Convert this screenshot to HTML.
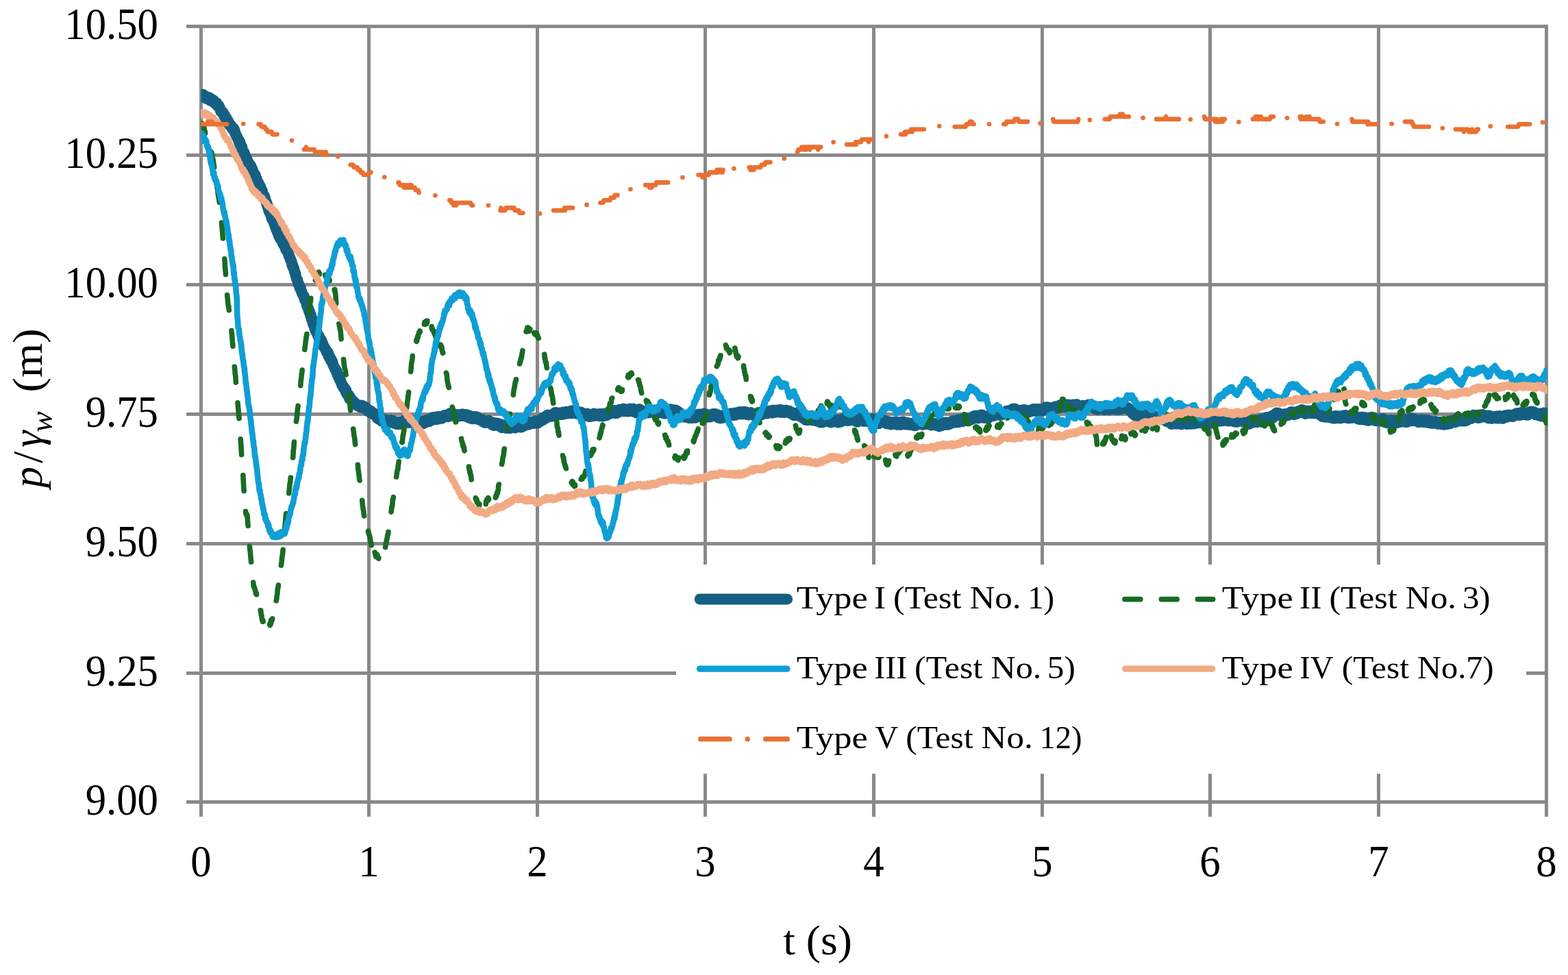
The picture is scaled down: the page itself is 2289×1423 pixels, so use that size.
<!DOCTYPE html>
<html lang="en"><head><meta charset="utf-8"><title>p/γw (m) vs t (s)</title>
<style>
html,body{margin:0;padding:0;background:#ffffff;}
body{width:2289px;height:1423px;overflow:hidden;font-family:'Liberation Serif','DejaVu Serif',serif;}
svg{display:block;}
</style></head><body>
<svg width="2289" height="1423" viewBox="0 0 2289 1423">
<rect width="2289" height="1423" fill="#ffffff"/>
<g fill="#898989" shape-rendering="crispEdges">
<rect x="272" y="36" width="1988" height="5"/>
<rect x="272" y="224" width="1988" height="5"/>
<rect x="272" y="413" width="1988" height="5"/>
<rect x="272" y="602" width="1988" height="5"/>
<rect x="272" y="791" width="1988" height="5"/>
<rect x="272" y="980" width="1988" height="5"/>
<rect x="272" y="1168" width="1988" height="5"/>
<rect x="291" y="36" width="5" height="1156"/>
<rect x="536" y="36" width="5" height="1156"/>
<rect x="782" y="36" width="5" height="1156"/>
<rect x="1027" y="36" width="5" height="1156"/>
<rect x="1273" y="36" width="5" height="1156"/>
<rect x="1519" y="36" width="5" height="1156"/>
<rect x="1764" y="36" width="5" height="1156"/>
<rect x="2010" y="36" width="5" height="1156"/>
<rect x="2255" y="36" width="5" height="1156"/>
</g>
<rect x="987" y="824" width="1241" height="305.3" fill="#ffffff"/>
<clipPath id="pc"><rect x="293.4" y="20" width="1965.6" height="1160"/></clipPath>
<g fill="none" stroke-linecap="round" stroke-linejoin="round">
<g clip-path="url(#pc)">
<path stroke="#156082" stroke-width="16" d="M293.3 139.7l0.5 1.1 0.5 -0.5 0.5 -2 0.5 0.4 0.5 2.5 0.5 -3.3 0.5 3.6 0.5 0.2 0.5 -1.1 0.5 -0.5 0.5 0 0.5 0.1 0.5 1 0.5 0.4 0.5 0.4 0.5 2 0.5 -0.7 0.5 -0.4 0.5 1.8 0.5 -2.7 0.5 0 0.5 2.1 0.5 -2.1 0.5 0.2 0.5 2.3 0.5 0.1 0.5 2.1 0.5 -0.9 0.5 -0.1 0.5 0.2 0.5 -0.6 0.5 -0.6 0.5 1.1 0.5 2.2 0.5 -1.7 0.5 1 0.5 -1.1 0.5 3.7 0.5 -2.4 0.5 0.8 0.5 2.7 0.5 -1.1 0.5 1.8 0.5 -0.3 0.5 0.9 0.5 -2.1 0.5 2.3 0.5 0.4 0.5 2.1 0.5 -1.4 0.5 1.7 0.5 -1.3 0.5 2.1 0.5 0.6 0.5 0.2 0.5 3.5 0.5 -0.8 0.5 3.3 0.5 -0.7 0.5 0.9 0.5 0.8 0.5 0.8 0.5 -1.4 0.5 1.9 0.5 -0.1 0.5 1.3 0.5 -0.5 0.5 4.1 0.5 -2.2 0.5 2.7 0.5 -0.5 0.5 3.2 0.5 -0.1 0.5 -1.3 0.5 3.7 0.5 1.2 0.5 0.8 0.5 -0.4 0.5 -0.9 0.5 0.9 0.5 3.8 0.5 -0.7 0.5 -0.7 0.5 3.7 0.5 -0.3 0.5 0.5 0.5 0 0.5 0.7 0.5 0 0.5 -0.1 0.5 3.9 0.5 -1 0.5 0.8 0.5 -0.1 0.5 2.4 0.5 -2.1 0.5 2.1 0.5 -0.4 0.5 1.4 0.5 4.4 0.5 -0.1 0.5 0.2 0.5 1.6 0.5 2.4 0.5 -1 0.5 2.1 0.5 1.6 0.5 -0.3 0.5 1.7 0.5 2.1 0.5 1.6 0.5 -1.8 0.5 4.4 0.5 -2.5 0.5 4.3 0.5 1.4 0.5 -1.5 0.5 2.3 0.5 2.8 0.5 -2 0.5 3.7 0.5 1.8 0.5 0.1 0.5 2 0.5 -0.9 0.5 1 0.5 1.8 0.5 0.6 0.5 1.9 0.5 3.5 0.5 -0.4 0.5 0.2 0.5 0.7 0.5 3.7 0.5 -1.1 0.5 3.2 0.5 -0.9 0.5 0.9 0.5 2.4 0.5 0.3 0.5 0.2 0.5 0.2 0.5 2.8 0.5 -0.9 0.5 3 0.5 -2.4 0.5 2.4 0.5 1.3 0.5 2.6 0.5 -1.9 0.5 3.1 0.5 0.6 0.5 1.1 0.5 0.8 0.5 2.5 0.5 -1.4 0.5 1.4 0.5 0.3 0.5 0.7 0.5 2 0.5 4 0.5 0.9 0.5 -1.7 0.5 3 0.5 0.5 0.5 1.5 0.5 1.3 0.5 -0.3 0.5 3.7 0.5 -1 0.5 1.7 0.5 1.1 0.5 -0.7 0.5 0.7 0.5 2.6 0.5 2.6 0.5 1.3 0.5 0.7 0.5 -1.3 0.5 4.4 0.5 0.8 0.5 1.6 0.5 0 0.5 2.8 0.5 -2.2 0.5 1.4 0.5 1.4 0.5 2.4 0.5 1.5 0.5 1.2 0.5 2.9 0.5 -0.8 0.5 3.6 0.5 -0.2 0.5 3.5 0.5 -1.2 0.5 2.5 0.5 4 0.5 -0.3 0.5 2.4 0.5 0.7 0.5 1.3 0.5 -0.3 0.5 2.7 0.5 -1 0.5 4.2 0.5 1.8 0.5 0.7 0.5 -2.1 0.5 2.3 0.5 1.1 0.5 0.3 0.5 3.1 0.5 2 0.5 -0.6 0.5 3.5 0.5 1.1 0.5 -1.3 0.5 4 0.5 1.8 0.5 -1.3 0.5 3 0.5 1.6 0.5 1.2 0.5 -0.9 0.5 3.4 0.5 1 0.5 1.8 0.5 0.9 0.5 -0.9 0.5 2.4 0.5 1.4 0.5 0.9 0.5 -2.1 0.5 0.3 0.5 3.5 0.5 -0.8 0.5 2.4 0.5 2.5 0.5 -1.2 0.5 0.6 0.5 1.9 0.5 1.8 0.5 -1.2 0.5 2.2 0.5 0 0.5 3.1 0.5 1.7 0.5 -0.8 0.5 1 0.5 1.7 0.5 -0.3 0.5 1.2 0.5 1.4 0.5 1.8 0.5 -0.3 0.5 3.9 0.5 0.6 0.5 0.3 0.5 0.4 0.5 4.1 0.5 -1 0.5 1.4 0.5 1.5 0.5 1.1 0.5 4.7 0.5 -1.2 0.5 1.5 0.5 3.3 0.5 0.5 0.5 -0.3 0.5 2.4 0.5 3.4 0.5 -0.5 0.5 3 0.5 -0.7 0.5 4.1 0.5 2 0.5 2 0.5 1.1 0.5 0.5 0.5 0.4 0.5 3.4 0.5 2.4 0.5 -1 0.5 1.5 0.5 2.2 0.5 2 0.5 1.8 0.5 -2 0.5 1.3 0.5 3.5 0.5 0.4 0.5 1.3 0.5 2.4 0.5 1 0.5 0.9 0.5 1 0.5 -0.2 0.5 2.3 0.5 -0.6 0.5 3.6 0.5 1.5 0.5 1.3 0.5 0.2 0.5 1.1 0.5 1.6 0.5 -0.2 0.5 4.5 0.5 0.1 0.5 0.7 0.5 1.9 0.5 2 0.5 -0.1 0.5 3.2 0.5 1.7 0.5 -0.8 0.5 0.3 0.5 3.8 0.5 2.5 0.5 -1.7 0.5 3.9 0.5 2.2 0.5 2 0.5 -1.6 0.5 1.5 0.5 5.2 0.5 -1.8 0.5 1.8 0.5 3.1 0.5 0.8 0.5 2.6 0.5 -0.8 0.5 4.2 0.5 -1.5 0.5 3.4 0.5 -1.6 0.5 2.9 0.5 -0.6 0.5 2.2 0.5 1 0.5 2.5 0.5 -0.3 0.5 -0.7 0.5 4.6 0.5 0.4 0.5 1 0.5 -2 0.5 1.4 0.5 0.3 0.5 0.7 0.5 0.7 0.5 3 0.5 -0.5 0.5 1.2 0.5 3.8 0.5 -0.6 0.5 -0.1 0.5 3 0.5 -0.7 0.5 1.9 0.5 -0.1 0.5 1.7 0.5 1.2 0.5 0.4 0.5 0.2 0.5 2.5 0.5 1.1 0.5 -2 0.5 0.7 0.5 0.9 0.5 4.5 0.5 0.9 0.5 -1.6 0.5 4 0.5 -2 0.5 2.3 0.5 1 0.5 2.7 0.5 -2.5 0.5 1.9 0.5 2.2 0.5 -1.2 0.5 1.6 0.5 2 0.5 2.6 0.5 0.5 0.5 1.3 0.5 1 0.5 0.9 0.5 1.8 0.5 0.4 0.5 1.4 0.5 -0.6 0.5 0.5 0.5 3.5 0.5 -1.2 0.5 4.2 0.5 -0.3 0.5 0 0.5 3.5 0.5 -2.1 0.5 2.5 0.5 -0.6 0.5 4.7 0.5 -0.3 0.5 2.1 0.5 -0.9 0.5 3.3 0.5 0.7 0.5 0.9 0.5 2.4 0.5 -0.9 0.5 0.9 0.5 2.1 0.5 1.4 0.5 -1.1 0.5 2.2 0.5 -0.9 0.5 2.2 0.5 1.8 0.5 -2 0.5 3.5 0.5 -2 0.5 4.7 0.5 -1 0.5 0.6 0.5 2.2 0.5 0 0.5 1.7 0.5 -1.8 0.5 2.9 0.5 0.9 0.5 2.4 0.5 -2.8 0.5 2.4 0.5 1.5 0.5 0.3 0.5 -1.2 0.5 2.6 0.5 -1.1 0.5 0.3 0.5 3.1 0.5 -2.3 0.5 1.4 0.5 1.5 0.5 0.1 0.5 -0.4 0.5 1.3 0.5 -0.9 0.5 1.1 0.5 1.2 0.5 -0.2 0.5 0.3 0.5 -0.6 0.5 1 0.5 -0.2 0.5 1.8 0.5 -1.1 0.5 0.5 0.5 1.4 0.5 -0.9 0.5 -0.4 0.5 2.1 0.5 -1.7 0.5 1.9 0.5 -0.1 0.5 -1.3 0.5 1.2 0.5 -2.6 0.5 1.5 0.5 1.9 0.5 -1.1 0.5 0 0.5 0.6 0.5 0.3 0.5 -0.2 0.5 -0.4 0.5 -0.7 0.5 0.6 0.5 0.4 0.5 0.9 0.5 2.8 0.5 -2.1 0.5 0.8 0.5 0.2 0.5 1.3 0.5 1.8 0.5 0.2 0.5 -1.6 0.5 0 0.5 2.8 0.5 -1.2 0.5 1.1 0.5 -2.1 0.5 3.4 0.5 -1.9 0.5 1 0.5 -0.9 0.5 1.2 0.5 1.9 0.5 0.2 0.5 -1.2 0.5 1.5 0.5 -1 0.5 0 0.5 1.2 0.5 -1 0.5 1 0.5 2.2 0.5 0.9 0.5 -2.2 0.5 3.4 0.5 1 0.5 -0.9 0.5 -0.9 0.5 3 0.5 -1.3 0.5 1.9 0.5 -0.7 0.5 1.3 0.5 -1.3 0.5 1 0.5 0.4 0.5 0.5 0.5 -1.6 0.5 3.1 0.5 -2.5 0.5 0.1 0.5 0.1 0.5 -0.6 0.5 1.5 0.5 1.5 0.5 -0.2 0.5 -1.9 0.5 -0.1 0.5 1 0.5 1.9 0.5 -1 0.5 1.7 0.5 -0.9 0.5 0 0.5 0.8 0.5 0 0.5 -1.6 0.5 -0.3 0.5 0.8 0.5 0.2 0.5 -1.5 0.5 1.2 0.5 0.7 0.5 -2.1 0.5 0 0.5 0.1 0.5 0.6 0.5 2.8 0.5 -3.7 0.5 0.8 0.5 0.2 0.5 1.5 0.5 -1.5 0.5 1.9 0.5 -1.1 0.5 0.7 0.5 2.3 0.5 -2.3 0.5 2 0.5 -0.7 0.5 0.2 0.5 1.5 0.5 -2.6 0.5 3.1 0.5 0 0.5 -0.9 0.5 -2.5 0.5 2.5 0.5 -0.4 0.5 0.7 0.5 -2.3 0.5 3 0.5 -0.2 0.5 -3.1 0.5 0.6 0.5 -1.3 0.5 3 0.5 0.1 0.5 0.1 0.5 -1.7 0.5 -0.1 0.5 -0.4 0.5 -0.7 0.5 1.3 0.5 -1.4 0.5 -1 0.5 0.7 0.5 -2 0.5 2.9 0.5 0 0.5 -0.9 0.5 2 0.5 -0.2 0.5 -1.6 0.5 -1.1 0.5 0.1 0.5 0.1 0.5 0.4 0.5 0.4 0.5 1.8 0.5 -2.8 0.5 2.3 0.5 -1 0.5 0.6 0.5 -1.7 0.5 -1.5 0.5 3.2 0.5 -2 0.5 -0.3 0.5 2.7 0.5 -0.3 0.5 -1.9 0.5 0.3 0.5 2.7 0.5 -2.7 0.5 1.6 0.5 -2.3 0.5 2.7 0.5 -2.7 0.5 1.7 0.5 -1.8 0.5 2.2 0.5 1.3 0.5 -3 0.5 1 0.5 2.2 0.5 -0.6 0.5 -1.2 0.5 1.1 0.5 -0.9 0.5 1.6 0.5 -2.2 0.5 1.9 0.5 -0.4 0.5 0.4 0.5 -1.6 0.5 1.4 0.5 0 0.5 -1 0.5 -1.3 0.5 3.7 0.5 -1.2 0.5 -2.3 0.5 2 0.5 -2 0.5 0.7 0.5 1.4 0.5 -1.8 0.5 -1 0.5 -0.2 0.5 -1.2 0.5 0.5 0.5 0 0.5 -0.4 0.5 -0.6 0.5 1.6 0.5 -1.2 0.5 1.9 0.5 0.6 0.5 -2.8 0.5 1.1 0.5 -0.6 0.5 -1.9 0.5 -0.2 0.5 2.7 0.5 -2.1 0.5 1 0.5 -3.1 0.5 2.1 0.5 1 0.5 -0.1 0.5 -3.5 0.5 2 0.5 -0.6 0.5 1.6 0.5 -2.7 0.5 0.8 0.5 2.1 0.5 -1.6 0.5 -0.3 0.5 2 0.5 -2.9 0.5 -1.2 0.5 1.3 0.5 -1 0.5 -0.4 0.5 1.9 0.5 1.6 0.5 -1.4 0.5 0.4 0.5 -1.3 0.5 1 0.5 0.7 0.5 -0.8 0.5 0.7 0.5 -1.2 0.5 -1.5 0.5 1.2 0.5 -0.8 0.5 -1.7 0.5 1.6 0.5 0.6 0.5 -2.9 0.5 1.5 0.5 0.6 0.5 -1.3 0.5 -0.7 0.5 0.4 0.5 0.6 0.5 0.6 0.5 -0.6 0.5 -1.9 0.5 2.7 0.5 0.3 0.5 -3.7 0.5 0.2 0.5 -0.6 0.5 2.4 0.5 0 0.5 -3.6 0.5 0.9 0.5 -0.7 0.5 1 0.5 1.7 0.5 -3.3 0.5 0.6 0.5 1.5 0.5 0.3 0.5 1.1 0.5 -1 0.5 -0.9 0.5 1.1 0.5 2.7 0.5 -0.6 0.5 -2.4 0.5 2.9 0.5 -1.8 0.5 1.9 0.5 -2.9 0.5 3.4 0.5 -2.8 0.5 1.3 0.5 0.8 0.5 -0.6 0.5 -1.4 0.5 0 0.5 0.5 0.5 -0.9 0.5 0.5 0.5 -0.4 0.5 1.3 0.5 -0.6 0.5 0.8 0.5 -1.3 0.5 -1.2 0.5 0.9 0.5 1.6 0.5 -2.1 0.5 0.5 0.5 1.4 0.5 -1.5 0.5 2 0.5 0.2 0.5 -2.3 0.5 1.8 0.5 -1.7 0.5 -0.3 0.5 1.4 0.5 0.8 0.5 1.6 0.5 -2.9 0.5 2.6 0.5 -0.7 0.5 -1.3 0.5 3.5 0.5 -1 0.5 -2 0.5 3.4 0.5 -2.9 0.5 0.1 0.5 1.1 0.5 2.5 0.5 -3.5 0.5 3.7 0.5 -1 0.5 -2 0.5 1.9 0.5 -0.6 0.5 0.3 0.5 0.6 0.5 -0.4 0.5 1.2 0.5 -3.4 0.5 2.6 0.5 -1.6 0.5 1.5 0.5 0.5 0.5 0.4 0.5 -2.7 0.5 0.9 0.5 2.4 0.5 0.3 0.5 -2 0.5 2.5 0.5 -1.8 0.5 0.2 0.5 1.9 0.5 -0.7 0.5 0.3 0.5 0.1 0.5 0.4 0.5 -1 0.5 0.1 0.5 3 0.5 -0.5 0.5 0.6 0.5 0.9 0.5 -2 0.5 0.1 0.5 0.5 0.5 0.3 0.5 2 0.5 -1.5 0.5 -0.3 0.5 1.3 0.5 -1.9 0.5 -0.4 0.5 2.2 0.5 0.2 0.5 -2 0.5 1.4 0.5 -2.4 0.5 1.5 0.5 0.9 0.5 -1 0.5 0.7 0.5 1.4 0.5 0.2 0.5 -1.6 0.5 2.6 0.5 -2.4 0.5 3.9 0.5 -2.8 0.5 0.4 0.5 -0.1 0.5 3.3 0.5 -2.8 0.5 1.4 0.5 1.6 0.5 -0.1 0.5 -3.5 0.5 2 0.5 0.3 0.5 0.5 0.5 -1.5 0.5 0 0.5 -1.2 0.5 0.2 0.5 2.2 0.5 -1.8 0.5 0.7 0.5 0.6 0.5 -0.8 0.5 0.1 0.5 3.9 0.5 -1.7 0.5 -0.6 0.5 2.3 0.5 -2.6 0.5 1.2 0.5 3.1 0.5 -0.1 0.5 -1 0.5 -2.2 0.5 0.9 0.5 -1.2 0.5 0.8 0.5 -0.8 0.5 0.5 0.5 2.2 0.5 -2.1 0.5 0.4 0.5 3.2 0.5 -2.1 0.5 0.2 0.5 -0.9 0.5 2.9 0.5 -0.5 0.5 -0.5 0.5 0.2 0.5 -2 0.5 0.5 0.5 1.1 0.5 1.3 0.5 -0.7 0.5 -0.7 0.5 -0.6 0.5 -2.1 0.5 3.4 0.5 -3.4 0.5 0.1 0.5 2.2 0.5 0.5 0.5 -0.1 0.5 -1.3 0.5 -1 0.5 -0.6 0.5 3.3 0.5 0.6 0.5 -2.8 0.5 2.5 0.5 -1.9 0.5 -0.4 0.5 0.6 0.5 -2.2 0.5 1.5 0.5 -1 0.5 1.9 0.5 -0.9 0.5 1.2 0.5 0.1 0.5 -2.3 0.5 -0.2 0.5 2.7 0.5 -1.7 0.5 -1.6 0.5 -0.4 0.5 3.8 0.5 -1.7 0.5 -2.3 0.5 1.6 0.5 -0.3 0.5 -0.6 0.5 1.8 0.5 -0.3 0.5 -3.5 0.5 0 0.5 0.7 0.5 1.5 0.5 -1 0.5 0.4 0.5 -0.7 0.5 -1.6 0.5 2.3 0.5 -3.4 0.5 2.6 0.5 -2.2 0.5 1 0.5 1.9 0.5 -1.8 0.5 -2.1 0.5 1.4 0.5 0.9 0.5 -2.4 0.5 0.8 0.5 -1 0.5 2.1 0.5 -0.7 0.5 0.4 0.5 -1.1 0.5 1.3 0.5 -2.1 0.5 2.7 0.5 0 0.5 -2.2 0.5 -0.3 0.5 1.4 0.5 -2.5 0.5 2 0.5 -2 0.5 1.8 0.5 -1.5 0.5 1.2 0.5 1.5 0.5 -3.2 0.5 3.1 0.5 -1.1 0.5 -0.8 0.5 -0.3 0.5 -1.5 0.5 0.4 0.5 0.9 0.5 -2.7 0.5 1.7 0.5 0.5 0.5 -0.5 0.5 -0.7 0.5 -0.5 0.5 -2.7 0.5 3 0.5 -3.3 0.5 2.5 0.5 -0.1 0.5 -1.2 0.5 -0.6 0.5 -1.5 0.5 0.9 0.5 -1.3 0.5 -1.1 0.5 -0.3 0.5 2.3 0.5 0.3 0.5 -3.3 0.5 -0.7 0.5 0.8 0.5 -0.6 0.5 0.1 0.5 1.5 0.5 -0.7 0.5 0 0.5 -1 0.5 1.7 0.5 -1.7 0.5 0.3 0.5 0.2 0.5 1.5 0.5 -2.8 0.5 1.6 0.5 -1.9 0.5 2.1 0.5 -2.4 0.5 0.3 0.5 1.3 0.5 -1.2 0.5 -2.5 0.5 0.1 0.5 3.4 0.5 -3.7 0.5 1.2 0.5 2.7 0.5 -3.7 0.5 0.6 0.5 0.3 0.5 -0.5 0.5 1.6 0.5 0.4 0.5 -1.1 0.5 -1 0.5 2.6 0.5 -0.1 0.5 -1 0.5 -1.7 0.5 1.6 0.5 0.3 0.5 -0.9 0.5 1.6 0.5 -2 0.5 0.3 0.5 -1.7 0.5 1.6 0.5 0.6 0.5 -0.3 0.5 -2 0.5 2.7 0.5 -1.1 0.5 -1.2 0.5 0 0.5 1.4 0.5 -2.5 0.5 1.9 0.5 0.3 0.5 -0.9 0.5 1.4 0.5 -1.6 0.5 -0.1 0.5 -0.9 0.5 2.3 0.5 -2.5 0.5 1.5 0.5 -1.2 0.5 2 0.5 0.1 0.5 -3.7 0.5 3.8 0.5 -1.6 0.5 -2.1 0.5 1.8 0.5 -1.7 0.5 2 0.5 -1.5 0.5 0.7 0.5 -0.3 0.5 1.2 0.5 1 0.5 0.6 0.5 -2.4 0.5 1 0.5 -2.2 0.5 1.6 0.5 2.6 0.5 -3.3 0.5 3.3 0.5 -0.9 0.5 -1.4 0.5 2 0.5 -1.8 0.5 2.6 0.5 -3.1 0.5 0.2 0.5 2.5 0.5 -1.1 0.5 -1.2 0.5 1.8 0.5 -0.4 0.5 1.4 0.5 1.3 0.5 0.8 0.5 -2.9 0.5 2.3 0.5 1.5 0.5 -2.1 0.5 1.2 0.5 -2.8 0.5 3.1 0.5 -1.2 0.5 1.2 0.5 -0.4 0.5 0.4 0.5 -3.2 0.5 2.8 0.5 -1.9 0.5 0.5 0.5 0.4 0.5 1.1 0.5 0.2 0.5 1.3 0.5 -3.5 0.5 0.8 0.5 0.7 0.5 1.8 0.5 -1.1 0.5 -0.3 0.5 0.9 0.5 -0.5 0.5 -1.6 0.5 -0.9 0.5 1.3 0.5 1.5 0.5 -1.3 0.5 -2.3 0.5 1.3 0.5 -0.3 0.5 0.7 0.5 0 0.5 1.4 0.5 -2.4 0.5 0.2 0.5 0.9 0.5 1.1 0.5 -0.8 0.5 -0.8 0.5 1.5 0.5 -1.1 0.5 1.9 0.5 -2.7 0.5 -0.5 0.5 3 0.5 -2.1 0.5 2.3 0.5 -0.8 0.5 -0.5 0.5 -1.7 0.5 2.7 0.5 -2.8 0.5 3.5 0.5 -0.5 0.5 -2.4 0.5 -0.8 0.5 3 0.5 -1.7 0.5 -1.4 0.5 1.4 0.5 -1.2 0.5 0.5 0.5 0.8 0.5 1 0.5 -0.7 0.5 -2.8 0.5 1 0.5 -0.3 0.5 1.6 0.5 -3.8 0.5 1.5 0.5 1.4 0.5 -2.3 0.5 -0.8 0.5 1 0.5 -1.1 0.5 2.2 0.5 -3.5 0.5 0.3 0.5 -0.6 0.5 2.4 0.5 -1.7 0.5 2.4 0.5 -0.1 0.5 0.2 0.5 -2.7 0.5 -0.9 0.5 1.7 0.5 2.5 0.5 -0.7 0.5 -2.8 0.5 2.5 0.5 0.7 0.5 0.2 0.5 -1.1 0.5 0.4 0.5 -0.3 0.5 -2.3 0.5 -1.4 0.5 2.2 0.5 -2.6 0.5 0.7 0.5 2.3 0.5 -2 0.5 -0.4 0.5 1.6 0.5 -2.8 0.5 2.9 0.5 -0.4 0.5 -2.3 0.5 0 0.5 -0.8 0.5 3.3 0.5 -2.8 0.5 -0.5 0.5 3.6 0.5 -1 0.5 0.4 0.5 0.4 0.5 -2.6 0.5 0.3 0.5 1.7 0.5 -1.8 0.5 1.8 0.5 0.8 0.5 -0.4 0.5 -0.3 0.5 -2.3 0.5 0.5 0.5 2.6 0.5 -3.2 0.5 1.4 0.5 -2.1 0.5 3.4 0.5 -3.1 0.5 0.8 0.5 0.5 0.5 0.5 0.5 1 0.5 -0.8 0.5 -1.4 0.5 -0.9 0.5 2.9 0.5 1.4 0.5 -3.4 0.5 3.4 0.5 -2.1 0.5 1.5 0.5 0.4 0.5 0.5 0.5 1.3 0.5 -1.3 0.5 -1.5 0.5 1.1 0.5 -1.3 0.5 -0.6 0.5 -0.5 0.5 0.3 0.5 -1 0.5 -0.2 0.5 -0.4 0.5 1.3 0.5 -0.3 0.5 2.4 0.5 0.3 0.5 -1.7 0.5 1.5 0.5 1.5 0.5 -1.8 0.5 1.1 0.5 -0.2 0.5 1 0.5 1.3 0.5 -3.3 0.5 3.3 0.5 -1.5 0.5 0.2 0.5 -0.8 0.5 0.7 0.5 -2.4 0.5 1.3 0.5 -1.9 0.5 1 0.5 0.7 0.5 -1.7 0.5 -0.3 0.5 3.3 0.5 0.3 0.5 -0.4 0.5 -1.4 0.5 1.3 0.5 -2.3 0.5 2.2 0.5 -0.5 0.5 -0.1 0.5 -0.9 0.5 -1.1 0.5 1.8 0.5 -1.1 0.5 1.2 0.5 -1.5 0.5 -1.1 0.5 1.9 0.5 0.3 0.5 1.2 0.5 -0.1 0.5 -3.3 0.5 2.9 0.5 -2 0.5 1.7 0.5 -1.2 0.5 -0.2 0.5 0.8 0.5 0.4 0.5 0.9 0.5 0 0.5 0.3 0.5 -1 0.5 1.2 0.5 -1.3 0.5 1.2 0.5 -0.5 0.5 0.5 0.5 -2.2 0.5 1.8 0.5 -1.2 0.5 0.6 0.5 -1.2 0.5 2.4 0.5 1 0.5 -2.1 0.5 -1 0.5 2.2 0.5 -1.9 0.5 3.1 0.5 -3 0.5 1 0.5 0.4 0.5 -1.6 0.5 0.7 0.5 -0.4 0.5 1.5 0.5 0.7 0.5 -2.9 0.5 1.4 0.5 -2.9 0.5 1.5 0.5 -0.8 0.5 -0.8 0.5 1.9 0.5 -0.6 0.5 -2.5 0.5 0.6 0.5 2.1 0.5 0.7 0.5 -1.5 0.5 1.2 0.5 0.5 0.5 -0.9 0.5 -0.2 0.5 -1.5 0.5 0.8 0.5 1.2 0.5 1.3 0.5 -2.2 0.5 0.6 0.5 -1.5 0.5 2.8 0.5 -0.9 0.5 1.7 0.5 -2 0.5 2 0.5 0.3 0.5 -0.5 0.5 -0.7 0.5 1.2 0.5 1.9 0.5 -1.6 0.5 0.1 0.5 1.9 0.5 -0.5 0.5 2.6 0.5 0.4 0.5 0.9 0.5 -0.2 0.5 -0.6 0.5 -1.7 0.5 2.6 0.5 -0.3 0.5 0.2 0.5 0 0.5 0.7 0.5 -2 0.5 1.6 0.5 -0.5 0.5 -0.5 0.5 0.1 0.5 -0.7 0.5 1.4 0.5 -0.5 0.5 0.2 0.5 1.7 0.5 -0.8 0.5 0 0.5 1.3 0.5 -3.1 0.5 1.1 0.5 -1.6 0.5 1.3 0.5 2.2 0.5 -3.3 0.5 2.9 0.5 0.6 0.5 -1.4 0.5 1.1 0.5 -1.5 0.5 -0.4 0.5 0.5 0.5 -1.3 0.5 0.4 0.5 -0.2 0.5 2.6 0.5 -2.8 0.5 -0.7 0.5 2.7 0.5 -3.3 0.5 3.2 0.5 -0.6 0.5 -1.1 0.5 -1.1 0.5 -1.1 0.5 -0.6 0.5 -0.1 0.5 0.9 0.5 0.3 0.5 2 0.5 -1.6 0.5 1.9 0.5 -1 0.5 -2.2 0.5 1.7 0.5 -1.5 0.5 -0.5 0.5 3.3 0.5 -2.5 0.5 -0.7 0.5 -0.5 0.5 2.1 0.5 -0.8 0.5 -1.9 0.5 2.7 0.5 -1.9 0.5 2.3 0.5 -0.8 0.5 0.4 0.5 -0.2 0.5 1.2 0.5 1.4 0.5 -0.6 0.5 -2.8 0.5 1.8 0.5 -0.9 0.5 -0.6 0.5 0.3 0.5 0.1 0.5 2.7 0.5 -1 0.5 0.3 0.5 -0.7 0.5 -1.6 0.5 0.3 0.5 0.1 0.5 -0.7 0.5 0.3 0.5 1.4 0.5 -2.9 0.5 0.8 0.5 0.7 0.5 0.8 0.5 -0.1 0.5 0.2 0.5 -2.4 0.5 0.5 0.5 0.8 0.5 0.1 0.5 2 0.5 1.1 0.5 -0.9 0.5 -2.3 0.5 1.4 0.5 2.4 0.5 0.8 0.5 -1.1 0.5 -0.9 0.5 0.1 0.5 1.4 0.5 0.9 0.5 -2.1 0.5 -0.7 0.5 -0.9 0.5 0.4 0.5 2.7 0.5 -1.2 0.5 1.4 0.5 -3.9 0.5 1.1 0.5 1.7 0.5 -0.5 0.5 -2.5 0.5 1.2 0.5 0.8 0.5 0.1 0.5 -1.1 0.5 -1.1 0.5 3 0.5 -2.1 0.5 0.9 0.5 -1 0.5 -1.9 0.5 0.6 0.5 -0.8 0.5 0.4 0.5 -0.1 0.5 0.8 0.5 -0.5 0.5 -0.1 0.5 1.6 0.5 -3.3 0.5 0.1 0.5 2.7 0.5 -1.1 0.5 -0.4 0.5 -0.8 0.5 1.1 0.5 -1.4 0.5 2.6 0.5 -0.2 0.5 -2.1 0.5 -1.3 0.5 3.4 0.5 -2.6 0.5 1.2 0.5 0.6 0.5 -0.5 0.5 0.1 0.5 -1.7 0.5 1.2 0.5 -1.6 0.5 -1 0.5 0.8 0.5 -0.7 0.5 1.7 0.5 0.3 0.5 -2.7 0.5 0.1 0.5 1 0.5 0.4 0.5 1.9 0.5 0 0.5 0.1 0.5 -0.8 0.5 -0.2 0.5 -1.7 0.5 0.5 0.5 -1.5 0.5 3.3 0.5 -2.3 0.5 -0.6 0.5 1 0.5 0.1 0.5 1.7 0.5 -2.6 0.5 1.1 0.5 2.7 0.5 -0.1 0.5 -0.7 0.5 -0.2 0.5 -1.2 0.5 2.6 0.5 -0.4 0.5 -1.1 0.5 -1.5 0.5 0.1 0.5 0.6 0.5 -0.2 0.5 -1 0.5 1.5 0.5 0.1 0.5 -0.5 0.5 0.5 0.5 0 0.5 0.5 0.5 1.3 0.5 -0.2 0.5 -0.9 0.5 2.5 0.5 -1 0.5 -0.1 0.5 1 0.5 0.2 0.5 0.2 0.5 -0.4 0.5 -0.8 0.5 -0.1 0.5 -2.6 0.5 1.9 0.5 -2.1 0.5 -0.1 0.5 -0.7 0.5 0.9 0.5 -1.5 0.5 2.7 0.5 0.4 0.5 0.2 0.5 -2.7 0.5 2.1 0.5 0.9 0.5 -3.3 0.5 0.7 0.5 0.4 0.5 0.6 0.5 -1.4 0.5 1.2 0.5 -0.8 0.5 1.1 0.5 -0.6 0.5 0.5 0.5 -1.8 0.5 1.4 0.5 -0.2 0.5 -0.3 0.5 -2.7 0.5 3.4 0.5 -1.7 0.5 -1.4 0.5 0.5 0.5 0.2 0.5 0 0.5 -1 0.5 0.1 0.5 0.4 0.5 1.6 0.5 -1.4 0.5 -1.6 0.5 1.7 0.5 -1.1 0.5 -0.9 0.5 3.8 0.5 -2.9 0.5 0.8 0.5 -0.7 0.5 -1.3 0.5 3.3 0.5 0.1 0.5 -3.1 0.5 1 0.5 -0.1 0.5 -0.8 0.5 2 0.5 0.5 0.5 -0.2 0.5 -0.3 0.5 -2.6 0.5 0.9 0.5 1 0.5 0.7 0.5 -1.4 0.5 0.2 0.5 1.5 0.5 -3.3 0.5 1 0.5 0.1 0.5 2.8 0.5 -3.1 0.5 -0.6 0.5 1.6 0.5 1.1 0.5 -1.9 0.5 2.8 0.5 -2.4 0.5 2.1 0.5 -2.2 0.5 2.9 0.5 -2.8 0.5 2.1 0.5 0.3 0.5 -2.5 0.5 -0.7 0.5 1.9 0.5 -0.5 0.5 -0.1 0.5 1.2 0.5 -1.2 0.5 0.3 0.5 0.1 0.5 0.1 0.5 0.2 0.5 -0.8 0.5 0.9 0.5 0.3 0.5 0.2 0.5 2.5 0.5 -2.3 0.5 0.6 0.5 1.6 0.5 -0.6 0.5 -0.1 0.5 0.7 0.5 0.6 0.5 0.7 0.5 1.3 0.5 -0.4 0.5 -1.7 0.5 0 0.5 -0.1 0.5 -0.8 0.5 2.8 0.5 -3.5 0.5 0.6 0.5 1.8 0.5 -0.3 0.5 -1.1 0.5 2.7 0.5 -2 0.5 0.9 0.5 -1.7 0.5 3.4 0.5 -3 0.5 1.4 0.5 2.3 0.5 0.5 0.5 0.1 0.5 0 0.5 -2 0.5 -0.5 0.5 2 0.5 -1.1 0.5 4 0.5 -3.4 0.5 1.6 0.5 -0.1 0.5 -0.3 0.5 2.3 0.5 -1.3 0.5 3.6 0.5 -0.6 0.5 -1.2 0.5 2 0.5 -0.1 0.5 -2 0.5 2 0.5 0.2 0.5 -1.5 0.5 -1.3 0.5 2 0.5 0.2 0.5 -2.4 0.5 -1.1 0.5 3.1 0.5 -0.6 0.5 -1.6 0.5 1.5 0.5 -0.9 0.5 2.7 0.5 -2.2 0.5 -0.5 0.5 -0.7 0.5 1.2 0.5 2.7 0.5 -3.1 0.5 0.9 0.5 2.2 0.5 -3.8 0.5 1.3 0.5 2.2 0.5 -2.6 0.5 3.5 0.5 -0.1 0.5 -2.5 0.5 2.1 0.5 0.1 0.5 0.8 0.5 -1.4 0.5 0.4 0.5 -0.3 0.5 0.3 0.5 -0.3 0.5 3 0.5 0 0.5 -2.1 0.5 1.3 0.5 -0.9 0.5 -0.9 0.5 0.2 0.5 2.3 0.5 -2.6 0.5 0.8 0.5 1.3 0.5 -2.8 0.5 1.8 0.5 -3 0.5 2.3 0.5 0.1 0.5 -0.1 0.5 0.4 0.5 -1.3 0.5 1 0.5 -2.8 0.5 1 0.5 -1.1 0.5 -0.3 0.5 1.7 0.5 1.4 0.5 0.6 0.5 -2.7 0.5 4.1 0.5 -2.6 0.5 0.4 0.5 2.3 0.5 0.3 0.5 -0.7 0.5 -1.7 0.5 0.4 0.5 1.3 0.5 -2.1 0.5 1.6 0.5 -0.3 0.5 -1.4 0.5 1.5 0.5 -2.1 0.5 1.5 0.5 -0.5 0.5 -1.2 0.5 0.9 0.5 0.4 0.5 -0.2 0.5 -1.5 0.5 3.8 0.5 0.1 0.5 -3.5 0.5 3.7 0.5 -1.6 0.5 -1.6 0.5 2.7 0.5 -1.6 0.5 1.1 0.5 0.2 0.5 -1.4 0.5 -2.3 0.5 2.8 0.5 -0.7 0.5 0.6 0.5 -2.9 0.5 1.8 0.5 0.1 0.5 -2.4 0.5 0.1 0.5 -0.4 0.5 -1.3 0.5 1 0.5 0.5 0.5 -0.8 0.5 2.8 0.5 -1 0.5 0.8 0.5 -1 0.5 0.5 0.5 1.5 0.5 -1.2 0.5 0.4 0.5 -0.9 0.5 0.3 0.5 1.1 0.5 -2.7 0.5 0.7 0.5 0.5 0.5 -2.6 0.5 3.3 0.5 -1.9 0.5 -1.1 0.5 2 0.5 0.1 0.5 -0.8 0.5 1.1 0.5 -3.4 0.5 1.8 0.5 1 0.5 1.1 0.5 -0.7 0.5 0.2 0.5 -0.3 0.5 1.1 0.5 0.3 0.5 1.7 0.5 0 0.5 -0.2 0.5 0.8 0.5 -3.7 0.5 2.5 0.5 -1.4 0.5 0.9 0.5 -2.2 0.5 0.5 0.5 1.2 0.5 -3.4 0.5 0.9 0.5 0.7 0.5 1.6 0.5 -2.2 0.5 2.4 0.5 -2.2 0.5 0.4 0.5 1.2 0.5 0.6 0.5 1.2 0.5 0.1 0.5 -2.4 0.5 1.9 0.5 -0.5 0.5 -1.1 0.5 1.5 0.5 0.4 0.5 -1.6 0.5 1.8 0.5 -3.2 0.5 0.2 0.5 2.3 0.5 -1.8 0.5 1.2 0.5 -0.2 0.5 -1.3 0.5 2.5 0.5 -0.2 0.5 -2.6 0.5 0.4 0.5 2.1 0.5 0.4 0.5 -0.2 0.5 -1.5 0.5 -0.7 0.5 0.1 0.5 -1.1 0.5 1.4 0.5 -0.9 0.5 -0.2 0.5 1.1 0.5 -1 0.5 1.8 0.5 1.3 0.5 0.2 0.5 1.8 0.5 0 0.5 -0.6 0.5 1.4 0.5 -1.6 0.5 1.5 0.5 -1.9 0.5 1 0.5 1.7 0.5 -1.7 0.5 -0.6 0.5 1 0.5 -2.1 0.5 1.7 0.5 -3.4 0.5 0.7 0.5 -0.5 0.5 0.2 0.5 2.7 0.5 -3.8 0.5 1.1 0.5 1.2 0.5 0.6 0.5 0.5 0.5 -1.4 0.5 -0.4 0.5 2.8 0.5 -2.6 0.5 -0.1 0.5 1 0.5 1.3 0.5 1.9 0.5 -0.9 0.5 -0.6 0.5 0 0.5 0.8 0.5 -0.1 0.5 -1.1 0.5 -0.9 0.5 0.5 0.5 2.4 0.5 -0.4 0.5 0.8 0.5 -2.8 0.5 3.4 0.5 -2.2 0.5 2 0.5 -1.3 0.5 -0.2 0.5 1.1 0.5 -0.9 0.5 0.1 0.5 -2 0.5 1.7 0.5 -1 0.5 -1 0.5 0.4 0.5 1.5 0.5 -0.8 0.5 2 0.5 -2.4 0.5 -0.5 0.5 3.9 0.5 -2.7 0.5 0.9 0.5 -1.2 0.5 -0.1 0.5 0.7 0.5 1.6 0.5 -3 0.5 3.1 0.5 0.8 0.5 -1.8 0.5 -0.8 0.5 -0.6 0.5 -0.3 0.5 0.6 0.5 2 0.5 -3.5 0.5 3.1 0.5 -0.5 0.5 -2.6 0.5 0.3 0.5 2.7 0.5 -0.1 0.5 -1.3 0.5 2.2 0.5 -2.5 0.5 1 0.5 -1.1 0.5 2.2 0.5 -2.2 0.5 0.3 0.5 2.5 0.5 -1 0.5 0.8 0.5 0.4 0.5 -0.4 0.5 -1.6 0.5 2.1 0.5 -2.2 0.5 0.7 0.5 0.8 0.5 -1.3 0.5 0 0.5 2.2 0.5 0.3 0.5 -1.5 0.5 0.1 0.5 -0.7 0.5 1.3 0.5 0.2 0.5 1.3 0.5 -3.6 0.5 3.4 0.5 0.2 0.5 -2.7 0.5 1.5 0.5 0.3 0.5 -0.9 0.5 -1.8 0.5 1.2 0.5 0.8 0.5 -3.2 0.5 1.3 0.5 -2 0.5 3.1 0.5 -0.4 0.5 -3 0.5 2.9 0.5 -0.1 0.5 -2 0.5 1.7 0.5 0.7 0.5 -1.3 0.5 0.8 0.5 2 0.5 -1.2 0.5 -0.4 0.5 -1.8 0.5 0.1 0.5 2.7 0.5 -0.5 0.5 0.4 0.5 -1 0.5 0 0.5 -0.1 0.5 0.7 0.5 -1.7 0.5 0.7 0.5 -0.1 0.5 0.9 0.5 -1.8 0.5 -0.7 0.5 0.2 0.5 0.5 0.5 2.8 0.5 -0.4 0.5 0.3 0.5 -1 0.5 -1.2 0.5 1.6 0.5 1.6 0.5 -1.4 0.5 0.6 0.5 -1.1 0.5 -1 0.5 2 0.5 -0.6 0.5 -0.6 0.5 -0.4 0.5 1.7 0.5 -1.5 0.5 1.1 0.5 -1.2 0.5 2.1 0.5 -1.4 0.5 0.5 0.5 1.9 0.5 -0.7 0.5 0.3 0.5 -1.4 0.5 2.2 0.5 -1.7 0.5 2.4 0.5 -0.3 0.5 -1 0.5 0.6 0.5 -1.3 0.5 0.5 0.5 -2.6 0.5 3.1 0.5 -1 0.5 -3 0.5 0.2 0.5 1 0.5 0.6 0.5 -2.6 0.5 3.2 0.5 -2.4 0.5 2.6 0.5 -0.8 0.5 -1 0.5 -0.5 0.5 -1.1 0.5 0 0.5 2.2 0.5 0.6 0.5 0.5 0.5 -2.3 0.5 2.2 0.5 -2.7 0.5 2.4 0.5 -0.2 0.5 -3.1 0.5 2.6 0.5 -0.8 0.5 -0.2 0.5 0.3 0.5 -1.5 0.5 -0.4 0.5 -0.9 0.5 1.9 0.5 0 0.5 -3.1 0.5 2.3 0.5 -2 0.5 -0.4 0.5 0.1 0.5 1.6 0.5 -1.1 0.5 -0.1 0.5 -0.6 0.5 0.8 0.5 1.8 0.5 -3.1 0.5 1.6 0.5 0.2 0.5 -2.4 0.5 0.8 0.5 2.2 0.5 0.2 0.5 -0.7 0.5 -2.9 0.5 2.2 0.5 -1.5 0.5 -1.2 0.5 1.3 0.5 1.7 0.5 -0.1 0.5 -2 0.5 -1.3 0.5 3.3 0.5 0.4 0.5 -1.8 0.5 -0.9 0.5 1.3 0.5 0.5 0.5 -1 0.5 -0.7 0.5 -0.5 0.5 0 0.5 -1.2 0.5 0.7 0.5 2.5 0.5 -4.1 0.5 2.7 0.5 0.1 0.5 -1.5 0.5 0.7 0.5 -1.5 0.5 1.7 0.5 0.2 0.5 0 0.5 -1 0.5 1.8 0.5 -0.6 0.5 -1.4 0.5 0.1 0.5 -1.9 0.5 2.4 0.5 -1.4 0.5 0.7 0.5 -2.6 0.5 2.6 0.5 -3.8 0.5 1.6 0.5 -1.9 0.5 0.3 0.5 2.2 0.5 -2.8 0.5 1.2 0.5 -0.8 0.5 2.6 0.5 -3 0.5 1.2 0.5 2.1 0.5 -0.6 0.5 0 0.5 1.1 0.5 -4 0.5 2.5 0.5 0.2 0.5 -0.1 0.5 -0.4 0.5 -2.9 0.5 -0.2 0.5 2.7 0.5 -0.7 0.5 -1.3 0.5 -0.9 0.5 2.4 0.5 -1.5 0.5 2.9 0.5 -1.4 0.5 2.1 0.5 -2.7 0.5 1.6 0.5 -1.6 0.5 2.7 0.5 -1 0.5 -1.5 0.5 2.7 0.5 -1.3 0.5 -1.5 0.5 1.9 0.5 -1.8 0.5 2.3 0.5 -2.6 0.5 2.7 0.5 -3.7 0.5 2.6 0.5 -1.8 0.5 0.4 0.5 0.7 0.5 -2.6 0.5 0.5 0.5 -0.8 0.5 2.4 0.5 -2.3 0.5 0.9 0.5 -0.9 0.5 -0.6 0.5 2.5 0.5 -1.9 0.5 0.3 0.5 0 0.5 0.2 0.5 -2.5 0.5 -1 0.5 1.3 0.5 -1.5 0.5 -0.7 0.5 3.5 0.5 -1.2 0.5 -0.9 0.5 -0.9 0.5 2.6 0.5 -0.7 0.5 -1.3 0.5 3.4 0.5 0.1 0.5 0.1 0.5 -0.1 0.5 -1.1 0.5 -0.9 0.5 1.3 0.5 -2.1 0.5 1.7 0.5 -2.3 0.5 -0.4 0.5 2.5 0.5 -1.7 0.5 1 0.5 0.1 0.5 0 0.5 -1.1 0.5 0.7 0.5 -1 0.5 1 0.5 -0.3 0.5 -3.5 0.5 0.8 0.5 0.4 0.5 -0.7 0.5 -0.4 0.5 2.7 0.5 -3.4 0.5 0.6 0.5 2.3 0.5 -2.3 0.5 -0.1 0.5 2.6 0.5 -1 0.5 -1.5 0.5 -1.5 0.5 0.3 0.5 2.5 0.5 -1.2 0.5 -3.2 0.5 2.3 0.5 -1.4 0.5 1.4 0.5 -1.8 0.5 -0.5 0.5 -0.3 0.5 1.3 0.5 2.4 0.5 0.5 0.5 -0.7 0.5 0.4 0.5 -2.2 0.5 0.6 0.5 2.2 0.5 0.3 0.5 -2.2 0.5 1.5 0.5 0.7 0.5 0.3 0.5 -2.7 0.5 1.7 0.5 -0.9 0.5 0.6 0.5 0.1 0.5 -0.7 0.5 -1 0.5 2.8 0.5 -0.5 0.5 0.3 0.5 -2.9 0.5 0.1 0.5 1.3 0.5 1.2 0.5 -1.9 0.5 -1 0.5 1.6 0.5 1.8 0.5 -0.2 0.5 0.5 0.5 -1.7 0.5 -0.5 0.5 2.5 0.5 -0.4 0.5 0.2 0.5 -1.9 0.5 -0.6 0.5 -0.4 0.5 2.3 0.5 0 0.5 -2.4 0.5 1.9 0.5 -2 0.5 0.3 0.5 0.3 0.5 -1.4 0.5 0.2 0.5 -0.1 0.5 -0.1 0.5 0.9 0.5 -1.7 0.5 2.7 0.5 -2.6 0.5 1.1 0.5 0.8 0.5 -2.1 0.5 1.1 0.5 0.7 0.5 -0.1 0.5 1.5 0.5 -0.5 0.5 -2.7 0.5 2.9 0.5 -1.2 0.5 0.5 0.5 -2.1 0.5 1.2 0.5 0.8 0.5 0.5 0.5 -0.1 0.5 -2.3 0.5 2.4 0.5 -1 0.5 0.3 0.5 0.7 0.5 -1.9 0.5 2 0.5 -0.2 0.5 -0.5 0.5 -1.9 0.5 0.4 0.5 -1.6 0.5 2.2 0.5 0.3 0.5 -3.1 0.5 2.2 0.5 -0.5 0.5 -2.8 0.5 3.4 0.5 -1.7 0.5 -0.9 0.5 -0.8 0.5 3.1 0.5 -1.7 0.5 1 0.5 -1.1 0.5 1.9 0.5 -0.7 0.5 1.6 0.5 -0.6 0.5 0.2 0.5 -2 0.5 -0.9 0.5 3.2 0.5 -0.1 0.5 -1.5 0.5 0.8 0.5 -1 0.5 -0.5 0.5 -0.8 0.5 -0.3 0.5 0.4 0.5 -1.2 0.5 0.7 0.5 0.3 0.5 -1.8 0.5 1.5 0.5 -0.5 0.5 1.2 0.5 0.5 0.5 -0.9 0.5 0 0.5 -0.2 0.5 -1.6 0.5 0.3 0.5 1.6 0.5 0.2 0.5 -3.2 0.5 -0.9 0.5 3.7 0.5 -0.5 0.5 -1.2 0.5 0.7 0.5 -0.9 0.5 1.1 0.5 -2.7 0.5 0.7 0.5 0.9 0.5 -1.7 0.5 2 0.5 -1.8 0.5 1.8 0.5 0.4 0.5 -1.6 0.5 2.2 0.5 -1.4 0.5 0.6 0.5 -3 0.5 0.3 0.5 2.3 0.5 1 0.5 -1.3 0.5 1.2 0.5 -3.4 0.5 3.4 0.5 0.1 0.5 -0.9 0.5 -0.7 0.5 1.1 0.5 -1.8 0.5 1.7 0.5 0.1 0.5 -0.6 0.5 -1.2 0.5 -1.1 0.5 0.6 0.5 2.4 0.5 -2.7 0.5 -0.6 0.5 0.6 0.5 0.9 0.5 0.1 0.5 1 0.5 -0.2 0.5 0.4 0.5 -0.3 0.5 -1.7 0.5 -1.1 0.5 3.4 0.5 -2.8 0.5 1.8 0.5 -1.2 0.5 2.6 0.5 -2.2 0.5 1.1 0.5 -0.6 0.5 2.7 0.5 -0.8 0.5 0.2 0.5 -1.1 0.5 -0.6 0.5 2.6 0.5 -0.6 0.5 -0.3 0.5 0.9 0.5 -1.8 0.5 -1.6 0.5 1.6 0.5 -1.5 0.5 0.7 0.5 -0.2 0.5 0.4 0.5 1.5 0.5 -0.5 0.5 -1.6 0.5 1.5 0.5 0.1 0.5 -0.4 0.5 -0.9 0.5 1.4 0.5 -1.7 0.5 -1.7 0.5 0.6 0.5 1.6 0.5 -1 0.5 0.2 0.5 0 0.5 -0.7 0.5 -0.4 0.5 -0.1 0.5 2.6 0.5 -1.3 0.5 0.6 0.5 2.1 0.5 -1.1 0.5 1 0.5 0 0.5 1 0.5 -3.3 0.5 1.5 0.5 2.6 0.5 -1.6 0.5 2.2 0.5 -2.9 0.5 -0.3 0.5 3.4 0.5 -1.8 0.5 0.5 0.5 1.8 0.5 -2.9 0.5 2.8 0.5 -2.4 0.5 -0.7 0.5 -0.1 0.5 1 0.5 -0.2 0.5 1.6 0.5 -3.4 0.5 0.1 0.5 0.5 0.5 2 0.5 0.7 0.5 -1 0.5 0.6 0.5 0.2 0.5 -2.4 0.5 0.9 0.5 3 0.5 -2.8 0.5 2.4 0.5 -1.9 0.5 -1 0.5 -0.9 0.5 0.8 0.5 0.4 0.5 0.4 0.5 0 0.5 0.4 0.5 -0.1 0.5 -1.6 0.5 1 0.5 2.7 0.5 -3.8 0.5 2.8 0.5 -1 0.5 0.9 0.5 -1.5 0.5 0.1 0.5 0.5 0.5 1.4 0.5 -2.5 0.5 -1.1 0.5 -0.3 0.5 3.5 0.5 -2.3 0.5 -0.7 0.5 2 0.5 1 0.5 -0.9 0.5 -1.7 0.5 1.2 0.5 -0.5 0.5 -0.8 0.5 3.7 0.5 -2 0.5 -1.3 0.5 3 0.5 0.3 0.5 -0.8 0.5 -2.3 0.5 -0.3 0.5 1.4 0.5 0.1 0.5 1.1 0.5 0.3 0.5 -0.3 0.5 -2.3 0.5 0.9 0.5 -1.9 0.5 1.5 0.5 -1.9 0.5 0.1 0.5 0.1 0.5 0.7 0.5 0 0.5 1.6 0.5 -2.5 0.5 0.3 0.5 2.3 0.5 0.2 0.5 0.2 0.5 0.2 0.5 -0.2 0.5 -0.4 0.5 1 0.5 -2.4 0.5 0.8 0.5 2.4 0.5 -2 0.5 1.6 0.5 -0.8 0.5 1 0.5 1.9 0.5 -0.3 0.5 -0.5 0.5 -0.3 0.5 2.5 0.5 0 0.5 -0.3 0.5 2.3 0.5 -0.2 0.5 1.7 0.5 -0.8 0.5 1.4 0.5 -0.8 0.5 1.1 0.5 0.9 0.5 -2.6 0.5 1.9 0.5 0.8 0.5 -1.9 0.5 3.3 0.5 0 0.5 1.1 0.5 -2.2 0.5 0.5 0.5 1.9 0.5 -1.8 0.5 1.8 0.5 -1.5 0.5 -0.3 0.5 -0.2 0.5 -0.2 0.5 1 0.5 -1 0.5 2.8 0.5 0.7 0.5 -3.6 0.5 -0.3 0.5 -0.3 0.5 3.7 0.5 -3.4 0.5 2.3 0.5 -1.6 0.5 -0.4 0.5 0 0.5 1.6 0.5 -2.6 0.5 3.5 0.5 -1.2 0.5 -1.3 0.5 -0.3 0.5 1.6 0.5 -0.3 0.5 -1.3 0.5 0 0.5 0.5 0.5 1.5 0.5 -1.7 0.5 1.1 0.5 -1 0.5 -0.3 0.5 -0.1 0.5 0.9 0.5 -0.6 0.5 1.1 0.5 -1.9 0.5 0.9 0.5 2.7 0.5 -1.6 0.5 2.2 0.5 0.7 0.5 -1.2 0.5 -1.7 0.5 2.8 0.5 -0.3 0.5 -1.4 0.5 2.2 0.5 -1.5 0.5 -1.9 0.5 0 0.5 0.6 0.5 1.6 0.5 0.9 0.5 -2.8 0.5 -0.2 0.5 2.5 0.5 -0.7 0.5 0.1 0.5 1.7 0.5 0.6 0.5 0.3 0.5 -0.7 0.5 -3.1 0.5 0.5 0.5 1.8 0.5 1.6 0.5 -3.4 0.5 1.9 0.5 -0.4 0.5 0.2 0.5 -0.4 0.5 0.3 0.5 0.1 0.5 -0.3 0.5 2.1 0.5 -0.1 0.5 1.4 0.5 -0.1 0.5 1.5 0.5 -2.3 0.5 2.2 0.5 -1.8 0.5 1.3 0.5 0.8 0.5 -1.4 0.5 0.3 0.5 0.9 0.5 -1.7 0.5 2.1 0.5 -1.3 0.5 1.1 0.5 1.8 0.5 1.6 0.5 0.3 0.5 -2.9 0.5 -0.3 0.5 1.5 0.5 -0.4 0.5 -0.4 0.5 1.4 0.5 -0.5 0.5 -0.6 0.5 0.3 0.5 -0.2 0.5 0.5 0.5 1 0.5 0.1 0.5 0.2 0.5 -0.4 0.5 -2.9 0.5 1.4 0.5 1.2 0.5 -1.9 0.5 1.2 0.5 -2 0.5 0.7 0.5 0.8 0.5 -1.2 0.5 1.6 0.5 -0.7 0.5 2.6 0.5 -2 0.5 0.3 0.5 1.8 0.5 -1.1 0.5 -2.2 0.5 0.6 0.5 1.5 0.5 -1.8 0.5 0 0.5 1.5 0.5 -0.7 0.5 -0.9 0.5 1 0.5 0.4 0.5 -2.3 0.5 1.1 0.5 0.2 0.5 2.3 0.5 -3.3 0.5 1.2 0.5 -0.6 0.5 2 0.5 0.4 0.5 -3 0.5 3.1 0.5 -0.7 0.5 -2 0.5 2.8 0.5 -2.5 0.5 1.9 0.5 -2.8 0.5 1.4 0.5 0.1 0.5 1.5 0.5 -0.3 0.5 -1.3 0.5 -2.1 0.5 1.6 0.5 -0.3 0.5 2.5 0.5 -1.4 0.5 -1.1 0.5 -0.1 0.5 1.6 0.5 -2.7 0.5 2.9 0.5 -0.4 0.5 -1.1 0.5 1.1 0.5 -1.3 0.5 -1.1 0.5 1.1 0.5 -1.6 0.5 0 0.5 1.4 0.5 1.4 0.5 -2.8 0.5 1.1 0.5 1.7 0.5 -0.7 0.5 0.1 0.5 -1 0.5 -0.3 0.5 0.1 0.5 0.2 0.5 -0.5 0.5 -0.1 0.5 -0.3 0.5 -0.5 0.5 1.6 0.5 1.9 0.5 -0.8 0.5 -1.5 0.5 2.7 0.5 -3.2 0.5 3.6 0.5 -1.2 0.5 -0.4 0.5 -0.6 0.5 1.5 0.5 -3.4 0.5 -0.1 0.5 2 0.5 -1 0.5 0.3 0.5 0.4 0.5 -2.1 0.5 3.6 0.5 -1.4 0.5 -2.4 0.5 2.5 0.5 -1 0.5 0.4 0.5 0.2 0.5 0.9 0.5 -3.6 0.5 3.4 0.5 -2.2 0.5 -1.2 0.5 0.5 0.5 -0.2 0.5 2.1 0.5 -1.5 0.5 -2.1 0.5 2.5 0.5 -1 0.5 1.2 0.5 -3.2 0.5 3.2 0.5 0.1 0.5 -3.6 0.5 1.7 0.5 -1.5 0.5 1.7 0.5 -1.8 0.5 3.3 0.5 -2.8 0.5 1.9 0.5 -0.2 0.5 -1.4 0.5 -0.5 0.5 2.8 0.5 -3.6 0.5 0.6 0.5 0.2 0.5 0.9 0.5 -0.9 0.5 -1 0.5 1.9 0.5 0.7 0.5 0 0.5 -0.8 0.5 -0.6 0.5 -1.1 0.5 2.4 0.5 0.4 0.5 -0.8 0.5 2 0.5 -3.1 0.5 2.4 0.5 -0.4 0.5 0.7 0.5 0.1 0.5 -2.8 0.5 2.6 0.5 -2.1 0.5 1.2 0.5 1.3 0.5 -1.3 0.5 0.1 0.5 -1.9 0.5 2.2 0.5 -1.3 0.5 0.7 0.5 0 0.5 2.5 0.5 -1.3 0.5 0.4 0.5 -2.1 0.5 0.6 0.5 2.4 0.5 -2.9 0.5 3.4 0.5 -2 0.5 0 0.5 0.5 0.5 -0.4 0.5 0 0.5 -0.3 0.5 0.9 0.5 -1.8 0.5 -0.7 0.5 0.9 0.5 -1.5 0.5 1.4 0.5 0.3 0.5 1.2 0.5 -2.6 0.5 1.3 0.5 1.7 0.5 -1.6 0.5 2.2 0.5 -0.3 0.5 -2.5 0.5 1.5 0.5 1.6 0.5 -0.7 0.5 0.8 0.5 1.6 0.5 -1 0.5 -0.2 0.5 1.5 0.5 -1.4 0.5 -1.5 0.5 1.3 0.5 1.4 0.5 1.5 0.5 -1.5 0.5 -1.5 0.5 2.6 0.5 -2.6 0.5 -0.9 0.5 1.1 0.5 -1.1 0.5 -1.1 0.5 2.2 0.5 -0.3 0.5 0.9 0.5 -3.3 0.5 3.2 0.5 -0.6 0.5 -2.3 0.5 0.8 0.5 0.7 0.5 -1.3 0.5 -0.9 0.5 2.9 0.5 -2.7 0.5 1.2 0.5 -0.3 0.5 1.8 0.5 -1.5 0.5 -0.6 0.5 1.9 0.5 -2.6 0.5 1.4 0.5 -2 0.5 1.9 0.5 -0.1 0.5 0.3 0.5 -1.4 0.5 -1 0.5 1.8 0.5 1.1 0.5 -2.4 0.5 -1.2 0.5 0.6 0.5 2.9 0.5 -3.8 0.5 -0.1 0.5 -0.1 0.5 2.7 0.5 -2.4 0.5 1 0.5 -0.2 0.5 -1.2 0.5 1 0.5 -1.2 0.5 0.2 0.5 -0.9 0.5 -1.2 0.5 2.4 0.5 -1.2 0.5 0 0.5 2.3 0.5 -2.2 0.5 -1.2 0.5 1.9 0.5 -0.6 0.5 -2.1 0.5 0.9 0.5 0.8 0.5 -1.7 0.5 2.6 0.5 -1 0.5 -1.3 0.5 1.5 0.5 -3.8 0.5 0.5 0.5 2.5 0.5 -2 0.5 -1.6 0.5 1.3 0.5 0.2 0.5 -0.8 0.5 -2.7 0.5 -0.4 0.5 1.1 0.5 -1.8 0.5 0.2 0.5 2.1 0.5 -0.9 0.5 -1.5 0.5 3.2 0.5 -2 0.5 2.1 0.5 -0.9 0.5 0.4 0.5 -0.6 0.5 1.1 0.5 -1.5 0.5 0.3 0.5 2.6 0.5 -2.6 0.5 0.8 0.5 1.5 0.5 -1.7 0.5 0.1 0.5 2 0.5 -2.9 0.5 0 0.5 2.4 0.5 -2.5 0.5 0.2 0.5 2.1 0.5 -2.3 0.5 2.6 0.5 -0.7 0.5 0.1 0.5 -2.5 0.5 0 0.5 2.1 0.5 0.2 0.5 -2.5 0.5 -0.2 0.5 0 0.5 -0.6 0.5 0.7 0.5 0 0.5 0.3 0.5 -2.5 0.5 0.4 0.5 -0.4 0.5 0.6 0.5 -0.4 0.5 3.1 0.5 -2.2 0.5 -0.8 0.5 2.2 0.5 1.4 0.5 -0.8 0.5 -0.6 0.5 -1.1 0.5 0 0.5 -0.5 0.5 1.8 0.5 -0.1 0.5 -1.5 0.5 1.3 0.5 -1.1 0.5 -0.1 0.5 -1.9 0.5 -0.4 0.5 -0.3 0.5 2.6 0.5 -0.8 0.5 0.2 0.5 -0.5 0.5 -0.3 0.5 -1.6 0.5 1.2 0.5 -2.5 0.5 2.1 0.5 -2.3 0.5 3.9 0.5 0 0.5 -2.5 0.5 2.8 0.5 0.6 0.5 -2.7 0.5 2.3 0.5 -0.4 0.5 0.8 0.5 1.1 0.5 -0.8 0.5 -2.2 0.5 1.2 0.5 -0.2 0.5 -2.4 0.5 0.3 0.5 0.8 0.5 -0.8 0.5 0.1 0.5 1.9 0.5 1.2 0.5 -2 0.5 0.8 0.5 0.5 0.5 -0.3 0.5 0.1 0.5 -2.5 0.5 3.5 0.5 -2.8 0.5 -0.1 0.5 1.4 0.5 0.4 0.5 0.7 0.5 -2 0.5 2.5 0.5 -1.4 0.5 0.7 0.5 -1.6 0.5 -1.7 0.5 -0.2 0.5 2.6 0.5 -0.9 0.5 0 0.5 -0.2 0.5 -0.4 0.5 1.5 0.5 -0.6 0.5 3 0.5 -2.5 0.5 3.4 0.5 -0.1 0.5 -1.5 0.5 2 0.5 -0.3 0.5 -0.1 0.5 1.8 0.5 0.4 0.5 -2.2 0.5 3.2 0.5 -3.3 0.5 0.2 0.5 2.1 0.5 -0.6 0.5 0.5 0.5 0.1 0.5 -0.1 0.5 1.7 0.5 0.1 0.5 -2.4 0.5 -0.2 0.5 1.5 0.5 -1.8 0.5 0.9 0.5 1.4 0.5 -2.6 0.5 3.2 0.5 -0.1 0.5 -1.3 0.5 -0.5 0.5 1.3 0.5 -0.9 0.5 2.3 0.5 -0.8 0.5 -1 0.5 2 0.5 -0.6 0.5 -1.8 0.5 1.2 0.5 0.2 0.5 1.8 0.5 -2.5 0.5 0.5 0.5 2.1 0.5 -2.2 0.5 1.5 0.5 -3 0.5 1.2 0.5 -0.8 0.5 2.9 0.5 -1.3 0.5 -1.3 0.5 -0.6 0.5 1.4 0.5 -1.3 0.5 1.7 0.5 1.1 0.5 -1.6 0.5 -0.6 0.5 0.8 0.5 -0.8 0.5 2.8 0.5 -2.9 0.5 2.5 0.5 -1.7 0.5 1.3 0.5 -0.1 0.5 -2.7 0.5 2.3 0.5 0.5 0.5 -1.6 0.5 0.1 0.5 -1.4 0.5 -0.7 0.5 2.2 0.5 0.4 0.5 -2.4 0.5 -0.3 0.5 1.1 0.5 1.3 0.5 -1 0.5 2.6 0.5 -0.6 0.5 0.5 0.5 -1.1 0.5 0.7 0.5 0.8 0.5 -3.6 0.5 2.1 0.5 -1.6 0.5 2.5 0.5 -2.3 0.5 2 0.5 -1.7 0.5 1.2 0.5 0.1 0.5 0.8 0.5 -0.1 0.5 -1.8 0.5 0.9 0.5 -2.2 0.5 -0.3 0.5 2.4 0.5 0.7 0.5 -0.6 0.5 -0.8 0.5 0.6 0.5 0.5 0.5 -0.5 0.5 -0.5 0.5 2.2 0.5 -1.7 0.5 2.4 0.5 -0.3 0.5 0.2 0.5 0.3 0.5 0.7 0.5 0.1 0.5 -1.8 0.5 -0.5 0.5 1.4 0.5 1.1 0.5 -1.3 0.5 -2.3 0.5 0 0.5 1.7 0.5 1.4 0.5 0.5 0.5 -2 0.5 0.6 0.5 0.1 0.5 -1.6 0.5 -0.3 0.5 2.1 0.5 0.1 0.5 1.6 0.5 -2.8 0.5 2.7 0.5 -2.3 0.5 1.2 0.5 0.8 0.5 -2.1 0.5 3.3 0.5 0.2 0.5 -0.1 0.5 -4 0.5 2.6 0.5 -0.1 0.5 0.7 0.5 -3 0.5 -0.5 0.5 2.5 0.5 -2.3 0.5 -0.9 0.5 0.2 0.5 2.4 0.5 -0.3 0.5 1 0.5 0.4 0.5 -2.9 0.5 4 0.5 0 0.5 0.5 0.5 -0.5 0.5 -1.4 0.5 -0.6 0.5 2.7 0.5 -2 0.5 0.4 0.5 0.8 0.5 0 0.5 0 0.5 -0.2 0.5 -0.5 0.5 1 0.5 -1.4 0.5 -0.4 0.5 2.6 0.5 -0.3 0.5 -0.4 0.5 -2.3 0.5 -0.5 0.5 3.5 0.5 0.1 0.5 -2.6 0.5 1.5 0.5 -2.4 0.5 1.8 0.5 1.4 0.5 -1.1 0.5 2 0.5 0.8 0.5 -2.9 0.5 2.5 0.5 -1.1 0.5 -0.5 0.5 0.8 0.5 0.6 0.5 1.8 0.5 -0.6 0.5 -3.1 0.5 0.1 0.5 3.6 0.5 -1.9 0.5 0 0.5 -1.3 0.5 1.7 0.5 -1.2 0.5 -0.1 0.5 -1.3 0.5 2.2 0.5 -2.2 0.5 -0.3 0.5 2 0.5 1.1 0.5 -2 0.5 0.2 0.5 -0.4 0.5 1.9 0.5 0.6 0.5 -2.6 0.5 1.7 0.5 0.1 0.5 -1.7 0.5 1.6 0.5 -0.9 0.5 -0.4 0.5 3.1 0.5 -3.7 0.5 1.1 0.5 1 0.5 -0.9 0.5 -1.7 0.5 3.2 0.5 -2.6 0.5 0.5 0.5 1.9 0.5 0.1 0.5 -0.4 0.5 -2.2 0.5 1.2 0.5 0.4 0.5 -2.7 0.5 3.1 0.5 -3.4 0.5 2.2 0.5 -1.7 0.5 -0.1 0.5 -0.2 0.5 3.4 0.5 -3.1 0.5 3.2 0.5 -3 0.5 0.7 0.5 -0.5 0.5 3.2 0.5 -3.6 0.5 3.1 0.5 -2.4 0.5 2.3 0.5 -1 0.5 -2.2 0.5 0.8 0.5 -1.5 0.5 0.8 0.5 -1.7 0.5 2.5 0.5 -0.5 0.5 -1.3 0.5 -1 0.5 3.7 0.5 -3.1 0.5 1 0.5 -1.2 0.5 1.4 0.5 0 0.5 0.5 0.5 -0.8 0.5 -0.2 0.5 2.2 0.5 -1.9 0.5 0.2 0.5 0.7 0.5 -0.7 0.5 2.2 0.5 -2.3 0.5 1.3 0.5 0.7 0.5 -0.5 0.5 2.4 0.5 -1.9 0.5 0.2 0.5 0.1 0.5 1.4 0.5 -2.6 0.5 2.2 0.5 0.3 0.5 -2.9 0.5 -0.4 0.5 2.5 0.5 -1.8 0.5 -0.3 0.5 -0.5 0.5 2.2 0.5 1.3 0.5 -0.1 0.5 -1.1 0.5 -0.5 0.5 2.1 0.5 -1.3 0.5 1.1 0.5 -1.1 0.5 0.1 0.5 0 0.5 -2.2 0.5 0.7 0.5 -0.7 0.5 3.7 0.5 0.4 0.5 -1.3 0.5 -1.5 0.5 0.1 0.5 1.5 0.5 0 0.5 -0.7 0.5 -0.3 0.5 2.3 0.5 0.7 0.5 -3 0.5 1 0.5 -0.1 0.5 0.9 0.5 0.2 0.5 -0.9 0.5 1.8 0.5 -2 0.5 -0.3 0.5 1.8 0.5 0.3 0.5 0.3 0.5 -2.8 0.5 0.3 0.5 1.2 0.5 2 0.5 -1.2 0.5 0.1 0.5 -1.1 0.5 2.7 0.5 -3.1 0.5 1.6 0.5 0.4 0.5 0.5 0.5 0.1 0.5 -1.6 0.5 -0.5 0.5 2.9 0.5 -1.7 0.5 -1 0.5 -0.6 0.5 2.8 0.5 0.2 0.5 -1 0.5 -0.7 0.5 1.1 0.5 1.3 0.5 -1.6 0.5 0.9 0.5 0.4 0.5 -0.6 0.5 -1.2 0.5 -1.3 0.5 2 0.5 0.5 0.5 0.5 0.5 -3.4 0.5 -0.2 0.5 2 0.5 0.7 0.5 -3.1 0.5 1.9 0.5 -1.4 0.5 2.7 0.5 -2.8 0.5 -1.3 0.5 2.6 0.5 -2.2 0.5 0.2 0.5 -1.3 0.5 0.7 0.5 -0.8 0.5 0.3 0.5 1.2 0.5 -1.1 0.5 1.3 0.5 0.9 0.5 -1.3 0.5 -2.3 0.5 3.7 0.5 -3.1 0.5 0.5 0.5 0.7 0.5 0.3 0.5 -1 0.5 0.5 0.5 0.7 0.5 -0.8 0.5 -0.7 0.5 0.4 0.5 -0.2 0.5 -0.5 0.5 1.1 0.5 -0.5 0.5 -0.6 0.5 0.9 0.5 0.3 0.5 -0.7 0.5 -1.4 0.5 2.4 0.5 -3.4 0.5 2.8 0.5 -1.5 0.5 -0.2 0.5 1.8 0.5 -0.8 0.5 1.2 0.5 -0.4 0.5 -3.2 0.5 1.3 0.5 0.9 0.5 -2.9 0.5 1.7 0.5 1.7 0.5 -3.2 0.5 -0.7 0.5 0.5 0.5 0.1 0.5 -0.4 0.5 0.4 0.5 1.4 0.5 -1.5 0.5 0.1 0.5 -2.2 0.5 -0.4 0.5 3.3 0.5 -2.7 0.5 2.1 0.5 -2.7 0.5 1 0.5 -0.1 0.5 -2.5 0.5 -0.3 0.5 1.4 0.5 -1.4 0.5 0.6 0.5 -0.4 0.5 0.5 0.5 0.6 0.5 -0.6 0.5 0.2 0.5 0.6 0.5 1 0.5 -2.3 0.5 4 0.5 -2.2 0.5 2.1 0.5 -3.6 0.5 0.2 0.5 0.1 0.5 3.2 0.5 -2.1 0.5 1.6 0.5 -0.9 0.5 -2.6 0.5 0.8 0.5 -0.3 0.5 0.3 0.5 1.1 0.5 -2.7 0.5 3.4 0.5 -1.8 0.5 -0.4 0.5 1.5 0.5 -1.5 0.5 1.9 0.5 -1 0.5 0.4 0.5 -1 0.5 0 0.5 2.7 0.5 -1 0.5 -0.5 0.5 1.5 0.5 0.6 0.5 -2.9 0.5 3.5 0.5 -3.9 0.5 2.5 0.5 -1.1 0.5 0 0.5 1.1 0.5 0.6 0.5 -0.7 0.5 1.1 0.5 0.9 0.5 -3.1 0.5 0.3 0.5 1.4 0.5 -1 0.5 -0.4 0.5 0.6 0.5 0.6 0.5 0.8 0.5 0.1 0.5 -0.4 0.5 -1.9 0.5 2.2 0.5 -0.7 0.5 -2 0.5 3.1 0.5 -2.7 0.5 1.8 0.5 0 0.5 0.8 0.5 -1 0.5 1.2 0.5 -3.7 0.5 0 0.5 0.6 0.5 1.5 0.5 -0.5 0.5 -1.2 0.5 0.7 0.5 1.6 0.5 -0.7 0.5 1.6 0.5 -1.3 0.5 1.6 0.5 -0.6 0.5 -1.2 0.5 -0.8 0.5 -0.9 0.5 0 0.5 0 0.5 -0.1 0.5 -1 0.5 1.2 0.5 -1.5 0.5 3 0.5 -1.3 0.5 -1.9 0.5 0.9 0.5 -0.4 0.5 -0.4 0.5 1.2 0.5 -1.2 0.5 -0.2 0.5 2.1 0.5 -1.1 0.5 1 0.5 -0.8 0.5 0.2 0.5 -0.8 0.5 0.6 0.5 0.2 0.5 -0.7 0.5 1.8 0.5 -2.5 0.5 -0.4 0.5 0.2 0.5 1.4 0.5 0 0.5 -1.4 0.5 -1.1 0.5 1 0.5 0.5 0.5 -2.4 0.5 1.5 0.5 0.2 0.5 -1.2 0.5 -1 0.5 1.9 0.5 -1.7 0.5 0.6 0.5 0.7 0.5 1.6 0.5 -3.4 0.5 -0.2 0.5 1.8 0.5 1.6 0.5 -3.5 0.5 2.4 0.5 -2.4 0.5 2.1 0.5 -1.8 0.5 2.2 0.5 -1 0.5 1.1 0.5 -1.5 0.5 -0.8 0.5 0.4 0.5 0.3 0.5 -0.4 0.5 0.2 0.5 1.5 0.5 -0.4 0.5 1.5 0.5 -1.4 0.5 0.2 0.5 0.8 0.5 0.4 0.5 -1.2 0.5 -2.4 0.5 1.4 0.5 -2 0.5 2 0.5 -2.4 0.5 1.7 0.5 -1.8 0.5 2.6 0.5 -3.1 0.5 2.2 0.5 0.3 0.5 -1.5 0.5 1.4 0.5 -0.9 0.5 0 0.5 0.1 0.5 -0.8 0.5 2.8 0.5 -2.2 0.5 0.6 0.5 -0.3 0.5 3 0.5 -1 0.5 -0.1 0.5 0.5 0.5 0.9 0.5 -0.7 0.5 -0.4 0.5 -0.7 0.5 0.9 0.5 1.9 0.5 -1.6 0.5 -0.2 0.5 1.8 0.5 -3.1 0.5 0.2 0.5 3 0.5 0.8 0.5 -3.5 0.5 -0.1 0.5 -0.1 0.5 2.2 0.5 -2 0.5 1.3 0.5 0.2 0.5 -2.8 0.5 3.3 0.5 -2.6 0.5 1.1 0.5 -0.8 0.5 0.1 0.5 0.4 0.5 -1.3"/>
<path stroke="#196b24" stroke-width="7.6" stroke-dasharray="23 30" stroke-dashoffset="-3.7" d="M293.8 176.4l0.5 1.3 0.5 3.1 0.5 0.4 0.5 -0.7 0.5 3.6 0.5 0.2 0.5 4 0.5 -0.8 0.5 -0.6 0.5 6 0.5 -1.5 0.5 4.1 0.5 0.7 0.5 2.3 0.5 1.5 0.5 2.6 0.5 1.2 0.5 0.7 0.5 0.1 0.5 2.4 0.5 0.5 0.5 1.9 0.5 2.2 0.5 1.4 0.5 0.9 0.5 1.7 0.5 1.8 0.5 1.2 0.5 3.8 0.5 -0.3 0.5 2.9 0.5 1.8 0.5 4.8 0.5 0.4 0.5 1.7 0.5 6.2 0.5 1 0.5 4.7 0.5 0.7 0.5 3.2 0.5 4.3 0.5 1.1 0.5 7.8 0.5 -0.5 0.5 7.2 0.5 2.4 0.5 4.1 0.5 0.9 0.5 6.8 0.5 2 0.5 3.2 0.5 2.8 0.5 3.9 0.5 7.5 0.5 4.7 0.5 1.8 0.5 5.9 0.5 4.5 0.5 4 0.5 5 0.5 5.7 0.5 4.7 0.5 7.9 0.5 4.6 0.5 6.8 0.5 5 0.5 10.4 0.5 2.2 0.5 9.4 0.5 6.4 0.5 5.6 0.5 10.2 0.5 2.5 0.5 8.1 0.5 6.6 0.5 7.2 0.5 4.8 0.5 5.1 0.5 4.8 0.5 -0.2 0.5 6.2 0.5 2.7 0.5 5 0.5 2.9 0.5 3.2 0.5 2.7 0.5 6.1 0.5 5.7 0.5 4.7 0.5 5.7 0.5 7 0.5 4.3 0.5 8.4 0.5 3.6 0.5 6.2 0.5 5.9 0.5 8 0.5 4.2 0.5 7.5 0.5 1.1 0.5 10.2 0.5 2 0.5 8.9 0.5 1.5 0.5 9.8 0.5 4.9 0.5 6.4 0.5 4.8 0.5 6.3 0.5 5.3 0.5 6.5 0.5 9.2 0.5 5.6 0.5 5.7 0.5 7.7 0.5 7.2 0.5 7.5 0.5 8.8 0.5 9.8 0.5 5.9 0.5 7.9 0.5 3.7 0.5 9.3 0.5 8 0.5 8.2 0.5 6.1 0.5 6.9 0.5 8.2 0.5 1.5 0.5 7.3 0.5 2.1 0.5 -0.3 0.5 -0.3 0.5 1.6 0.5 4.6 0.5 8.1 0.5 4.5 0.5 9.7 0.5 3 0.5 10.2 0.5 4.6 0.5 4.5 0.5 4.7 0.5 5.6 0.5 5.4 0.5 4.6 0.5 5.3 0.5 8.8 0.5 2.2 0.5 5.5 0.5 4.7 0.5 2.1 0.5 6.2 0.5 -0.6 0.5 1.6 0.5 1.2 0.5 2.8 0.5 0.5 0.5 4.1 0.5 0.9 0.5 -1.6 0.5 5.4 0.5 0.1 0.5 0.4 0.5 3.2 0.5 -0.6 0.5 -0.3 0.5 4.4 0.5 2.8 0.5 -1.9 0.5 4.9 0.5 1.8 0.5 6.4 0.5 -0.8 0.5 6.6 0.5 0.1 0.5 4.9 0.5 2.6 0.5 1.9 0.5 -2.1 0.5 3.4 0.5 -0.4 0.5 1.2 0.5 1.3 0.5 0.8 0.5 4.6 0.5 -1.3 0.5 -0.9 0.5 1.6 0.5 -1.7 0.5 1 0.5 2.1 0.5 0.2 0.5 -0.5 0.5 1.5 0.5 -0.4 0.5 -1.1 0.5 -2.6 0.5 0.4 0.5 -3.3 0.5 1.7 0.5 -4.3 0.5 2.5 0.5 -5.8 0.5 2.5 0.5 -2.6 0.5 0.2 0.5 -2.6 0.5 0.4 0.5 -2.1 0.5 -1.8 0.5 -0.4 0.5 -6.4 0.5 1 0.5 -4.9 0.5 -2.2 0.5 -3.1 0.5 -4.5 0.5 -2.7 0.5 -1.2 0.5 -5.8 0.5 -1.6 0.5 -7.9 0.5 -1 0.5 -3.2 0.5 -5.3 0.5 -5.6 0.5 -0.5 0.5 -4 0.5 -5.5 0.5 -4.9 0.5 0.1 0.5 -3.9 0.5 -3.1 0.5 -3.6 0.5 -6.3 0.5 -2.1 0.5 -4.8 0.5 -4.5 0.5 -4.5 0.5 -3.8 0.5 -4.4 0.5 -9.9 0.5 -8.4 0.5 -5.8 0.5 -5.5 0.5 -5.9 0.5 -3.3 0.5 -4.2 0.5 -3.6 0.5 -6.8 0.5 -1.8 0.5 -5 0.5 -1.5 0.5 -4.9 0.5 -2.7 0.5 -3.6 0.5 -6.6 0.5 -4.2 0.5 -0.6 0.5 -7.3 0.5 0.1 0.5 -5.6 0.5 -5.9 0.5 -3.7 0.5 -7.7 0.5 -2.9 0.5 -4.3 0.5 -10.4 0.5 -1.3 0.5 -8.8 0.5 -5.1 0.5 -2.7 0.5 -5.8 0.5 -6.8 0.5 -1.8 0.5 -9.1 0.5 -1.3 0.5 -5 0.5 -2.5 0.5 -8.5 0.5 -2.9 0.5 -3.4 0.5 -6.2 0.5 -1.4 0.5 -3.5 0.5 -4.1 0.5 -8.2 0.5 -2.7 0.5 -2.3 0.5 -8.8 0.5 -1.7 0.5 -6.6 0.5 -1.7 0.5 -6.1 0.5 -3 0.5 -8.5 0.5 -1.6 0.5 -5 0.5 -5.4 0.5 -2.3 0.5 -2 0.5 -4.4 0.5 -3.5 0.5 -5.2 0.5 -2.7 0.5 -4.2 0.5 -1.8 0.5 -4.4 0.5 -6.6 0.5 -4.5 0.5 -5.9 0.5 -3.6 0.5 -7 0.5 -0.7 0.5 -7 0.5 -5.8 0.5 -2 0.5 -0.1 0.5 -6 0.5 -2.4 0.5 0.2 0.5 -3.5 0.5 -4.3 0.5 -3 0.5 -0.9 0.5 -2 0.5 0.7 0.5 -3.4 0.5 0.3 0.5 -1.5 0.5 -2.1 0.5 -3.8 0.5 -1.7 0.5 -0.6 0.5 -0.7 0.5 -0.3 0.5 -1.2 0.5 -3.4 0.5 1.1 0.5 -2.4 0.5 1.2 0.5 -4.1 0.5 3.7 0.5 -0.9 0.5 -2.8 0.5 0.5 0.5 0.4 0.5 1.3 0.5 2.1 0.5 0.6 0.5 -1.4 0.5 -2.1 0.5 4.4 0.5 0.2 0.5 -3.9 0.5 3.2 0.5 0.3 0.5 0.2 0.5 0.6 0.5 -3.3 0.5 1.8 0.5 0.5 0.5 1.9 0.5 -2.4 0.5 1.1 0.5 -0.2 0.5 -0.3 0.5 2.5 0.5 -0.6 0.5 2 0.5 -0.5 0.5 3.6 0.5 -2.4 0.5 4.1 0.5 0.5 0.5 -1.3 0.5 2 0.5 1 0.5 1.2 0.5 1.9 0.5 -2.3 0.5 1.4 0.5 3.2 0.5 -2.1 0.5 4.4 0.5 -1.6 0.5 -0.5 0.5 4.6 0.5 -1.3 0.5 4.9 0.5 1.4 0.5 7.1 0.5 11.4 0.5 5.5 0.5 3.9 0.5 4.7 0.5 2.2 0.5 1.7 0.5 2.6 0.5 2.6 0.5 1.8 0.5 3 0.5 1.4 0.5 4.2 0.5 -0.1 0.5 3.8 0.5 6.5 0.5 6.6 0.5 2.3 0.5 3.4 0.5 4.7 0.5 4.8 0.5 7.5 0.5 1.5 0.5 6.2 0.5 4.1 0.5 2.7 0.5 4.1 0.5 0.1 0.5 3.1 0.5 3.6 0.5 2.3 0.5 7.7 0.5 -0.1 0.5 5.8 0.5 2 0.5 5 0.5 3.3 0.5 5.2 0.5 1.1 0.5 4.2 0.5 2.9 0.5 4.6 0.5 6.1 0.5 3.9 0.5 -1.1 0.5 7.4 0.5 2.8 0.5 0.4 0.5 3.9 0.5 7.1 0.5 0.4 0.5 7.1 0.5 2 0.5 6.2 0.5 1.7 0.5 2.2 0.5 6.5 0.5 3.4 0.5 2.4 0.5 7.6 0.5 4.7 0.5 4.4 0.5 2.5 0.5 3.6 0.5 1.9 0.5 7.6 0.5 3 0.5 3.8 0.5 4.4 0.5 4.9 0.5 1.8 0.5 3.1 0.5 8.6 0.5 -0.2 0.5 5.5 0.5 5.3 0.5 1.9 0.5 4.9 0.5 6.5 0.5 2.7 0.5 3.8 0.5 1.2 0.5 5.9 0.5 2.2 0.5 4.6 0.5 3.1 0.5 3 0.5 2.1 0.5 4.5 0.5 0.4 0.5 3.5 0.5 -2 0.5 -0.9 0.5 1.1 0.5 3.1 0.5 -1.2 0.5 4.1 0.5 1.7 0.5 0.4 0.5 2.2 0.5 2.1 0.5 4.1 0.5 3.4 0.5 0 0.5 4.7 0.5 -3.4 0.5 4.9 0.5 -1.8 0.5 5.3 0.5 -2.9 0.5 5.4 0.5 -1.2 0.5 0.8 0.5 0 0.5 1.9 0.5 1.7 0.5 3.4 0.5 0.8 0.5 -3.8 0.5 2.6 0.5 -2.1 0.5 0.7 0.5 2.8 0.5 0 0.5 2.2 0.5 0.2 0.5 -3.2 0.5 2.4 0.5 0.9 0.5 -0.1 0.5 -1 0.5 -0.4 0.5 -0.2 0.5 -1.5 0.5 -0.2 0.5 0.7 0.5 -3.9 0.5 -0.8 0.5 -1.3 0.5 0.6 0.5 -4.4 0.5 -0.6 0.5 0.1 0.5 -3.1 0.5 0.8 0.5 -3.2 0.5 -4.1 0.5 -0.7 0.5 -3.5 0.5 -1.1 0.5 -3.3 0.5 -2.9 0.5 -0.7 0.5 -2.8 0.5 -3.8 0.5 -3.1 0.5 -2.8 0.5 -3.4 0.5 -7.1 0.5 0 0.5 -6.9 0.5 -3.1 0.5 -1 0.5 -6.7 0.5 0.4 0.5 -3.6 0.5 -7.8 0.5 -0.2 0.5 -1.9 0.5 -5.2 0.5 -3.3 0.5 -2.9 0.5 -3.3 0.5 -2.9 0.5 -2.6 0.5 -1.9 0.5 -7.3 0.5 -2.3 0.5 -4.3 0.5 -3 0.5 -2.6 0.5 0 0.5 -6.2 0.5 -1.9 0.5 -4.5 0.5 0.4 0.5 -6.8 0.5 -2.1 0.5 -3 0.5 -3.6 0.5 -3.6 0.5 -1.3 0.5 -3.7 0.5 -4.1 0.5 1 0.5 -5.9 0.5 -5 0.5 -0.3 0.5 -4.1 0.5 -2.4 0.5 -5.1 0.5 -4.8 0.5 -1.5 0.5 -5 0.5 -1.7 0.5 -6.7 0.5 -4.6 0.5 -4.6 0.5 -3.9 0.5 -4.5 0.5 -3.1 0.5 -5.2 0.5 -1.6 0.5 -8.5 0.5 -1.4 0.5 -8 0.5 -4.4 0.5 -2.7 0.5 -5.7 0.5 -3.9 0.5 -6.4 0.5 -5.1 0.5 -1.9 0.5 -3.1 0.5 -5.6 0.5 -2.1 0.5 1.8 0.5 -3.3 0.5 -1.8 0.5 -5.3 0.5 1.9 0.5 -5.1 0.5 -2.6 0.5 -0.8 0.5 -2 0.5 -3.3 0.5 1.9 0.5 -1.7 0.5 -4.8 0.5 0.2 0.5 0 0.5 -3.9 0.5 -0.7 0.5 -2.6 0.5 0 0.5 -1.8 0.5 1.5 0.5 -4 0.5 -1.6 0.5 3.2 0.5 -4.6 0.5 0.8 0.5 -0.3 0.5 -2.8 0.5 1.9 0.5 -3.6 0.5 -1.4 0.5 -1.3 0.5 3.4 0.5 -3.7 0.5 2.9 0.5 -2.3 0.5 1.9 0.5 -4.2 0.5 3.5 0.5 0.3 0.5 -1.5 0.5 -3.1 0.5 3.9 0.5 -1 0.5 -2.8 0.5 3.7 0.5 -3.9 0.5 0.8 0.5 0.2 0.5 3.7 0.5 0.1 0.5 -0.2 0.5 3.3 0.5 3.3 0.5 -2.5 0.5 4.1 0.5 -0.9 0.5 2.8 0.5 0.3 0.5 0.6 0.5 -0.5 0.5 3.5 0.5 0.1 0.5 2 0.5 -1.4 0.5 4.6 0.5 -3.8 0.5 1.9 0.5 3.2 0.5 -1.2 0.5 1.7 0.5 2.3 0.5 2.2 0.5 1.5 0.5 -1.9 0.5 2.5 0.5 -2 0.5 5.1 0.5 -0.1 0.5 2.1 0.5 -2.1 0.5 2.5 0.5 2.3 0.5 -2.1 0.5 5.6 0.5 1.3 0.5 2.4 0.5 -0.7 0.5 5.4 0.5 1.6 0.5 0.7 0.5 3 0.5 6.6 0.5 1.1 0.5 2.6 0.5 3.7 0.5 4.8 0.5 0.7 0.5 3.3 0.5 5.4 0.5 4.1 0.5 1.6 0.5 4 0.5 -0.5 0.5 3 0.5 2.7 0.5 2.6 0.5 2.1 0.5 5.1 0.5 0.3 0.5 3.4 0.5 3 0.5 5.2 0.5 -0.4 0.5 4.6 0.5 1.1 0.5 5.1 0.5 0.7 0.5 0.8 0.5 4.6 0.5 1.2 0.5 1.6 0.5 2.1 0.5 0.3 0.5 5 0.5 0.4 0.5 1.7 0.5 1 0.5 0.5 0.5 1.8 0.5 1.5 0.5 3.7 0.5 -1.3 0.5 0.6 0.5 1.4 0.5 3.1 0.5 3.1 0.5 2 0.5 2.5 0.5 1.5 0.5 -0.8 0.5 3.3 0.5 1.8 0.5 0.5 0.5 3.8 0.5 2.4 0.5 -2 0.5 3.8 0.5 -0.3 0.5 4.8 0.5 0.5 0.5 -0.7 0.5 3.9 0.5 0.4 0.5 1.8 0.5 4.2 0.5 0.8 0.5 4.5 0.5 1.9 0.5 1.7 0.5 -0.1 0.5 4.5 0.5 -1.8 0.5 5.6 0.5 0.2 0.5 4.7 0.5 -1.6 0.5 5 0.5 0.1 0.5 3.7 0.5 4 0.5 0.6 0.5 5.2 0.5 1.6 0.5 1.2 0.5 4.1 0.5 2 0.5 0.5 0.5 5.6 0.5 2 0.5 2.7 0.5 1.7 0.5 -1.3 0.5 2.5 0.5 0.9 0.5 -1.6 0.5 4.4 0.5 -1.3 0.5 1.6 0.5 1.8 0.5 0.2 0.5 -0.2 0.5 3.6 0.5 -3 0.5 3.1 0.5 -1.2 0.5 4.2 0.5 0.7 0.5 -0.4 0.5 1.5 0.5 -0.1 0.5 -0.4 0.5 0.6 0.5 0.7 0.5 -3.6 0.5 1.9 0.5 -3.4 0.5 0.6 0.5 -1.6 0.5 0.3 0.5 -1.2 0.5 0.1 0.5 -1.5 0.5 -5 0.5 -0.6 0.5 -1.6 0.5 2.3 0.5 -2.7 0.5 2.4 0.5 -4.2 0.5 3.1 0.5 -1.3 0.5 -0.2 0.5 -0.9 0.5 1.2 0.5 -3.3 0.5 2.9 0.5 -0.1 0.5 -1.5 0.5 0.1 0.5 -2.2 0.5 1.1 0.5 0.4 0.5 -1.5 0.5 -1.4 0.5 4.3 0.5 -0.8 0.5 -2 0.5 0.8 0.5 0 0.5 1.4 0.5 -2.4 0.5 0.2 0.5 -0.4 0.5 -4.4 0.5 0.8 0.5 -0.3 0.5 -3 0.5 -2.4 0.5 -6.6 0.5 -0.1 0.5 -5.8 0.5 -0.4 0.5 -3.8 0.5 -5.3 0.5 -2.3 0.5 -3.8 0.5 -0.8 0.5 -4.9 0.5 -5.3 0.5 -0.8 0.5 -5.4 0.5 -2.3 0.5 -1.2 0.5 -3.3 0.5 -5.1 0.5 -2.1 0.5 -3.7 0.5 -3.6 0.5 -2.7 0.5 -5.5 0.5 -3.4 0.5 -2.4 0.5 -0.9 0.5 -2.2 0.5 -4.1 0.5 -6.3 0.5 0.6 0.5 -3.1 0.5 -3 0.5 -3.5 0.5 -5.4 0.5 -1.8 0.5 -3.3 0.5 -5.1 0.5 -0.5 0.5 -4.2 0.5 0.3 0.5 -4.2 0.5 -2.3 0.5 -6.5 0.5 0.3 0.5 -2.4 0.5 -4.6 0.5 -3.8 0.5 -1.7 0.5 -2.6 0.5 -3.3 0.5 -3.2 0.5 -0.8 0.5 -1.4 0.5 -5.4 0.5 0.6 0.5 -6.2 0.5 0.9 0.5 -3.7 0.5 -1.2 0.5 -2.8 0.5 -3.4 0.5 -1.7 0.5 1.7 0.5 -4.7 0.5 0.6 0.5 -4 0.5 0 0.5 -4.1 0.5 0.8 0.5 -4.5 0.5 -3.1 0.5 -2.7 0.5 -3 0.5 -2.6 0.5 0 0.5 -4.5 0.5 -0.5 0.5 -6.2 0.5 0.6 0.5 -6.3 0.5 -2.3 0.5 -2.1 0.5 -2.3 0.5 -0.9 0.5 0.6 0.5 -4.3 0.5 0.4 0.5 -0.8 0.5 3.6 0.5 -2.8 0.5 2.4 0.5 2.1 0.5 -2.3 0.5 -0.7 0.5 1.1 0.5 3.6 0.5 -3.9 0.5 3.8 0.5 -3.4 0.5 0.2 0.5 3.1 0.5 -0.5 0.5 -1.2 0.5 2 0.5 -2.4 0.5 3.8 0.5 -1.1 0.5 2.2 0.5 -1.2 0.5 0.4 0.5 1.9 0.5 -1 0.5 -1.8 0.5 3.2 0.5 -0.9 0.5 2.4 0.5 2.5 0.5 -1.2 0.5 1.8 0.5 -1.7 0.5 -0.9 0.5 1 0.5 0.8 0.5 2 0.5 1.5 0.5 1.5 0.5 3.1 0.5 2.2 0.5 2.1 0.5 2 0.5 2.7 0.5 1.5 0.5 1 0.5 2.1 0.5 0.7 0.5 2.1 0.5 6.4 0.5 -1.1 0.5 5.7 0.5 0 0.5 0.5 0.5 5.9 0.5 1.7 0.5 3.6 0.5 0.4 0.5 4.5 0.5 0.7 0.5 1.5 0.5 3.6 0.5 4.2 0.5 4.1 0.5 2.6 0.5 3.5 0.5 1.1 0.5 2.5 0.5 3.1 0.5 4.7 0.5 0.1 0.5 1.1 0.5 4.2 0.5 3.9 0.5 3.5 0.5 3.3 0.5 1.5 0.5 3.4 0.5 3 0.5 2.9 0.5 2 0.5 4.8 0.5 2.9 0.5 -1.2 0.5 3.6 0.5 7.2 0.5 1.3 0.5 0.5 0.5 6.4 0.5 -1.3 0.5 4.9 0.5 1.8 0.5 1.9 0.5 2.2 0.5 1.9 0.5 3.9 0.5 1.3 0.5 5.1 0.5 1.3 0.5 4.7 0.5 3.4 0.5 2.1 0.5 1.9 0.5 2.6 0.5 -1 0.5 6.7 0.5 0.5 0.5 2.2 0.5 2.6 0.5 -0.4 0.5 3.3 0.5 0.1 0.5 5.4 0.5 -0.6 0.5 -0.4 0.5 5.2 0.5 -0.7 0.5 2 0.5 1.5 0.5 0.7 0.5 -0.1 0.5 0.3 0.5 0 0.5 3.6 0.5 -1.6 0.5 2.2 0.5 3.4 0.5 1 0.5 0.3 0.5 -2.4 0.5 4.2 0.5 -3.4 0.5 4.3 0.5 -0.3 0.5 1.7 0.5 0.6 0.5 -1.8 0.5 -0.6 0.5 3.5 0.5 -2.4 0.5 0.5 0.5 1.6 0.5 -1.8 0.5 1.6 0.5 -1.6 0.5 1.3 0.5 1.7 0.5 -0.5 0.5 -0.7 0.5 -2.1 0.5 -0.9 0.5 -2.7 0.5 1.2 0.5 -4.7 0.5 -0.9 0.5 -1.3 0.5 0.5 0.5 -2.5 0.5 2.3 0.5 -3.2 0.5 1.7 0.5 -1.1 0.5 -0.1 0.5 -0.6 0.5 -0.4 0.5 -2.3 0.5 -0.7 0.5 -2.8 0.5 -0.3 0.5 -3.6 0.5 2.4 0.5 -2 0.5 -6 0.5 -2.3 0.5 -0.2 0.5 -1.4 0.5 -2.2 0.5 -2.5 0.5 -0.4 0.5 -2.8 0.5 -1.4 0.5 -3.3 0.5 1.3 0.5 -3.6 0.5 2.7 0.5 -3 0.5 -1.6 0.5 0.5 0.5 0.1 0.5 -4.2 0.5 0.4 0.5 1.9 0.5 -1.4 0.5 -3.1 0.5 -0.8 0.5 1.7 0.5 -4.2 0.5 -0.6 0.5 1.4 0.5 -0.9 0.5 -1 0.5 -0.1 0.5 -0.4 0.5 -3.5 0.5 -1.8 0.5 1 0.5 -4.5 0.5 1.7 0.5 -2.4 0.5 -0.8 0.5 -2.5 0.5 -3.9 0.5 1.3 0.5 -2.6 0.5 -3 0.5 -2 0.5 -1.1 0.5 -2.7 0.5 -2 0.5 1.5 0.5 -1.6 0.5 -1.7 0.5 -3.8 0.5 -1.5 0.5 -4 0.5 -1.1 0.5 1.9 0.5 -2.2 0.5 -1.3 0.5 -0.3 0.5 -0.8 0.5 -1.8 0.5 -4.6 0.5 1.2 0.5 0.2 0.5 -1.5 0.5 -0.9 0.5 -3.5 0.5 -1.3 0.5 -3.9 0.5 0.8 0.5 -1.2 0.5 0.1 0.5 -1.6 0.5 -5.3 0.5 -0.9 0.5 0 0.5 0.8 0.5 -4.1 0.5 1.9 0.5 -1.7 0.5 0.4 0.5 -3.7 0.5 -0.8 0.5 -2.9 0.5 1.1 0.5 0 0.5 -2.3 0.5 -0.9 0.5 1.2 0.5 -1.5 0.5 -2.5 0.5 2.8 0.5 -1.2 0.5 -1.8 0.5 0 0.5 2.7 0.5 -0.2 0.5 0.9 0.5 -1.9 0.5 3.3 0.5 0.6 0.5 -2.1 0.5 -0.6 0.5 2.7 0.5 -0.8 0.5 -5.1 0.5 0.8 0.5 -1.6 0.5 -2 0.5 0 0.5 -0.7 0.5 -2.8 0.5 -1.7 0.5 1.4 0.5 -2.1 0.5 -2.7 0.5 -1.6 0.5 0.3 0.5 1.9 0.5 -1.2 0.5 -3.7 0.5 1.2 0.5 -3.5 0.5 3.7 0.5 -0.4 0.5 -4.1 0.5 0.1 0.5 -0.6 0.5 -0.8 0.5 2.3 0.5 -1.5 0.5 -1.8 0.5 1.2 0.5 2.2 0.5 0.4 0.5 -3 0.5 3.1 0.5 0.8 0.5 0.5 0.5 0.4 0.5 1 0.5 -1.8 0.5 2.6 0.5 -1.7 0.5 -1.5 0.5 3.2 0.5 -1.2 0.5 1.9 0.5 -0.7 0.5 1.2 0.5 0.9 0.5 1.6 0.5 -0.9 0.5 3.4 0.5 -0.2 0.5 4.9 0.5 -0.1 0.5 1.6 0.5 2.1 0.5 4.8 0.5 0.8 0.5 2.8 0.5 0 0.5 1.6 0.5 3 0.5 1.1 0.5 -3.6 0.5 5.1 0.5 -1.3 0.5 1.9 0.5 1.5 0.5 -2.8 0.5 1.6 0.5 3 0.5 -1.3 0.5 2.5 0.5 0.4 0.5 1.5 0.5 -0.9 0.5 -2.1 0.5 4.8 0.5 -2.7 0.5 0.7 0.5 2.1 0.5 0.5 0.5 1 0.5 3.7 0.5 2.5 0.5 -1.8 0.5 1.7 0.5 2.5 0.5 -0.4 0.5 2 0.5 3 0.5 -2.9 0.5 2.8 0.5 -0.6 0.5 3.6 0.5 -1.7 0.5 4 0.5 -1.1 0.5 3.4 0.5 -1.9 0.5 1.5 0.5 -1 0.5 1.5 0.5 1.5 0.5 3 0.5 -0.9 0.5 1.7 0.5 1 0.5 -3 0.5 1.8 0.5 3.3 0.5 0.3 0.5 0.1 0.5 0.1 0.5 1.4 0.5 -1.4 0.5 1.6 0.5 2 0.5 -0.1 0.5 1.5 0.5 3.8 0.5 0.9 0.5 0.9 0.5 0.2 0.5 2.7 0.5 -2.2 0.5 2.8 0.5 0.1 0.5 3.5 0.5 -1.8 0.5 0.6 0.5 3.6 0.5 1.2 0.5 0.7 0.5 1.5 0.5 -1.7 0.5 3.2 0.5 0.9 0.5 3 0.5 -1.3 0.5 0.4 0.5 1.5 0.5 2.2 0.5 3.5 0.5 -0.3 0.5 1.3 0.5 0 0.5 1 0.5 3.9 0.5 -1 0.5 -0.4 0.5 4.3 0.5 -1.9 0.5 1.7 0.5 1.8 0.5 1.5 0.5 -3.6 0.5 3.2 0.5 -2.1 0.5 2.6 0.5 0.2 0.5 -0.2 0.5 -0.2 0.5 0.8 0.5 2.1 0.5 -2.7 0.5 0.6 0.5 -1.5 0.5 0.9 0.5 -1.9 0.5 3.9 0.5 -2.8 0.5 2.7 0.5 -4 0.5 2.4 0.5 -0.3 0.5 0.2 0.5 0.6 0.5 -3.4 0.5 3.4 0.5 -3.5 0.5 0.8 0.5 1.9 0.5 -2.2 0.5 0.8 0.5 -1.4 0.5 -3.2 0.5 -1.6 0.5 -1.2 0.5 -1.6 0.5 2.6 0.5 0 0.5 -4.1 0.5 1.8 0.5 1.3 0.5 -1.3 0.5 -1.3 0.5 2.1 0.5 -3.1 0.5 -1 0.5 0.3 0.5 -1.4 0.5 -0.4 0.5 -0.2 0.5 -2.8 0.5 1.4 0.5 -1.7 0.5 -0.9 0.5 -4 0.5 -2.7 0.5 1.6 0.5 -3 0.5 -0.3 0.5 -3 0.5 -1 0.5 -1.7 0.5 -0.2 0.5 -0.6 0.5 -3.2 0.5 -1 0.5 -0.5 0.5 -0.1 0.5 -2.8 0.5 -2.4 0.5 1.1 0.5 -1.4 0.5 1.6 0.5 -3.2 0.5 -3.7 0.5 1.8 0.5 -3.7 0.5 0.7 0.5 -2.3 0.5 1.9 0.5 -2.6 0.5 3.3 0.5 -4.1 0.5 3.5 0.5 -0.6 0.5 -2.2 0.5 -0.9 0.5 -1.1 0.5 0.9 0.5 -3.5 0.5 -0.2 0.5 -3.3 0.5 -1 0.5 -4.6 0.5 -0.4 0.5 -6.2 0.5 -4.7 0.5 -2.9 0.5 -3.2 0.5 -3.2 0.5 -2.9 0.5 0.6 0.5 -5.6 0.5 1.1 0.5 -1.6 0.5 -2.3 0.5 -5.6 0.5 0.8 0.5 -3.1 0.5 -0.3 0.5 -5.1 0.5 -0.4 0.5 -1.8 0.5 -3.9 0.5 0 0.5 -1.5 0.5 -1.4 0.5 -1.5 0.5 -5.6 0.5 1.9 0.5 -3.6 0.5 0.6 0.5 -4.5 0.5 -0.4 0.5 -1.2 0.5 -0.1 0.5 -1.8 0.5 -0.5 0.5 -5.4 0.5 0 0.5 0.8 0.5 -3.7 0.5 1.6 0.5 -4 0.5 0.1 0.5 -4.7 0.5 2.4 0.5 -5.7 0.5 -0.7 0.5 -3.1 0.5 -3.8 0.5 -1.6 0.5 -1.6 0.5 1.3 0.5 1.1 0.5 -0.2 0.5 0.2 0.5 -1.8 0.5 0.9 0.5 -0.2 0.5 1.3 0.5 4.1 0.5 -2.4 0.5 2 0.5 1.6 0.5 -0.2 0.5 1.7 0.5 0.2 0.5 1.2 0.5 -0.8 0.5 -0.6 0.5 3.9 0.5 -1.8 0.5 -1.2 0.5 -4 0.5 1.8 0.5 -1.9 0.5 -3.3 0.5 -1.6 0.5 1.7 0.5 -3.9 0.5 3 0.5 2.2 0.5 1.3 0.5 1.5 0.5 -0.9 0.5 -0.3 0.5 3.3 0.5 1.4 0.5 3.3 0.5 2.2 0.5 2.6 0.5 -2 0.5 1.1 0.5 -0.7 0.5 3.9 0.5 -1.5 0.5 -1.5 0.5 1.1 0.5 -0.4 0.5 1.3 0.5 -3.2 0.5 1 0.5 -0.7 0.5 -1.8 0.5 0.1 0.5 1 0.5 2.4 0.5 2.8 0.5 3.5 0.5 3.7 0.5 -0.6 0.5 7.7 0.5 0.5 0.5 4.7 0.5 0.3 0.5 4.1 0.5 1.9 0.5 -1.1 0.5 6.4 0.5 -1.7 0.5 4.3 0.5 0.7 0.5 4 0.5 0.3 0.5 4.2 0.5 3.1 0.5 1.3 0.5 3.2 0.5 -0.3 0.5 3.3 0.5 0.7 0.5 3.8 0.5 -2.5 0.5 5 0.5 -2.8 0.5 5.1 0.5 -2.6 0.5 4 0.5 -1.9 0.5 4.1 0.5 -1.8 0.5 0.1 0.5 4.6 0.5 -0.5 0.5 2.2 0.5 0.8 0.5 -2.3 0.5 1.1 0.5 4.2 0.5 2 0.5 -1.6 0.5 5.5 0.5 -1.8 0.5 6 0.5 1.9 0.5 1.3 0.5 2.4 0.5 2 0.5 2.8 0.5 1.6 0.5 -0.4 0.5 0.4 0.5 3.6 0.5 -0.6 0.5 0.5 0.5 1.5 0.5 0.1 0.5 4 0.5 -2.4 0.5 2.2 0.5 -2.6 0.5 3.6 0.5 1.9 0.5 -0.5 0.5 0.7 0.5 -1 0.5 1 0.5 2.8 0.5 -2.5 0.5 1.9 0.5 1.9 0.5 -1.2 0.5 1.3 0.5 -1.5 0.5 3.6 0.5 -2 0.5 0.9 0.5 0.4 0.5 2.8 0.5 -0.9 0.5 3.5 0.5 -0.2 0.5 1.7 0.5 0.1 0.5 -0.8 0.5 1.7 0.5 1.3 0.5 0.2 0.5 2.1 0.5 2 0.5 -0.9 0.5 -1.2 0.5 3.1 0.5 1.4 0.5 -2.1 0.5 -1.2 0.5 3.1 0.5 -0.7 0.5 1.5 0.5 -0.8 0.5 1.2 0.5 -4.2 0.5 3.1 0.5 -0.1 0.5 1 0.5 -2.8 0.5 1.8 0.5 -1.5 0.5 2.2 0.5 -3.4 0.5 0.4 0.5 3.7 0.5 -1.2 0.5 -2.5 0.5 0 0.5 0.2 0.5 -1.4 0.5 -1.2 0.5 3.1 0.5 -4.5 0.5 1.7 0.5 -1.1 0.5 -0.9 0.5 -2.9 0.5 -1.2 0.5 1.1 0.5 1.2 0.5 -3.4 0.5 -1 0.5 1.2 0.5 -1.7 0.5 0.6 0.5 1.8 0.5 -2.6 0.5 0.7 0.5 0.8 0.5 -2.5 0.5 -0.3 0.5 3.7 0.5 -0.8 0.5 -0.2 0.5 -1.8 0.5 -0.7 0.5 -2.3 0.5 0.2 0.5 -1.7 0.5 0 0.5 -3.1 0.5 -4.2 0.5 -3.1 0.5 0.1 0.5 -3.4 0.5 -0.7 0.5 1.5 0.5 3.7 0.5 0.4 0.5 0.6 0.5 0 0.5 2.6 0.5 -1 0.5 2.5 0.5 1.3 0.5 -1.9 0.5 1.6 0.5 -2.1 0.5 -3.7 0.5 -1.5 0.5 -0.5 0.5 -0.1 0.5 -5.6 0.5 1.1 0.5 -2.7 0.5 -0.9 0.5 1 0.5 -2.8 0.5 -2.9 0.5 -0.2 0.5 1.6 0.5 -1.1 0.5 -2.4 0.5 0.4 0.5 -0.6 0.5 -1.6 0.5 4 0.5 -3.6 0.5 -0.1 0.5 -0.6 0.5 4.1 0.5 -0.1 0.5 -1.1 0.5 -0.1 0.5 0.7 0.5 -0.4 0.5 3.1 0.5 -1 0.5 2.1 0.5 -0.2 0.5 0.3 0.5 0.4 0.5 0.6 0.5 0.1 0.5 -0.7 0.5 -2.2 0.5 -0.9 0.5 -1.1 0.5 2.2 0.5 -2.5 0.5 -3 0.5 2.2 0.5 0.5 0.5 -0.4 0.5 -0.8 0.5 -1 0.5 -4.1 0.5 0.9 0.5 0.1 0.5 -1.1 0.5 -2.3 0.5 -2.6 0.5 3.3 0.5 -1.5 0.5 -0.3 0.5 -3 0.5 -1.5 0.5 2.2 0.5 -1.7 0.5 -0.8 0.5 -3.8 0.5 -0.4 0.5 2.2 0.5 -0.4 0.5 -3.6 0.5 1.3 0.5 -4.3 0.5 0.9 0.5 -1.9 0.5 0.2 0.5 -2.2 0.5 0.5 0.5 0.3 0.5 0.9 0.5 -1.4 0.5 2.3 0.5 -1.5 0.5 4.2 0.5 -3 0.5 0 0.5 1.6 0.5 2.3 0.5 0.2 0.5 1.6 0.5 -2.1 0.5 2.1 0.5 1.1 0.5 2.3 0.5 -0.3 0.5 -1.4 0.5 -1.3 0.5 -1 0.5 2.5 0.5 -0.3 0.5 -0.5 0.5 1.1 0.5 -1.2 0.5 1.4 0.5 -2.4 0.5 0.1 0.5 2.8 0.5 -1.7 0.5 1.5 0.5 -4.5 0.5 4 0.5 -4.3 0.5 3 0.5 -1 0.5 -2.5 0.5 0.7 0.5 0.7 0.5 0.3 0.5 -0.2 0.5 -2 0.5 4.8 0.5 -2.8 0.5 2.2 0.5 1.4 0.5 0.7 0.5 -3.4 0.5 3.9 0.5 -1.3 0.5 1.1 0.5 -1.3 0.5 0 0.5 2.6 0.5 2.2 0.5 -1.7 0.5 3.1 0.5 -0.5 0.5 -2.5 0.5 5.1 0.5 -3.3 0.5 1.1 0.5 2.3 0.5 2.3 0.5 -3.4 0.5 1.3 0.5 -0.7 0.5 0.7 0.5 2.2 0.5 1.3 0.5 0.3 0.5 -1.4 0.5 2.7 0.5 1.2 0.5 3.6 0.5 -1.7 0.5 2.8 0.5 0.6 0.5 3 0.5 0.7 0.5 3.5 0.5 -0.2 0.5 0.2 0.5 1.8 0.5 3.6 0.5 -1 0.5 4.1 0.5 -1 0.5 3.7 0.5 -2.5 0.5 4.4 0.5 0.2 0.5 1.2 0.5 4.2 0.5 -0.1 0.5 3.1 0.5 5.2 0.5 0 0.5 -0.1 0.5 -0.2 0.5 0.6 0.5 0.8 0.5 1.4 0.5 -2 0.5 1.1 0.5 1 0.5 2.2 0.5 -0.1 0.5 0.2 0.5 -3.6 0.5 -0.6 0.5 3.3 0.5 -0.8 0.5 -1.9 0.5 1.1 0.5 2.7 0.5 0 0.5 1 0.5 -1.5 0.5 -0.3 0.5 3.3 0.5 -0.2 0.5 2.3 0.5 2 0.5 2.9 0.5 1.3 0.5 1.7 0.5 3 0.5 0.1 0.5 -3.1 0.5 4 0.5 -0.2 0.5 0.6 0.5 -3.5 0.5 2.3 0.5 -0.9 0.5 0.8 0.5 0.9 0.5 -4.2 0.5 3.4 0.5 -0.1 0.5 -1.2 0.5 -1.5 0.5 0.4 0.5 -2.2 0.5 2.7 0.5 -1 0.5 0 0.5 0.7 0.5 -2.9 0.5 -0.1 0.5 0.5 0.5 0 0.5 3.7 0.5 -3 0.5 1.3 0.5 1.3 0.5 -2 0.5 2.9 0.5 -0.2 0.5 -2.8 0.5 0.5 0.5 0.6 0.5 0.6 0.5 -1.8 0.5 -1.6 0.5 -2.2 0.5 2.7 0.5 0 0.5 0.4 0.5 -1.1 0.5 3.2 0.5 -0.2 0.5 0.3 0.5 0.8 0.5 0.6 0.5 4.9 0.5 -0.4 0.5 3.9 0.5 -1.6 0.5 0.5 0.5 2.7 0.5 -2.1 0.5 2.2 0.5 -2.9 0.5 0.4 0.5 -5.5 0.5 -2 0.5 -1.8 0.5 2.7 0.5 -3.1 0.5 0.2 0.5 -1.8 0.5 1.7 0.5 -0.9 0.5 -1.6 0.5 -1.4 0.5 1 0.5 0.2 0.5 -0.2 0.5 1.7 0.5 0.7 0.5 0.1 0.5 -2.9 0.5 -0.1 0.5 2.4 0.5 0.3 0.5 0.1 0.5 0.4 0.5 -2.8 0.5 -1.6 0.5 1.1 0.5 -1 0.5 -2 0.5 1.7 0.5 -2 0.5 -0.6 0.5 0.2 0.5 -2.2 0.5 1 0.5 -0.5 0.5 -1.3 0.5 0.7 0.5 -0.2 0.5 0.1 0.5 2.3 0.5 -0.1 0.5 -0.5 0.5 1.7 0.5 -0.2 0.5 -1.8 0.5 3.4 0.5 -0.8 0.5 2.3 0.5 0.2 0.5 -3.5 0.5 1.1 0.5 2.4 0.5 -1.8 0.5 3.4 0.5 -0.4 0.5 1.5 0.5 -3 0.5 1.3 0.5 -0.9 0.5 -0.4 0.5 0.5 0.5 -4 0.5 -1.8 0.5 1.4 0.5 -4.4 0.5 0.7 0.5 0.6 0.5 -1.7 0.5 -2.1 0.5 -4.4 0.5 3.4 0.5 -3.5 0.5 -1.7 0.5 -2.1 0.5 -0.8 0.5 -1.5 0.5 1.3 0.5 -1.7 0.5 -1.2 0.5 1.8 0.5 -4.1 0.5 0.9 0.5 1.1 0.5 -0.6 0.5 -1.1 0.5 -1.2 0.5 -2 0.5 0.8 0.5 1.3 0.5 0.1 0.5 -0.9 0.5 1.3 0.5 -1.6 0.5 1.4 0.5 0.3 0.5 -3.6 0.5 -0.3 0.5 3.9 0.5 -3.6 0.5 0.4 0.5 -0.4 0.5 1.8 0.5 -4.4 0.5 2 0.5 -0.6 0.5 -2.6 0.5 -1.2 0.5 -1.7 0.5 -7.7 0.5 -1.9 0.5 0.2 0.5 -1.7 0.5 0 0.5 -3 0.5 -2 0.5 0.3 0.5 1.5 0.5 -2.6 0.5 -0.9 0.5 1.3 0.5 -1.3 0.5 -2.3 0.5 0.8 0.5 2.2 0.5 -4.6 0.5 3.3 0.5 -2.5 0.5 1.8 0.5 -3.1 0.5 2.1 0.5 0.6 0.5 -4.5 0.5 3.8 0.5 -4.6 0.5 -0.9 0.5 3.2 0.5 -2 0.5 -2.9 0.5 2.4 0.5 -1.2 0.5 1.8 0.5 -0.2 0.5 -0.8 0.5 -1.9 0.5 1.1 0.5 -0.6 0.5 -2.4 0.5 2.2 0.5 -2.3 0.5 0.5 0.5 -1.7 0.5 0 0.5 1.6 0.5 1.5 0.5 -0.3 0.5 -3.3 0.5 1.5 0.5 -1.5 0.5 -0.8 0.5 0.4 0.5 1.1 0.5 0.8 0.5 -4.3 0.5 0.5 0.5 2 0.5 -1.3 0.5 -0.6 0.5 2.1 0.5 -3.8 0.5 4.6 0.5 -3.1 0.5 2.9 0.5 0.1 0.5 0.2 0.5 -1.1 0.5 0.2 0.5 -2.9 0.5 1.8 0.5 0.8 0.5 -1.8 0.5 1.8 0.5 -0.7 0.5 0.4 0.5 0.9 0.5 -2.6 0.5 1.4 0.5 -2.8 0.5 3.7 0.5 0.2 0.5 -0.5 0.5 0.1 0.5 -0.6 0.5 -1.1 0.5 2.1 0.5 -3.2 0.5 2.1 0.5 -2.5 0.5 2.9 0.5 -1.3 0.5 0.4 0.5 -2.4 0.5 1.2 0.5 1.2 0.5 -0.8 0.5 1.6 0.5 -2.7 0.5 1.8 0.5 -0.7 0.5 3.7 0.5 -0.9 0.5 2.4 0.5 0.8 0.5 -2.7 0.5 3.5 0.5 1.5 0.5 1.3 0.5 -3.3 0.5 0.7 0.5 2.6 0.5 2.7 0.5 -1.5 0.5 6 0.5 0.5 0.5 -1.7 0.5 5 0.5 -0.5 0.5 -0.2 0.5 3.1 0.5 1.1 0.5 0.4 0.5 -0.9 0.5 0.4 0.5 0 0.5 1 0.5 1.5 0.5 0.3 0.5 -0.7 0.5 4.3 0.5 -2.7 0.5 -0.1 0.5 0.8 0.5 1.2 0.5 1.1 0.5 -2.4 0.5 0.2 0.5 -0.5 0.5 1.6 0.5 2.7 0.5 -1.1 0.5 0.2 0.5 0.2 0.5 -3.3 0.5 2 0.5 -1.1 0.5 -0.1 0.5 2.1 0.5 -0.7 0.5 0.6 0.5 -1.3 0.5 3.6 0.5 -0.9 0.5 0.3 0.5 1.2 0.5 1.3 0.5 -3 0.5 0.9 0.5 3.8 0.5 -1.2 0.5 1.4 0.5 -2.5 0.5 3.2 0.5 -2.6 0.5 1.8 0.5 0.3 0.5 -2 0.5 -0.6 0.5 0.2 0.5 -1.9 0.5 -0.3 0.5 4 0.5 -1.6 0.5 -3 0.5 1.9 0.5 -2 0.5 2.4 0.5 -2.9 0.5 -2.2 0.5 2.4 0.5 0.9 0.5 -2.1 0.5 0.4 0.5 -4.8 0.5 0.4 0.5 1.7 0.5 -2.1 0.5 -2 0.5 0.1 0.5 -0.7 0.5 1.6 0.5 0 0.5 -0.6 0.5 -0.7 0.5 0.1 0.5 0.7 0.5 -3.2 0.5 0.5 0.5 3.6 0.5 -0.2 0.5 -0.6 0.5 1.1 0.5 -0.2 0.5 -0.9 0.5 1.9 0.5 -1 0.5 -0.2 0.5 1.4 0.5 2.7 0.5 -2.9 0.5 -0.2 0.5 1 0.5 2.5 0.5 0.2 0.5 -3.4 0.5 2.8 0.5 -3 0.5 0.4 0.5 -0.9 0.5 -1.9 0.5 1 0.5 -0.7 0.5 -3 0.5 -1.7 0.5 2.3 0.5 -1.8 0.5 -2.1 0.5 -1.5 0.5 0.7 0.5 -0.2 0.5 1.5 0.5 -0.7 0.5 -1 0.5 1.7 0.5 -1.7 0.5 1 0.5 -4.3 0.5 -0.4 0.5 3.2 0.5 -1.1 0.5 -2.7 0.5 -1.3 0.5 -0.8 0.5 0.6 0.5 2.1 0.5 -3.9 0.5 -0.3 0.5 2.4 0.5 -3.6 0.5 -0.3 0.5 1.9 0.5 0.1 0.5 0.2 0.5 -4.5 0.5 1.1 0.5 1.1 0.5 -1.4 0.5 1.8 0.5 -2.5 0.5 1.8 0.5 -2 0.5 0.4 0.5 4 0.5 0.3 0.5 1.2 0.5 0.7 0.5 2.8 0.5 2.6 0.5 -1.7 0.5 -1 0.5 1.3 0.5 2.4 0.5 -2.6 0.5 1.8 0.5 -3.3 0.5 1.2 0.5 -1.6 0.5 0.3 0.5 -1.3 0.5 0.5 0.5 0.1 0.5 -0.7 0.5 -1.6 0.5 -2 0.5 3.7 0.5 -3.5 0.5 1.1 0.5 2 0.5 1.1 0.5 -0.7 0.5 -2.2 0.5 5.1 0.5 -3.4 0.5 1.1 0.5 4.7 0.5 2.3 0.5 0.1 0.5 2.4 0.5 0.1 0.5 -1.6 0.5 3.3 0.5 1.5 0.5 -0.5 0.5 1.9 0.5 -0.6 0.5 -1.3 0.5 4.3 0.5 -2.5 0.5 0.5 0.5 0.2 0.5 1.7 0.5 0.8 0.5 -0.6 0.5 0.1 0.5 1.7 0.5 -1.9 0.5 2.4 0.5 -1.8 0.5 0.2 0.5 0 0.5 3.5 0.5 -0.1 0.5 0.8 0.5 -0.9 0.5 -1.5 0.5 -0.8 0.5 0.8 0.5 0.1 0.5 1.6 0.5 -3.3 0.5 2.5 0.5 0 0.5 -0.2 0.5 -1.7 0.5 -0.1 0.5 1.8 0.5 -2.8 0.5 1.7 0.5 -3.3 0.5 0.7 0.5 1.2 0.5 1 0.5 -2.8 0.5 2.9 0.5 -1.6 0.5 -2.5 0.5 -1 0.5 1.2 0.5 1.5 0.5 0.3 0.5 -1.3 0.5 -2.8 0.5 2.8 0.5 -3.8 0.5 1 0.5 1.1 0.5 -1.7 0.5 -0.1 0.5 0.4 0.5 2 0.5 -2.5 0.5 -2.3 0.5 1.1 0.5 0.8 0.5 -0.5 0.5 1.6 0.5 -2.4 0.5 0.8 0.5 -0.7 0.5 -1.8 0.5 -0.6 0.5 -0.4 0.5 -2.3 0.5 -0.9 0.5 -0.6 0.5 -0.9 0.5 -1.2 0.5 0.6 0.5 -2 0.5 3.1 0.5 -3.7 0.5 -2.8 0.5 2.3 0.5 -0.6 0.5 0.4 0.5 -3.9 0.5 -0.3 0.5 1.2 0.5 -1.8 0.5 -1.3 0.5 0 0.5 -1 0.5 -6.2 0.5 0.3 0.5 1 0.5 -6.2 0.5 -0.4 0.5 0.3 0.5 -4.8 0.5 1 0.5 0.4 0.5 -3.1 0.5 -3.6 0.5 -0.2 0.5 1.1 0.5 -2 0.5 4.1 0.5 -0.1 0.5 2.6 0.5 4.7 0.5 2.2 0.5 2.4 0.5 -1.6 0.5 1.2 0.5 1.8 0.5 -0.3 0.5 1.9 0.5 -1.4 0.5 2.7 0.5 -3 0.5 2.3 0.5 0.9 0.5 1 0.5 -2.8 0.5 2.6 0.5 -1.3 0.5 0.2 0.5 -1.7 0.5 3.1 0.5 -3.6 0.5 4.8 0.5 -1.7 0.5 0.5 0.5 -1.5 0.5 2.8 0.5 -2 0.5 3.8 0.5 -0.1 0.5 -2.4 0.5 3.2 0.5 -0.4 0.5 -1.5 0.5 2 0.5 0.3 0.5 -0.8 0.5 1.1 0.5 0.5 0.5 0.8 0.5 -0.1 0.5 -3.3 0.5 3.7 0.5 0.7 0.5 -1.9 0.5 2.3 0.5 -2.9 0.5 -0.4 0.5 2.6 0.5 -1.1 0.5 0.6 0.5 2.3 0.5 3.3 0.5 -1.3 0.5 3.2 0.5 -1.3 0.5 0.8 0.5 -1.2 0.5 1.3 0.5 4.8 0.5 0.2 0.5 0.3 0.5 2.4 0.5 -0.5 0.5 -1 0.5 3.4 0.5 -0.1 0.5 -2.6 0.5 4.1 0.5 -1.8 0.5 2.7 0.5 0.4 0.5 1 0.5 -3.3 0.5 3.6 0.5 -1.5 0.5 3.3 0.5 -3 0.5 4.3 0.5 1.1 0.5 -1.6 0.5 0.9 0.5 1 0.5 2.2 0.5 -3 0.5 4.5 0.5 -1.6 0.5 1.4 0.5 4.5 0.5 -0.4 0.5 4.1 0.5 6.6 0.5 3.8 0.5 0.1 0.5 3.4 0.5 -1.9 0.5 -1.8 0.5 0.7 0.5 -1 0.5 1.1 0.5 -0.6 0.5 -0.8 0.5 2 0.5 -3 0.5 -1.4 0.5 3.2 0.5 -1.9 0.5 1.1 0.5 -2.9 0.5 0.3 0.5 -1.8 0.5 2.4 0.5 -3.9 0.5 2.4 0.5 -3.8 0.5 0.9 0.5 -1.9 0.5 -0.7 0.5 -4.1 0.5 2.6 0.5 -3.5 0.5 -2.8 0.5 2.5 0.5 -3.3 0.5 2.6 0.5 0.5 0.5 -2.3 0.5 -0.2 0.5 0.6 0.5 2.9 0.5 1 0.5 1.3 0.5 -2.3 0.5 -0.5 0.5 3.5 0.5 1.8 0.5 0.5 0.5 -0.2 0.5 -0.3 0.5 2.9 0.5 1.1 0.5 -2.5 0.5 2.6 0.5 0.4 0.5 1 0.5 -3.2 0.5 -0.3 0.5 -2.2 0.5 0 0.5 2.3 0.5 -2.8 0.5 2.6 0.5 -3.3 0.5 1.9 0.5 -2.4 0.5 1.5 0.5 -1.9 0.5 -1.3 0.5 0 0.5 0.2 0.5 -0.9 0.5 3.4 0.5 0.1 0.5 -0.7 0.5 -3.9 0.5 4.3 0.5 -0.2 0.5 0.4 0.5 -0.9 0.5 -1.9 0.5 0.5 0.5 0.6 0.5 -0.8 0.5 -0.7 0.5 4.6 0.5 -2.7 0.5 1 0.5 -2.5 0.5 3.7 0.5 -0.4 0.5 -3.2 0.5 0.7 0.5 2.6 0.5 -3.6 0.5 -0.8 0.5 -0.4 0.5 -1 0.5 1.9 0.5 -1.1 0.5 -2.2 0.5 -2.2 0.5 1.8 0.5 -0.9 0.5 -2.8 0.5 0.7 0.5 2.6 0.5 -0.4 0.5 -0.5 0.5 0.8 0.5 -1.3 0.5 1.9 0.5 -2 0.5 4.3 0.5 -0.5 0.5 -1.4 0.5 2.4 0.5 -1.5 0.5 -0.5 0.5 0.2 0.5 0.1 0.5 1 0.5 -1.6 0.5 -3.3 0.5 -1.6 0.5 3.2 0.5 -1.7 0.5 -1.4 0.5 -1 0.5 1.6 0.5 -4.9 0.5 -0.1 0.5 0.3 0.5 2.9 0.5 -1.6 0.5 -0.4 0.5 -1 0.5 -0.7 0.5 -0.4 0.5 0.8 0.5 0.3 0.5 1.8 0.5 -0.6 0.5 3 0.5 -0.4 0.5 -2 0.5 -2.3 0.5 0.3 0.5 -1.9 0.5 2.7 0.5 -1.5 0.5 2.3 0.5 -3.1 0.5 2.3 0.5 -2.4 0.5 1.2 0.5 -1.4 0.5 2.4 0.5 -2.6 0.5 -0.2 0.5 -0.5 0.5 1.7 0.5 1.7 0.5 -1.3 0.5 2 0.5 -1.3 0.5 -0.4 0.5 -0.5 0.5 -2.5 0.5 2.5 0.5 -2 0.5 -0.6 0.5 0.2 0.5 0.5 0.5 2.3 0.5 -1.4 0.5 0.5 0.5 1 0.5 2.9 0.5 -3.1 0.5 0.3 0.5 -0.1 0.5 0.2 0.5 -0.2 0.5 2.1 0.5 -0.1 0.5 -4.1 0.5 0.8 0.5 -5.2 0.5 0.4 0.5 0.3 0.5 -4.7 0.5 3.5 0.5 -3.6 0.5 -0.2 0.5 1.4 0.5 -0.7 0.5 -4 0.5 0.5 0.5 0.5 0.5 -2.1 0.5 1.4 0.5 -4.5 0.5 3 0.5 -2.4 0.5 -0.6 0.5 -0.1 0.5 -2.6 0.5 0.4 0.5 -1.5 0.5 2.5 0.5 -2.5 0.5 -0.9 0.5 3.7 0.5 -2.4 0.5 3.1 0.5 -2.2 0.5 1.4 0.5 1.1 0.5 -1 0.5 2.5 0.5 -0.4 0.5 0.7 0.5 -1.6 0.5 -1.8 0.5 0.2 0.5 0 0.5 1.8 0.5 2 0.5 -1.7 0.5 -0.4 0.5 -1.2 0.5 1.6 0.5 -0.5 0.5 1.6 0.5 0.4 0.5 2.7 0.5 -2.2 0.5 2.7 0.5 -3.9 0.5 1.5 0.5 1.9 0.5 -1.4 0.5 -1.7 0.5 1.5 0.5 1 0.5 1.9 0.5 -3.3 0.5 -0.9 0.5 3.3 0.5 -0.6 0.5 -1.1 0.5 0.3 0.5 -0.4 0.5 1.6 0.5 0.9 0.5 -2.8 0.5 2.7 0.5 -2.4 0.5 0.2 0.5 -1.4 0.5 -1 0.5 0.4 0.5 0.2 0.5 0.8 0.5 0.1 0.5 1.7 0.5 -2.3 0.5 1.9 0.5 -2.4 0.5 1 0.5 -2.1 0.5 3.7 0.5 -2.8 0.5 1 0.5 -0.6 0.5 -0.6 0.5 -1.5 0.5 2.5 0.5 -1.9 0.5 -1.7 0.5 -0.1 0.5 2 0.5 0.5 0.5 -1.2 0.5 0.1 0.5 3.1 0.5 -0.4 0.5 -2.2 0.5 3.6 0.5 -3.3 0.5 4.1 0.5 0.2 0.5 -3.1 0.5 4.5 0.5 -0.1 0.5 -2.9 0.5 2.7 0.5 -0.6 0.5 -1 0.5 1 0.5 0.7 0.5 3 0.5 0.3 0.5 2.8 0.5 -2.3 0.5 1.4 0.5 0.3 0.5 0.9 0.5 1.7 0.5 1.7 0.5 0.2 0.5 -2.3 0.5 1.3 0.5 2.3 0.5 1.2 0.5 1.2 0.5 -2 0.5 0.8 0.5 -1.7 0.5 2.7 0.5 -0.5 0.5 1.9 0.5 1 0.5 -1.4 0.5 0.1 0.5 3.6 0.5 0.6 0.5 1.7 0.5 -1.9 0.5 -2 0.5 0.2 0.5 4 0.5 -1.7 0.5 -3.5 0.5 0.4 0.5 -2.1 0.5 1.8 0.5 -1.3 0.5 -0.1 0.5 -2.3 0.5 -2.2 0.5 1.8 0.5 -3.1 0.5 1.4 0.5 -2.6 0.5 0.4 0.5 2.2 0.5 -0.4 0.5 4.3 0.5 0.2 0.5 4.1 0.5 0.8 0.5 2.3 0.5 2.1 0.5 1 0.5 3.2 0.5 4.9 0.5 0.9 0.5 2.2 0.5 -0.3 0.5 0.1 0.5 3.4 0.5 -1.7 0.5 1.6 0.5 -3.7 0.5 1 0.5 1 0.5 1 0.5 -3.9 0.5 3.3 0.5 -1.9 0.5 -2.7 0.5 -1.3 0.5 4 0.5 -1.8 0.5 -0.3 0.5 -1.9 0.5 -2.2 0.5 1.3 0.5 0.2 0.5 -2.3 0.5 2.7 0.5 -1.7 0.5 -4.4 0.5 0.7 0.5 2.3 0.5 -1.4 0.5 -0.2 0.5 -3.3 0.5 3.1 0.5 -1.3 0.5 -1.6 0.5 1.2 0.5 -2.1 0.5 3.1 0.5 -3.9 0.5 1 0.5 2.1 0.5 -1.5 0.5 2.1 0.5 -0.4 0.5 -0.6 0.5 -1.6 0.5 0.2 0.5 -0.9 0.5 -0.6 0.5 -2.1 0.5 0.5 0.5 1.4 0.5 -1.4 0.5 -1.9 0.5 -1 0.5 -1.6 0.5 -1.4 0.5 -0.4 0.5 1.5 0.5 0.9 0.5 -1.7 0.5 -2.2 0.5 0.6 0.5 -2.4 0.5 -0.4 0.5 -0.2 0.5 2.8 0.5 1.1 0.5 -0.7 0.5 5.3 0.5 -2.4 0.5 2.9 0.5 1.6 0.5 -2.8 0.5 0.9 0.5 0.7 0.5 -0.5 0.5 -1.3 0.5 -1.7 0.5 -4.4 0.5 -1.7 0.5 2.2 0.5 -5.2 0.5 -0.6 0.5 0.5 0.5 -5.3 0.5 2.7 0.5 -2.1 0.5 -2.2 0.5 -1.3 0.5 0.8 0.5 1.2 0.5 -3.3 0.5 -0.1 0.5 1 0.5 1.3 0.5 -2 0.5 -0.2 0.5 2.7 0.5 -2 0.5 1.5 0.5 -0.3 0.5 -0.3 0.5 -0.2 0.5 1.4 0.5 1.1 0.5 -3.3 0.5 0.7 0.5 -0.4 0.5 2.7 0.5 -2.5 0.5 0.4 0.5 0.1 0.5 1.9 0.5 -4.8 0.5 0.8 0.5 3.5 0.5 -1.5 0.5 0.3 0.5 3.5 0.5 -3 0.5 0.6 0.5 5.3 0.5 0.5 0.5 -0.4 0.5 -0.5 0.5 3 0.5 -2.5 0.5 1.6 0.5 -1.1 0.5 1.1 0.5 -2.1 0.5 2.1 0.5 0 0.5 2.5 0.5 -2.7 0.5 0.8 0.5 -1.8 0.5 0.7 0.5 -0.1 0.5 3.6 0.5 -4.1 0.5 2.4 0.5 0.8 0.5 0.3 0.5 -1.5 0.5 -2.8 0.5 3.2 0.5 -2.1 0.5 -0.2 0.5 1.6 0.5 -4.1 0.5 3.6 0.5 0.6 0.5 0.3 0.5 -1.5 0.5 4.5 0.5 -2.1 0.5 1.5 0.5 3.5 0.5 1.4 0.5 -2.2 0.5 1.9 0.5 2.5 0.5 -0.8 0.5 -1.1 0.5 0.7 0.5 1.1 0.5 0.2 0.5 -2.4 0.5 -1.2 0.5 2.2 0.5 -3.1 0.5 -1.3 0.5 -0.9 0.5 -1.5 0.5 -1.5 0.5 0.2 0.5 -1.8 0.5 1.3 0.5 -3.3 0.5 0.5 0.5 2.2 0.5 -2.8 0.5 1.8 0.5 -3.4 0.5 2.3 0.5 -3.7 0.5 3.6 0.5 -0.4 0.5 -2.1 0.5 -2.9 0.5 2.1 0.5 -0.3 0.5 -1.2 0.5 0 0.5 -2.9 0.5 2.2 0.5 -2.9 0.5 1.1 0.5 -0.6 0.5 -1 0.5 0 0.5 2.7 0.5 -4.5 0.5 1.6 0.5 -0.6 0.5 -2.3 0.5 -0.6 0.5 1.1 0.5 -0.8 0.5 -0.9 0.5 -0.4 0.5 -0.6 0.5 1.8 0.5 1.4 0.5 -3.5 0.5 0.1 0.5 1.2 0.5 -2.1 0.5 -1.2 0.5 2.2 0.5 -1.8 0.5 -1.9 0.5 1.2 0.5 2.4 0.5 -4.2 0.5 3.8 0.5 -1.5 0.5 1 0.5 -1.4 0.5 0.8 0.5 0.9 0.5 -3.5 0.5 -0.4 0.5 2 0.5 -0.5 0.5 0 0.5 -0.9 0.5 2.8 0.5 -1.9 0.5 -0.1 0.5 -2.9 0.5 1.2 0.5 0.1 0.5 3.5 0.5 -4.1 0.5 1.8 0.5 1.1 0.5 -0.4 0.5 0.8 0.5 -1.8 0.5 -0.9 0.5 0.4 0.5 1.5 0.5 -0.1 0.5 -0.4 0.5 2.4 0.5 -2.4 0.5 -1 0.5 1.8 0.5 -0.1 0.5 0.9 0.5 -0.9 0.5 -2.5 0.5 2.3 0.5 -1.4 0.5 0.4 0.5 2.7 0.5 1.1 0.5 -0.3 0.5 -3.1 0.5 0.7 0.5 1.3 0.5 -0.9 0.5 -4.7 0.5 -0.1 0.5 0.4 0.5 -3.1 0.5 -2 0.5 -0.1 0.5 0.5 0.5 0.1 0.5 -0.2 0.5 -1.1 0.5 0.2 0.5 -0.1 0.5 1.5 0.5 -0.4 0.5 0.6 0.5 1.5 0.5 -3.5 0.5 0 0.5 2.7 0.5 -0.1 0.5 2.7 0.5 -2.4 0.5 2.3 0.5 0.6 0.5 -1.9 0.5 -0.8 0.5 2.3 0.5 -0.8 0.5 0.1 0.5 1.4 0.5 -1.4 0.5 1.9 0.5 0.5 0.5 -0.5 0.5 0.7 0.5 -1.4 0.5 2.1 0.5 1.7 0.5 0.3 0.5 -3.2 0.5 1.4 0.5 2 0.5 -0.6 0.5 -1.2 0.5 1.8 0.5 -0.2 0.5 -2.2 0.5 -2.3 0.5 2.5 0.5 -3.3 0.5 -1.6 0.5 -2.1 0.5 2.9 0.5 -2.2 0.5 -4 0.5 -0.5 0.5 2.5 0.5 -4.9 0.5 2.1 0.5 -1.4 0.5 -1.2 0.5 0 0.5 -2.7 0.5 0.3 0.5 0.2 0.5 -2.5 0.5 -1.3 0.5 -0.7 0.5 -3.1 0.5 -0.3 0.5 0.9 0.5 -1.4 0.5 -2.7 0.5 3.4 0.5 -2.4 0.5 -0.7 0.5 -0.3 0.5 3.8 0.5 -1 0.5 -2 0.5 -0.4 0.5 3 0.5 -3.5 0.5 1.4 0.5 0.3 0.5 0.9 0.5 -1.6 0.5 -3.1 0.5 1.6 0.5 1.5 0.5 -3.6 0.5 -0.5 0.5 3.2 0.5 9.2 0.5 6.2 0.5 2 0.5 1.2 0.5 2.3 0.5 0.8 0.5 2.9 0.5 1.9 0.5 1.8 0.5 -0.8 0.5 5.2 0.5 -0.8 0.5 0.4 0.5 1.5 0.5 -3.6 0.5 2.6 0.5 -1.1 0.5 1.1 0.5 1.2 0.5 -4.5 0.5 0.1 0.5 0.4 0.5 0.2 0.5 0.9 0.5 -1 0.5 -1.4 0.5 -2 0.5 1.2 0.5 -0.8 0.5 -1.9 0.5 3.5 0.5 -0.5 0.5 -1.2 0.5 -2 0.5 1.2 0.5 -1.8 0.5 0.9 0.5 -3.7 0.5 2.1 0.5 -0.9 0.5 1.2 0.5 -2.4 0.5 0.2 0.5 -3.3 0.5 1.1 0.5 -1.4 0.5 2.9 0.5 -0.3 0.5 -3.6 0.5 1.7 0.5 -2.8 0.5 2.3 0.5 2.2 0.5 -3.9 0.5 3 0.5 -0.9 0.5 2.5 0.5 -2.5 0.5 2.3 0.5 -0.8 0.5 1.3 0.5 0.6 0.5 -0.6 0.5 -1 0.5 1.6 0.5 1.3 0.5 0.6 0.5 -0.5 0.5 -0.2 0.5 -1 0.5 0.9 0.5 3.5 0.5 -0.2 0.5 2.2 0.5 0.4 0.5 0.6 0.5 0.4 0.5 4.4 0.5 -1.7 0.5 2.9 0.5 -1.5 0.5 5 0.5 -2.9 0.5 2.4 0.5 2 0.5 -2.4 0.5 2.2 0.5 -0.9 0.5 2.9 0.5 -3.7 0.5 0.4 0.5 1.9 0.5 0.7 0.5 -0.5 0.5 -1.8 0.5 1.6 0.5 -1.8 0.5 3 0.5 -1.6 0.5 3.1 0.5 -2.7 0.5 -1.6 0.5 -0.1 0.5 1.7 0.5 -0.2 0.5 3.5 0.5 -0.7 0.5 -1.7 0.5 -0.2 0.5 -0.5 0.5 0.9 0.5 3.6 0.5 -2.6 0.5 4.1 0.5 -1.1 0.5 2.1 0.5 0.4 0.5 -1.7 0.5 3.8 0.5 1.2 0.5 -3.1 0.5 4.6 0.5 -0.1 0.5 -0.3 0.5 1.2 0.5 -2.4 0.5 1.6 0.5 3.9 0.5 0.6 0.5 -2.6 0.5 2.1 0.5 -0.5 0.5 -0.4 0.5 3.1 0.5 -0.4 0.5 -2.9 0.5 2.8 0.5 -3.3 0.5 0.1 0.5 1.4 0.5 -2.1 0.5 2.1 0.5 0.3 0.5 -2.5 0.5 1.7 0.5 -3.7 0.5 -0.5 0.5 1.4 0.5 -2.7 0.5 2.8 0.5 -0.3 0.5 -5.6 0.5 2.3 0.5 -2.9 0.5 -0.1 0.5 -2.7 0.5 -1.5 0.5 -2.1 0.5 -1.9 0.5 -2.4 0.5 -1 0.5 -5.5 0.5 2.4 0.5 -1.3 0.5 -1.9 0.5 0 0.5 -1.8 0.5 0.6 0.5 1.8 0.5 -0.9 0.5 1.7 0.5 -3.3 0.5 -0.2 0.5 2.4 0.5 1 0.5 -3 0.5 -0.1 0.5 -2 0.5 0.5 0.5 3 0.5 0.3 0.5 -2.6 0.5 1.5 0.5 -3.2 0.5 1.9 0.5 1.2 0.5 -2.6 0.5 1.3 0.5 0.4 0.5 -3 0.5 0.3 0.5 1.6 0.5 -1.8 0.5 -0.7 0.5 -0.2 0.5 2.7 0.5 -1.9 0.5 0.2 0.5 0 0.5 -2 0.5 1.1 0.5 -1.7 0.5 -2.2 0.5 1.4 0.5 -0.7 0.5 0.4 0.5 0.9 0.5 -4.8 0.5 2.4 0.5 0.1 0.5 -1.2 0.5 -0.3 0.5 1.1 0.5 -1 0.5 -0.8 0.5 0.8 0.5 -0.5 0.5 -3 0.5 1.1 0.5 2.3 0.5 -3.8 0.5 1.3 0.5 0.3 0.5 -2.7 0.5 0.1 0.5 0.3 0.5 1.1 0.5 -2.6 0.5 2.8 0.5 -0.9 0.5 0.2 0.5 -3 0.5 1.3 0.5 1.4 0.5 -2 0.5 0.7 0.5 -0.6 0.5 1.9 0.5 -0.2 0.5 1.1 0.5 1.6 0.5 -0.3 0.5 -0.4 0.5 -0.9 0.5 1.8 0.5 2.7 0.5 0.7 0.5 -3.6 0.5 3.2 0.5 -2.7 0.5 1 0.5 2 0.5 -0.6 0.5 3.3 0.5 -0.1 0.5 0.2 0.5 3.1 0.5 -1.7 0.5 0.1 0.5 0.8 0.5 -0.7 0.5 3.9 0.5 0.2 0.5 -0.5 0.5 2.6 0.5 -1.9 0.5 0 0.5 -0.3 0.5 1.3 0.5 1.9 0.5 0.1 0.5 1.3 0.5 -1.2 0.5 0.5 0.5 3.8 0.5 -0.4 0.5 2.5 0.5 1 0.5 -1.8 0.5 1.1 0.5 1.9 0.5 -2.6 0.5 3.8 0.5 -1.6 0.5 -0.2 0.5 1.3 0.5 1.2 0.5 1 0.5 0.1 0.5 -3.6 0.5 0.7 0.5 1.1 0.5 -1.3 0.5 1.8 0.5 0 0.5 0.3 0.5 -0.9 0.5 -0.5 0.5 1.6 0.5 -2.6 0.5 -0.2 0.5 3.1 0.5 -2.7 0.5 -0.2 0.5 0.2 0.5 1.4 0.5 -1.6 0.5 2 0.5 -0.4 0.5 -1.2 0.5 2.4 0.5 -0.9 0.5 -3.1 0.5 0.5 0.5 -0.6 0.5 3.1 0.5 -2.6 0.5 1 0.5 -1.8 0.5 3.5 0.5 -0.9 0.5 -0.7 0.5 -0.1 0.5 -2 0.5 -1.4 0.5 -1.4 0.5 1.3 0.5 1.9 0.5 -4.7 0.5 0.3 0.5 1.1 0.5 -2.5 0.5 0.7 0.5 1.8 0.5 -2.9 0.5 0.1 0.5 -0.3 0.5 -0.6 0.5 2.7 0.5 0.6 0.5 -1.9 0.5 -1.9 0.5 -0.3 0.5 1.8 0.5 0.1 0.5 0.5 0.5 -3.2 0.5 0.5 0.5 0.9 0.5 0.7 0.5 2.2 0.5 -3.1 0.5 1.6 0.5 -0.4 0.5 3.6 0.5 -0.3 0.5 0.5 0.5 -2.4 0.5 0.8 0.5 1.6 0.5 -4.4 0.5 3.6 0.5 -0.3 0.5 -1.7 0.5 1.6 0.5 0.1 0.5 -2.6 0.5 4 0.5 0.2 0.5 -3.1 0.5 3.5 0.5 -1.9 0.5 -0.2 0.5 1.2 0.5 0.6 0.5 -3.3 0.5 -0.9 0.5 3.2 0.5 -2.1 0.5 0.4 0.5 -0.3 0.5 1.8 0.5 -1.4 0.5 0.7 0.5 0.2 0.5 -3.6 0.5 2.6 0.5 0.2 0.5 -2.5 0.5 0.1 0.5 -0.9 0.5 1.2 0.5 1.2 0.5 -3.1 0.5 2.3 0.5 -4.6 0.5 0.7 0.5 -1.5 0.5 2.7 0.5 -4.7 0.5 2.4 0.5 -2.4 0.5 -1.9 0.5 -0.1 0.5 -2 0.5 1.7 0.5 -0.4 0.5 -1.6 0.5 1.2 0.5 -0.5 0.5 -0.9 0.5 -0.3 0.5 -2.3 0.5 -2.2 0.5 0.9 0.5 -1.4 0.5 -2.4 0.5 1.5 0.5 -2.4 0.5 0 0.5 -3.6 0.5 -1 0.5 -1.9 0.5 2.7 0.5 -2.1 0.5 -2.9 0.5 -2.1 0.5 0.7 0.5 1.8 0.5 0.5 0.5 -3.6 0.5 3.7 0.5 -3.2 0.5 -0.4 0.5 1 0.5 0.1 0.5 1.7 0.5 3.3 0.5 -0.9 0.5 2 0.5 -2.8 0.5 3.7 0.5 -2.5 0.5 1.4 0.5 3.3 0.5 -0.7 0.5 0.3 0.5 -0.2 0.5 -1 0.5 1.6 0.5 -0.7 0.5 2.1 0.5 -0.3 0.5 1.1 0.5 0.1 0.5 0.2 0.5 -3.4 0.5 -0.1 0.5 1.7 0.5 2.7 0.5 -1.6 0.5 -0.3 0.5 1.1 0.5 -1 0.5 -2.8 0.5 1.4 0.5 1.6 0.5 -0.7 0.5 -3.8 0.5 4 0.5 -2.6 0.5 -1.5 0.5 0.2 0.5 1.9 0.5 -0.6 0.5 -3 0.5 0.9 0.5 -3.1 0.5 3.1 0.5 -3.8 0.5 2.7 0.5 -2.1 0.5 -0.9 0.5 0 0.5 4 0.5 -3.5 0.5 1.3 0.5 -1.3 0.5 2 0.5 1.9 0.5 -2.5 0.5 2.5 0.5 -1.5 0.5 -0.8 0.5 3.7 0.5 -1.7 0.5 2.1 0.5 2.1 0.5 -0.4 0.5 -1.1 0.5 2.2 0.5 1.7 0.5 -1.5 0.5 4.6 0.5 -2.5 0.5 -0.3 0.5 3 0.5 0.4 0.5 -1 0.5 2 0.5 -0.6 0.5 3 0.5 -1.3 0.5 0.4 0.5 -1.6 0.5 4.1 0.5 -3.3 0.5 1.7 0.5 0.9 0.5 -1.2 0.5 -1.2 0.5 1.2 0.5 0 0.5 -3.2 0.5 0.1 0.5 -0.8 0.5 -1.2 0.5 2.3 0.5 1.3 0.5 -4.2 0.5 2.5 0.5 -3.2 0.5 1.9 0.5 -4.5 0.5 0.4 0.5 1.9 0.5 -0.3 0.5 -1.1 0.5 -1.3 0.5 -2.3 0.5 2.6 0.5 -2.5 0.5 0.6 0.5 -2.7 0.5 2.1 0.5 -2 0.5 0.1 0.5 -2.9 0.5 1.2 0.5 -1.5 0.5 1.3 0.5 1.1 0.5 -0.9 0.5 -0.3 0.5 3.3 0.5 3 0.5 -0.3 0.5 3.2 0.5 -0.7 0.5 1.7 0.5 -0.3 0.5 0 0.5 4.2 0.5 -0.6 0.5 2.1 0.5 0.7 0.5 0.7 0.5 -1.1 0.5 0.5 0.5 0.6 0.5 2.1 0.5 1.4 0.5 2.3 0.5 1.8 0.5 -0.2 0.5 0.5 0.5 -0.1 0.5 2.7 0.5 -0.2 0.5 4.1 0.5 -1.7 0.5 2.3 0.5 0.2 0.5 1.1 0.5 3.6 0.5 -1.7 0.5 1.4 0.5 -0.6 0.5 4.9"/>
<path stroke="#0f9ed5" stroke-width="8.6" d="M293.3 194.1l0.5 1.1 0.5 0.9 0.5 -1.5 0.5 5 0.5 -3.1 0.5 1.5 0.5 2.3 0.5 2.8 0.5 -3.5 0.5 6.6 0.5 -2.1 0.5 -1.4 0.5 0.9 0.5 3.1 0.5 -1.8 0.5 1.6 0.5 6.3 0.5 0.9 0.5 -0.1 0.5 2.5 0.5 -2.3 0.5 3 0.5 0.3 0.5 5.6 0.5 -1.4 0.5 3.2 0.5 8.5 0.5 -2.9 0.5 8.6 0.5 -0.1 0.5 2.4 0.5 0.2 0.5 4 0.5 1.7 0.5 4.2 0.5 3.7 0.5 -2.5 0.5 -0.3 0.5 7.6 0.5 -1.5 0.5 1 0.5 3.8 0.5 0.8 0.5 0.8 0.5 -1.2 0.5 5.7 0.5 -2 0.5 3.9 0.5 -1.1 0.5 1.8 0.5 4.2 0.5 2.4 0.5 3.1 0.5 -0.1 0.5 1.6 0.5 1.6 0.5 -0.1 0.5 6 0.5 0.1 0.5 -1.3 0.5 4.8 0.5 1.4 0.5 1 0.5 5.6 0.5 2.9 0.5 2.7 0.5 2.1 0.5 3 0.5 -2.8 0.5 4.8 0.5 1.5 0.5 4.5 0.5 2.3 0.5 -1.2 0.5 4.3 0.5 2.8 0.5 2.2 0.5 4.4 0.5 4.3 0.5 1.9 0.5 2 0.5 7.2 0.5 -1.5 0.5 4.2 0.5 5.9 0.5 1.3 0.5 4.8 0.5 -0.2 0.5 9 0.5 -0.1 0.5 6.2 0.5 0.8 0.5 6.2 0.5 -1.5 0.5 5.5 0.5 8.6 0.5 -1.8 0.5 9.2 0.5 1.1 0.5 5.1 0.5 2.9 0.5 3.8 0.5 8 0.5 2.2 0.5 6.9 0.5 23.6 0.5 3.5 0.5 7.7 0.5 6 0.5 1.3 0.5 0.6 0.5 6.7 0.5 3.9 0.5 1.3 0.5 5.1 0.5 0.9 0.5 2.3 0.5 4.7 0.5 6.7 0.5 4.7 0.5 -0.6 0.5 7.2 0.5 3.2 0.5 0.2 0.5 7.5 0.5 1.3 0.5 2.2 0.5 6.8 0.5 2.2 0.5 6.1 0.5 6.9 0.5 -0.5 0.5 6.5 0.5 4 0.5 1.9 0.5 6.9 0.5 1.6 0.5 8 0.5 3.5 0.5 1.7 0.5 1.8 0.5 3.2 0.5 4.4 0.5 5.8 0.5 4.2 0.5 1 0.5 8 0.5 2.5 0.5 7.2 0.5 0.4 0.5 4.6 0.5 6.1 0.5 1.5 0.5 6.3 0.5 2.5 0.5 1.4 0.5 9.1 0.5 4 0.5 -0.8 0.5 5.3 0.5 5.5 0.5 0.8 0.5 5.7 0.5 1.8 0.5 6.9 0.5 3.6 0.5 6.6 0.5 3 0.5 0.1 0.5 6.1 0.5 5.2 0.5 -1.9 0.5 5.6 0.5 0.4 0.5 3.6 0.5 4.3 0.5 -0.4 0.5 5.7 0.5 1.4 0.5 1 0.5 5.4 0.5 0 0.5 2.1 0.5 6.7 0.5 -1.3 0.5 2.6 0.5 -1 0.5 7.1 0.5 -0.7 0.5 -0.3 0.5 3.9 0.5 1.3 0.5 0.4 0.5 1 0.5 -0.8 0.5 5.5 0.5 -3.3 0.5 1.5 0.5 4.9 0.5 2.9 0.5 1.5 0.5 -3.1 0.5 4.9 0.5 -3 0.5 1.1 0.5 2.6 0.5 1.6 0.5 0.5 0.5 3.1 0.5 -2.1 0.5 -0.5 0.5 1 0.5 -1.6 0.5 3.6 0.5 -3.4 0.5 2 0.5 -2.5 0.5 4 0.5 -2.5 0.5 2.5 0.5 -4.1 0.5 1.8 0.5 2.3 0.5 -1.2 0.5 -3.6 0.5 -0.9 0.5 2.9 0.5 2.2 0.5 -3.8 0.5 1.7 0.5 -0.3 0.5 1.6 0.5 -4 0.5 -2.4 0.5 -0.3 0.5 4.9 0.5 -4.7 0.5 2.1 0.5 0.1 0.5 1.4 0.5 -3.2 0.5 -1.3 0.5 4 0.5 -2.2 0.5 1.9 0.5 -2.2 0.5 -1.8 0.5 -2.6 0.5 -4.6 0.5 3.5 0.5 -4.9 0.5 -3.9 0.5 2.4 0.5 -0.4 0.5 -3.5 0.5 -5.5 0.5 -0.7 0.5 -2 0.5 -2.1 0.5 0.6 0.5 -1.7 0.5 -4.8 0.5 -1.3 0.5 -2.6 0.5 -2.5 0.5 0.4 0.5 -1.2 0.5 -2.7 0.5 -0.6 0.5 -2.4 0.5 -2.1 0.5 -3.3 0.5 -4.8 0.5 0.4 0.5 -0.6 0.5 -6.5 0.5 -1.5 0.5 -4.2 0.5 3.6 0.5 -2.6 0.5 -6.3 0.5 0 0.5 -3.2 0.5 -2 0.5 -1.8 0.5 0.9 0.5 -6.4 0.5 -0.8 0.5 -1.3 0.5 -2.9 0.5 -6.8 0.5 -0.7 0.5 0.4 0.5 -6.7 0.5 -0.8 0.5 -0.5 0.5 -6.5 0.5 -1 0.5 0 0.5 -8.4 0.5 -1.9 0.5 -4.9 0.5 -3 0.5 1.2 0.5 -5.4 0.5 -3.3 0.5 -6.1 0.5 -1.1 0.5 -7.5 0.5 -3.8 0.5 -5 0.5 1.2 0.5 -8.5 0.5 -4.8 0.5 -3.7 0.5 -5.7 0.5 -0.1 0.5 -8.7 0.5 -6.2 0.5 0.4 0.5 -5.7 0.5 -8.5 0.5 -3.8 0.5 -6.5 0.5 -0.2 0.5 -4.9 0.5 -10.5 0.5 -3.7 0.5 -3.5 0.5 -3.4 0.5 -3.2 0.5 -3.9 0.5 -3.9 0.5 -6 0.5 -2.4 0.5 -2 0.5 -3.9 0.5 -4.4 0.5 -0.3 0.5 -3.9 0.5 -5 0.5 -4.5 0.5 1.6 0.5 -8.3 0.5 1 0.5 -4.4 0.5 -8.3 0.5 -0.4 0.5 -6.6 0.5 -1.8 0.5 -4.1 0.5 -9.2 0.5 -2 0.5 0.7 0.5 -4.7 0.5 -5.1 0.5 -0.3 0.5 -3.5 0.5 -2.2 0.5 -4.1 0.5 0.8 0.5 -0.9 0.5 -5 0.5 -2.7 0.5 1.7 0.5 -3.7 0.5 0.3 0.5 -2.7 0.5 -5.7 0.5 1.5 0.5 -5 0.5 -1.5 0.5 1.6 0.5 -5.3 0.5 -0.1 0.5 3.5 0.5 -5.6 0.5 1.4 0.5 -1.3 0.5 -2.4 0.5 0.6 0.5 -5.5 0.5 -2.1 0.5 2.2 0.5 -5.1 0.5 -3.4 0.5 -0.5 0.5 -1.5 0.5 -3.6 0.5 -0.7 0.5 -5.3 0.5 0.7 0.5 -1 0.5 -3.6 0.5 -0.4 0.5 -1.7 0.5 -2.7 0.5 -1.3 0.5 2.2 0.5 -4.4 0.5 0.9 0.5 -0.8 0.5 2.8 0.5 -2.7 0.5 -2.2 0.5 0.7 0.5 -2.7 0.5 1.1 0.5 2.3 0.5 -3 0.5 0.2 0.5 3.9 0.5 -4.1 0.5 1.9 0.5 2.8 0.5 -5.7 0.5 2.3 0.5 3.3 0.5 0.8 0.5 0.4 0.5 2.1 0.5 -2.1 0.5 1 0.5 2.2 0.5 6.5 0.5 -3.2 0.5 4.5 0.5 -2.8 0.5 6.3 0.5 0.4 0.5 1.5 0.5 1.9 0.5 -1 0.5 2.5 0.5 1.9 0.5 -4.6 0.5 1.1 0.5 5.8 0.5 0.6 0.5 -0.4 0.5 4.7 0.5 1.9 0.5 0.2 0.5 0.4 0.5 8.3 0.5 -0.5 0.5 -0.6 0.5 7.1 0.5 3.1 0.5 -0.8 0.5 5.3 0.5 -2 0.5 6.5 0.5 4.3 0.5 1.1 0.5 -0.5 0.5 3.4 0.5 4.2 0.5 0.9 0.5 5.9 0.5 0.7 0.5 -0.3 0.5 3.5 0.5 -2.5 0.5 3.3 0.5 -0.4 0.5 3.5 0.5 0.5 0.5 3.4 0.5 0.5 0.5 -0.4 0.5 2 0.5 2.9 0.5 2.7 0.5 -0.6 0.5 2.5 0.5 5.3 0.5 -1.2 0.5 3.1 0.5 2.9 0.5 5.7 0.5 -1.8 0.5 5.1 0.5 5.4 0.5 1.4 0.5 2 0.5 3.5 0.5 1.8 0.5 5.6 0.5 3.7 0.5 1.8 0.5 -1.7 0.5 7.3 0.5 2.4 0.5 0.3 0.5 1.9 0.5 6.8 0.5 -2.6 0.5 6.9 0.5 -0.7 0.5 4.5 0.5 3.7 0.5 4.2 0.5 1.7 0.5 -1.8 0.5 7.9 0.5 3.5 0.5 -3.1 0.5 4.4 0.5 6.5 0.5 0.5 0.5 -0.5 0.5 7.7 0.5 4.3 0.5 -2.2 0.5 7.7 0.5 1.5 0.5 3 0.5 -0.4 0.5 9.4 0.5 3.9 0.5 -1.5 0.5 8.4 0.5 1.1 0.5 1.7 0.5 6.7 0.5 5.4 0.5 1.2 0.5 -0.9 0.5 7.2 0.5 -0.8 0.5 2.7 0.5 0.7 0.5 5.1 0.5 -1.3 0.5 3.1 0.5 2 0.5 -1.3 0.5 2.4 0.5 -3.3 0.5 0.4 0.5 3.9 0.5 0 0.5 2.3 0.5 -3.5 0.5 -0.6 0.5 1.9 0.5 3.5 0.5 -1.7 0.5 -0.9 0.5 1.8 0.5 2.1 0.5 -3.3 0.5 4.5 0.5 -0.9 0.5 3.7 0.5 0.5 0.5 0.9 0.5 -3.3 0.5 4.5 0.5 -1.7 0.5 3.5 0.5 0.3 0.5 3.6 0.5 -0.3 0.5 1.9 0.5 3.8 0.5 1.2 0.5 0.7 0.5 0.7 0.5 -1.4 0.5 -1 0.5 1.3 0.5 4.4 0.5 3.5 0.5 -1.9 0.5 0.7 0.5 3.3 0.5 -2.4 0.5 -0.6 0.5 4.9 0.5 -6 0.5 3.1 0.5 -2.5 0.5 0.2 0.5 4 0.5 -2.1 0.5 -1.2 0.5 -3.3 0.5 4.9 0.5 -3.5 0.5 -2.5 0.5 2.7 0.5 -3.1 0.5 5 0.5 -2.1 0.5 0.3 0.5 1 0.5 0.9 0.5 1 0.5 3.2 0.5 -2.8 0.5 1.9 0.5 1.3 0.5 -1.7 0.5 -2.4 0.5 -2 0.5 -1.9 0.5 -2.1 0.5 -0.7 0.5 1.9 0.5 -4.7 0.5 -3.4 0.5 -1.9 0.5 -0.9 0.5 -2.2 0.5 -3.4 0.5 -1.7 0.5 -1.9 0.5 -3.5 0.5 -3 0.5 -4.3 0.5 -0.8 0.5 -7.3 0.5 1 0.5 -0.6 0.5 -2.6 0.5 -0.4 0.5 -7 0.5 1.7 0.5 -0.7 0.5 -3.9 0.5 -2.3 0.5 -0.1 0.5 1 0.5 -5.3 0.5 2.1 0.5 -1.8 0.5 -2.8 0.5 -1.9 0.5 1 0.5 -6.9 0.5 -2.3 0.5 1.2 0.5 -4.5 0.5 -0.5 0.5 -2.5 0.5 3.7 0.5 -4.3 0.5 -3.1 0.5 -1.1 0.5 -2.2 0.5 -0.2 0.5 -2.5 0.5 3 0.5 -2.9 0.5 -4 0.5 3.8 0.5 -3.5 0.5 -3.6 0.5 3.6 0.5 -1.7 0.5 -2.2 0.5 -2 0.5 0.7 0.5 0 0.5 -4.8 0.5 0 0.5 -5.5 0.5 -5.7 0.5 -0.8 0.5 -3.4 0.5 -7.9 0.5 -2.5 0.5 -3.6 0.5 -3.4 0.5 -0.9 0.5 -1.7 0.5 -2.1 0.5 -3 0.5 -0.4 0.5 -6.5 0.5 2.6 0.5 -3.7 0.5 -6.8 0.5 -2.2 0.5 -1.7 0.5 1.1 0.5 -2.2 0.5 -4 0.5 0.8 0.5 -4.1 0.5 1 0.5 -2.1 0.5 -4.9 0.5 -2.8 0.5 1.8 0.5 -5.1 0.5 1.5 0.5 -0.9 0.5 -4.9 0.5 2.5 0.5 -3.8 0.5 0 0.5 -2.2 0.5 -0.2 0.5 -3 0.5 -1.5 0.5 -2.2 0.5 -4 0.5 1.1 0.5 -5.8 0.5 0.7 0.5 0.8 0.5 -0.8 0.5 -1.2 0.5 -1.7 0.5 0.5 0.5 -0.9 0.5 -4.6 0.5 1 0.5 -4 0.5 2.4 0.5 -2.5 0.5 2.8 0.5 -5.5 0.5 -0.7 0.5 2.3 0.5 -1.3 0.5 -0.3 0.5 -0.9 0.5 -4.2 0.5 2.9 0.5 -1.7 0.5 -2.1 0.5 3.5 0.5 -1.1 0.5 -0.9 0.5 -1.8 0.5 -2 0.5 -1.5 0.5 5 0.5 -3.2 0.5 -0.4 0.5 -1.7 0.5 0.4 0.5 1.1 0.5 -1.5 0.5 2 0.5 -4.2 0.5 -0.7 0.5 4.6 0.5 -4.3 0.5 0.5 0.5 2.8 0.5 -4.6 0.5 3.1 0.5 -1.3 0.5 4 0.5 -2.5 0.5 0 0.5 1.1 0.5 1.3 0.5 -2.9 0.5 -1.5 0.5 3.7 0.5 -0.6 0.5 -1.1 0.5 3.7 0.5 0.5 0.5 2.1 0.5 0.3 0.5 -3.9 0.5 1.8 0.5 3.6 0.5 -2.6 0.5 7.8 0.5 1.6 0.5 0.6 0.5 6.3 0.5 -0.6 0.5 0 0.5 4.6 0.5 1.3 0.5 -4.3 0.5 5.5 0.5 -4.5 0.5 3.9 0.5 -0.6 0.5 3.3 0.5 1.9 0.5 -4.3 0.5 4 0.5 4.4 0.5 -1 0.5 0.5 0.5 3.9 0.5 -1 0.5 2.5 0.5 6.1 0.5 1.6 0.5 1.5 0.5 -3.1 0.5 5.3 0.5 0.3 0.5 2.9 0.5 -0.5 0.5 1.4 0.5 5.8 0.5 0.2 0.5 1.3 0.5 0.9 0.5 0.3 0.5 2.7 0.5 4.6 0.5 1.5 0.5 -3.1 0.5 6.1 0.5 1 0.5 1.6 0.5 -0.3 0.5 5.8 0.5 -0.4 0.5 3.7 0.5 -2.8 0.5 4.8 0.5 0.6 0.5 3.3 0.5 1.7 0.5 3.8 0.5 -0.5 0.5 4.3 0.5 1.4 0.5 4.5 0.5 -0.7 0.5 2.6 0.5 1.3 0.5 6.3 0.5 -3.5 0.5 2.4 0.5 6.2 0.5 -1.4 0.5 4.3 0.5 -2.5 0.5 2.2 0.5 4.7 0.5 -1 0.5 2.2 0.5 2.6 0.5 3.2 0.5 -1.2 0.5 1.1 0.5 3.8 0.5 3.4 0.5 2.5 0.5 0.1 0.5 0.1 0.5 5.5 0.5 -2.3 0.5 4.7 0.5 1.6 0.5 1 0.5 0.5 0.5 -0.6 0.5 3.7 0.5 -2.3 0.5 7.2 0.5 -1.6 0.5 0.6 0.5 3.7 0.5 0 0.5 -3 0.5 4.8 0.5 0.5 0.5 -4.2 0.5 2.2 0.5 0.1 0.5 1.4 0.5 1 0.5 -1.2 0.5 2 0.5 0.1 0.5 -0.5 0.5 -2.8 0.5 1.9 0.5 1.1 0.5 2.5 0.5 -1.8 0.5 -0.3 0.5 -0.8 0.5 4.8 0.5 -1.6 0.5 1.7 0.5 3.1 0.5 -0.7 0.5 -1.9 0.5 1 0.5 3.1 0.5 2.2 0.5 -3.3 0.5 2.3 0.5 -0.7 0.5 0.1 0.5 4.2 0.5 -1.3 0.5 0.5 0.5 3 0.5 -5.3 0.5 1.4 0.5 -1.2 0.5 -0.5 0.5 3 0.5 -1.9 0.5 1.7 0.5 -3.8 0.5 -1 0.5 3.2 0.5 -5 0.5 2.4 0.5 -4 0.5 4.9 0.5 -1 0.5 -5.8 0.5 5.3 0.5 -2.7 0.5 1 0.5 0.8 0.5 -2.4 0.5 0.3 0.5 -0.3 0.5 2.4 0.5 -3.1 0.5 4.7 0.5 0.9 0.5 0.2 0.5 0.2 0.5 -1.4 0.5 2.8 0.5 -1.6 0.5 1.7 0.5 -2.7 0.5 -0.3 0.5 1.9 0.5 -3.8 0.5 3.2 0.5 -1.4 0.5 -3.1 0.5 -3.4 0.5 -0.8 0.5 -2.6 0.5 2.6 0.5 0 0.5 -6.5 0.5 -1.2 0.5 1.7 0.5 3 0.5 -5.3 0.5 -0.3 0.5 1 0.5 -0.8 0.5 -0.7 0.5 1.6 0.5 -3.5 0.5 -0.8 0.5 2 0.5 2.3 0.5 -5.6 0.5 -0.6 0.5 -1 0.5 -1.7 0.5 -0.7 0.5 0.7 0.5 -0.8 0.5 1.3 0.5 -3.4 0.5 4 0.5 -2.9 0.5 0.6 0.5 -5.1 0.5 3.6 0.5 -3.4 0.5 -1.3 0.5 2.6 0.5 -3.6 0.5 -1.8 0.5 -0.2 0.5 0.4 0.5 -2.9 0.5 0.8 0.5 -2 0.5 -2.4 0.5 -1.8 0.5 3.9 0.5 -0.7 0.5 -5.2 0.5 2 0.5 -3.4 0.5 -1.7 0.5 -1.5 0.5 -0.7 0.5 -0.7 0.5 -2.2 0.5 3.9 0.5 -3 0.5 -1.9 0.5 1.1 0.5 0.2 0.5 1.7 0.5 -3.9 0.5 2.1 0.5 1.5 0.5 0.1 0.5 -4.4 0.5 1.2 0.5 1.9 0.5 -2.8 0.5 1.6 0.5 -3.1 0.5 -0.2 0.5 -2.3 0.5 2.4 0.5 -3.7 0.5 -3.2 0.5 -1 0.5 -2.6 0.5 -0.7 0.5 1.9 0.5 -1.7 0.5 -1.6 0.5 -1 0.5 0 0.5 -5.3 0.5 1.6 0.5 1.4 0.5 0.6 0.5 -2.5 0.5 -3.5 0.5 0.9 0.5 -1.4 0.5 3.3 0.5 -0.1 0.5 -3 0.5 -2.8 0.5 5.6 0.5 -0.5 0.5 0.3 0.5 -1 0.5 2 0.5 -4.1 0.5 -0.3 0.5 5.3 0.5 0.9 0.5 -2.5 0.5 3.3 0.5 -2.1 0.5 1.6 0.5 6.4 0.5 0.5 0.5 -3.3 0.5 4.1 0.5 1.5 0.5 -0.2 0.5 0.8 0.5 2.2 0.5 -3.2 0.5 7 0.5 -1.3 0.5 0.1 0.5 -0.4 0.5 0.8 0.5 3.1 0.5 -1.9 0.5 4.1 0.5 -3.1 0.5 2.9 0.5 0.3 0.5 -0.8 0.5 5.4 0.5 2.4 0.5 -2.1 0.5 0.3 0.5 4.1 0.5 -2 0.5 6.3 0.5 -0.7 0.5 2.8 0.5 -0.6 0.5 3.3 0.5 2.1 0.5 2.1 0.5 3 0.5 -0.3 0.5 2 0.5 2 0.5 -0.3 0.5 4.2 0.5 5.5 0.5 0.2 0.5 -0.1 0.5 4.5 0.5 -1.9 0.5 2.4 0.5 0.6 0.5 2 0.5 -0.6 0.5 3.8 0.5 -1.8 0.5 2.9 0.5 2.9 0.5 1.8 0.5 -0.5 0.5 -0.8 0.5 0.2 0.5 1.9 0.5 1.6 0.5 4.3 0.5 2.8 0.5 -1.5 0.5 5.3 0.5 6 0.5 4.2 0.5 1.3 0.5 8 0.5 7.5 0.5 4.5 0.5 0.8 0.5 8.1 0.5 4.5 0.5 2.9 0.5 2.6 0.5 -2 0.5 4.6 0.5 4.2 0.5 3.9 0.5 2.5 0.5 0.2 0.5 2.7 0.5 5.7 0.5 1.6 0.5 5.7 0.5 7.7 0.5 1.2 0.5 7.9 0.5 -1.8 0.5 2.2 0.5 2.9 0.5 3 0.5 -2.1 0.5 5.5 0.5 -1.5 0.5 -2.5 0.5 1.8 0.5 4.9 0.5 -3.8 0.5 0.4 0.5 3 0.5 0.7 0.5 3.7 0.5 4.6 0.5 4.9 0.5 0.2 0.5 2.6 0.5 -1.5 0.5 2.5 0.5 3.1 0.5 -0.2 0.5 3.9 0.5 -2.4 0.5 4.1 0.5 -3.7 0.5 3.7 0.5 1.3 0.5 2 0.5 -4.3 0.5 3.8 0.5 3.5 0.5 -0.9 0.5 5.3 0.5 1.9 0.5 -1.3 0.5 3.6 0.5 1.3 0.5 5 0.5 -3.4 0.5 4.5 0.5 -4.6 0.5 -0.1 0.5 3.9 0.5 -4.4 0.5 1.3 0.5 1.1 0.5 -6.1 0.5 0.1 0.5 0.9 0.5 -2.5 0.5 -1.2 0.5 -4 0.5 1 0.5 0.7 0.5 -3.4 0.5 -0.7 0.5 -1.1 0.5 -3.8 0.5 -0.7 0.5 -2.9 0.5 -2.5 0.5 -3.3 0.5 3 0.5 -5.7 0.5 0.1 0.5 -5.7 0.5 -0.3 0.5 -1.9 0.5 -3 0.5 -4.2 0.5 0.5 0.5 -8 0.5 1.3 0.5 -6.5 0.5 0 0.5 -5.7 0.5 -2.2 0.5 2.8 0.5 -3.8 0.5 -7.2 0.5 -2.4 0.5 -2.5 0.5 2.3 0.5 -4.7 0.5 0.1 0.5 -3.5 0.5 -0.7 0.5 -5.8 0.5 2.2 0.5 -4.1 0.5 0.8 0.5 -4.3 0.5 -0.3 0.5 1.7 0.5 -6 0.5 -0.8 0.5 -0.5 0.5 -1.8 0.5 2.5 0.5 -1.1 0.5 -1.8 0.5 -4.1 0.5 -0.3 0.5 -1.9 0.5 -1.2 0.5 -2 0.5 0.2 0.5 -3.5 0.5 -5.7 0.5 2.9 0.5 -3.1 0.5 -0.3 0.5 -4.7 0.5 -2.5 0.5 0.3 0.5 -3.3 0.5 1 0.5 -1.6 0.5 -0.4 0.5 -5.7 0.5 3.8 0.5 -5.6 0.5 1.1 0.5 -1.8 0.5 2.1 0.5 -2.8 0.5 -1 0.5 -6.1 0.5 -0.8 0.5 -0.3 0.5 -3.1 0.5 -4.7 0.5 -3.7 0.5 -4.4 0.5 -0.7 0.5 0.2 0.5 -2.4 0.5 -0.3 0.5 -1.9 0.5 -3.6 0.5 0.2 0.5 1.2 0.5 2.9 0.5 -2.8 0.5 2.8 0.5 -3.1 0.5 1.5 0.5 -0.3 0.5 -4.7 0.5 2.4 0.5 0.5 0.5 2.3 0.5 -1.7 0.5 -4.4 0.5 -0.6 0.5 0.2 0.5 -1.8 0.5 -1 0.5 0.4 0.5 -4.1 0.5 1.9 0.5 -2.7 0.5 -0.5 0.5 5.3 0.5 -5.1 0.5 3.8 0.5 0.9 0.5 -4.4 0.5 0.2 0.5 -0.2 0.5 5.6 0.5 -2.3 0.5 -1.7 0.5 5.6 0.5 -2 0.5 2 0.5 -4.8 0.5 3.3 0.5 1.1 0.5 -1.9 0.5 0.2 0.5 -2.8 0.5 0.9 0.5 0.1 0.5 0.8 0.5 -3.2 0.5 -0.2 0.5 2.4 0.5 1.8 0.5 -5.4 0.5 0.9 0.5 -1 0.5 0.9 0.5 -2.3 0.5 -0.9 0.5 -3.5 0.5 -0.7 0.5 2.3 0.5 -2.4 0.5 1.1 0.5 -1 0.5 4.2 0.5 -3 0.5 2.5 0.5 0 0.5 1 0.5 -2.2 0.5 -0.1 0.5 5.2 0.5 -1.7 0.5 2.1 0.5 -1 0.5 -1.9 0.5 1.3 0.5 0.9 0.5 0.1 0.5 5.4 0.5 2.8 0.5 -2.1 0.5 5.1 0.5 -4 0.5 3.1 0.5 3.1 0.5 1.8 0.5 -2.6 0.5 6.7 0.5 1.8 0.5 -3.1 0.5 1.2 0.5 3.3 0.5 -0.3 0.5 1.6 0.5 2.9 0.5 -1.1 0.5 -3.2 0.5 1.2 0.5 2.7 0.5 -0.6 0.5 -5.2 0.5 -2.8 0.5 3.2 0.5 -4.8 0.5 -1 0.5 0.5 0.5 -2.5 0.5 4 0.5 1.9 0.5 -2.5 0.5 3.2 0.5 -2.5 0.5 2.3 0.5 -0.8 0.5 -0.3 0.5 0.6 0.5 -0.4 0.5 -3.6 0.5 2.3 0.5 -1.5 0.5 -3.8 0.5 -0.4 0.5 -2.1 0.5 -1.7 0.5 5.4 0.5 -0.1 0.5 -2.9 0.5 2.4 0.5 -2 0.5 2.8 0.5 -2.3 0.5 1.5 0.5 -2.1 0.5 -0.1 0.5 0.3 0.5 1.2 0.5 -4.6 0.5 3.7 0.5 0 0.5 1.8 0.5 -4.3 0.5 1.8 0.5 -2.4 0.5 0.9 0.5 -4.4 0.5 4.5 0.5 -4.9 0.5 0.9 0.5 -3 0.5 4 0.5 -2.5 0.5 -0.1 0.5 -1.7 0.5 -0.2 0.5 -2.6 0.5 -4.8 0.5 -1.3 0.5 3.1 0.5 -4.2 0.5 1.4 0.5 -3.1 0.5 1.4 0.5 -4.5 0.5 -2.9 0.5 3.7 0.5 -4.5 0.5 -0.6 0.5 1.2 0.5 -4.6 0.5 3.3 0.5 -7 0.5 3.5 0.5 -0.6 0.5 -2.5 0.5 -3.9 0.5 -1.5 0.5 3.4 0.5 -1.2 0.5 -0.7 0.5 0.1 0.5 -3.6 0.5 1 0.5 -0.9 0.5 -3.6 0.5 0.3 0.5 -4.8 0.5 4.7 0.5 -3.6 0.5 -0.4 0.5 1 0.5 0.9 0.5 -3.8 0.5 2.9 0.5 0.3 0.5 -3.1 0.5 0.1 0.5 2.5 0.5 -3.7 0.5 2.8 0.5 0.2 0.5 -3.8 0.5 -0.7 0.5 -1.1 0.5 0 0.5 4.4 0.5 -3.7 0.5 0.1 0.5 2.7 0.5 -2.2 0.5 0.4 0.5 4.7 0.5 0.9 0.5 -0.9 0.5 0.6 0.5 -2.2 0.5 0.2 0.5 3.5 0.5 -1.1 0.5 -0.2 0.5 3.3 0.5 5.5 0.5 0.9 0.5 5.6 0.5 -1.3 0.5 0.2 0.5 2.2 0.5 0.9 0.5 1.5 0.5 5.8 0.5 -1.5 0.5 -0.8 0.5 -1.5 0.5 4.7 0.5 -0.6 0.5 -1.9 0.5 1.9 0.5 2.9 0.5 1.5 0.5 0.9 0.5 -1.2 0.5 0.8 0.5 0.8 0.5 -1.2 0.5 3.3 0.5 5 0.5 -1.5 0.5 3.5 0.5 3.7 0.5 0.3 0.5 -1.4 0.5 1.1 0.5 5.9 0.5 -2.9 0.5 5.1 0.5 1.5 0.5 1.6 0.5 0.3 0.5 6.3 0.5 0.7 0.5 -0.5 0.5 0.1 0.5 3.1 0.5 -1.1 0.5 2 0.5 1.2 0.5 0.3 0.5 3.3 0.5 -1.7 0.5 0.4 0.5 0.8 0.5 6.3 0.5 -4.1 0.5 6.9 0.5 1 0.5 -1.6 0.5 3.4 0.5 -4.4 0.5 5.7 0.5 -0.1 0.5 1.8 0.5 3.6 0.5 -4.1 0.5 2.1 0.5 3.5 0.5 -2.1 0.5 5.8 0.5 -4 0.5 2.2 0.5 2.6 0.5 1 0.5 -0.6 0.5 0.3 0.5 -2.6 0.5 -0.3 0.5 0.9 0.5 -2.6 0.5 2.2 0.5 -0.1 0.5 -1.7 0.5 -1.2 0.5 -0.5 0.5 1.5 0.5 0.9 0.5 2.6 0.5 -5.3 0.5 -1.4 0.5 1.3 0.5 0.6 0.5 0.2 0.5 -2.4 0.5 2.8 0.5 -5.4 0.5 -0.7 0.5 -1.6 0.5 2.6 0.5 -5.2 0.5 -3 0.5 -4 0.5 0.3 0.5 1.4 0.5 -0.8 0.5 -0.3 0.5 -5.8 0.5 -1.8 0.5 0.1 0.5 -1.3 0.5 4.5 0.5 -4.3 0.5 2.9 0.5 -4.2 0.5 -2 0.5 0.2 0.5 1.5 0.5 1.4 0.5 -3.1 0.5 0 0.5 -3 0.5 1.4 0.5 -1.5 0.5 -0.3 0.5 -1.9 0.5 -1.9 0.5 -0.1 0.5 -0.5 0.5 -2.3 0.5 -4.7 0.5 1.5 0.5 2.7 0.5 -2.6 0.5 -2.6 0.5 2.2 0.5 -4.4 0.5 -0.8 0.5 -0.3 0.5 -0.3 0.5 -1.8 0.5 -2.8 0.5 0.2 0.5 -2.6 0.5 0.6 0.5 -1.9 0.5 -4.1 0.5 2.2 0.5 1 0.5 -3 0.5 -4.4 0.5 2.1 0.5 -3.5 0.5 0.6 0.5 -2.5 0.5 3.9 0.5 -1.8 0.5 -2.2 0.5 -2.7 0.5 -2.2 0.5 2.8 0.5 -3.9 0.5 3.2 0.5 -1.2 0.5 -5.6 0.5 4.2 0.5 -1.3 0.5 -7.1 0.5 1.4 0.5 -2.8 0.5 0.9 0.5 0.2 0.5 -4.8 0.5 -2.1 0.5 1.1 0.5 -2 0.5 2.4 0.5 -3.4 0.5 1.4 0.5 -3.6 0.5 0.6 0.5 2.8 0.5 0.1 0.5 -1.9 0.5 0.3 0.5 -3 0.5 4 0.5 0.6 0.5 -1.6 0.5 3.8 0.5 -3.1 0.5 3.4 0.5 -2.1 0.5 5.6 0.5 -2.2 0.5 4.1 0.5 -2.9 0.5 2.3 0.5 -1.6 0.5 -2.8 0.5 1.6 0.5 1.7 0.5 1.1 0.5 -5 0.5 2.6 0.5 1.5 0.5 -3.7 0.5 0.7 0.5 -0.4 0.5 2.8 0.5 -2.4 0.5 5.1 0.5 1.3 0.5 0.3 0.5 5 0.5 -1.9 0.5 0 0.5 6.1 0.5 2 0.5 1.4 0.5 -4.9 0.5 -0.9 0.5 3.3 0.5 -1.4 0.5 -1.3 0.5 2.5 0.5 -1.3 0.5 0.2 0.5 1.5 0.5 -0.7 0.5 -4.7 0.5 -0.9 0.5 3.7 0.5 -3.8 0.5 1.9 0.5 5.4 0.5 -2.3 0.5 3.5 0.5 0.9 0.5 -2.1 0.5 5.4 0.5 1.4 0.5 -3.4 0.5 7.2 0.5 -4.5 0.5 3.2 0.5 0.9 0.5 0.7 0.5 4.2 0.5 -4.4 0.5 4.9 0.5 1.3 0.5 -3.9 0.5 -0.3 0.5 2.4 0.5 -0.5 0.5 1.1 0.5 5.8 0.5 -4.4 0.5 2.2 0.5 -0.5 0.5 1.1 0.5 3.4 0.5 3.1 0.5 0.4 0.5 -4.3 0.5 4.9 0.5 0.7 0.5 -3.6 0.5 0.2 0.5 1.2 0.5 2.8 0.5 1.4 0.5 -3 0.5 -0.9 0.5 -0.4 0.5 0.5 0.5 -1.4 0.5 2.8 0.5 -1 0.5 -1.5 0.5 2.4 0.5 0.5 0.5 -3.5 0.5 1.4 0.5 1.6 0.5 1 0.5 -4.2 0.5 0.5 0.5 4.5 0.5 0.1 0.5 -3.3 0.5 1.3 0.5 1.9 0.5 -1.1 0.5 1.8 0.5 -3.6 0.5 1.4 0.5 -0.7 0.5 3.2 0.5 -3.4 0.5 2.4 0.5 -2 0.5 -1.8 0.5 2.7 0.5 -3.4 0.5 -1.1 0.5 3.6 0.5 -1.1 0.5 -5 0.5 -1.4 0.5 0.2 0.5 -1 0.5 -0.9 0.5 -2.3 0.5 3.7 0.5 -2.3 0.5 4.9 0.5 1.9 0.5 -2.7 0.5 3.7 0.5 2.1 0.5 -1.8 0.5 5.5 0.5 -3.1 0.5 0.3 0.5 -1.1 0.5 0 0.5 -2.2 0.5 5.3 0.5 -0.6 0.5 -0.8 0.5 1.3 0.5 -0.9 0.5 -1.7 0.5 -3.9 0.5 5.9 0.5 -1.2 0.5 -1.7 0.5 -0.4 0.5 0.4 0.5 0.1 0.5 -1.7 0.5 -1.9 0.5 -2.4 0.5 1.2 0.5 -2.8 0.5 1.1 0.5 2.3 0.5 -1.3 0.5 -2.5 0.5 0.4 0.5 -2.5 0.5 0.1 0.5 1.4 0.5 -0.4 0.5 -5.3 0.5 2 0.5 -3.8 0.5 -0.9 0.5 -1.7 0.5 -2.6 0.5 -0.4 0.5 3.5 0.5 -2.3 0.5 -2.6 0.5 5.6 0.5 -0.8 0.5 0.6 0.5 -0.5 0.5 1.3 0.5 -2 0.5 1.1 0.5 4 0.5 0.9 0.5 -1 0.5 3.4 0.5 -3 0.5 0.5 0.5 0.3 0.5 6.5 0.5 -1.7 0.5 1.3 0.5 1.3 0.5 -2.6 0.5 5.5 0.5 1.2 0.5 -4.3 0.5 0.3 0.5 4.2 0.5 -1.9 0.5 -1.8 0.5 5.1 0.5 -0.7 0.5 -2.8 0.5 1.8 0.5 0.9 0.5 -2.3 0.5 1.6 0.5 -1.4 0.5 3 0.5 -4.1 0.5 1.3 0.5 -2.6 0.5 3.4 0.5 -3.7 0.5 1.4 0.5 2.1 0.5 -1.9 0.5 -1.8 0.5 0.4 0.5 -2.9 0.5 0.4 0.5 3.8 0.5 -5.4 0.5 3.8 0.5 -0.5 0.5 -1 0.5 0.6 0.5 -4.5 0.5 1.2 0.5 -0.3 0.5 -1.1 0.5 -0.2 0.5 0.4 0.5 3.9 0.5 -3.8 0.5 2.6 0.5 -0.3 0.5 -0.2 0.5 -1.6 0.5 0.3 0.5 -1.6 0.5 5.2 0.5 -2.5 0.5 3 0.5 1.9 0.5 -1.1 0.5 -0.4 0.5 4.3 0.5 -4 0.5 5.1 0.5 -2.2 0.5 3.4 0.5 -2.2 0.5 5.3 0.5 -1.6 0.5 -1.2 0.5 5.7 0.5 -1.7 0.5 -0.3 0.5 6 0.5 -3.6 0.5 2.1 0.5 1.3 0.5 2.7 0.5 5.1 0.5 -4.5 0.5 7 0.5 -3.4 0.5 1.8 0.5 3.2 0.5 1 0.5 -4.1 0.5 3.7 0.5 -1.8 0.5 -3 0.5 4.7 0.5 -5.2 0.5 0 0.5 -1.5 0.5 -5.1 0.5 -1.6 0.5 -1.1 0.5 1.7 0.5 -1.4 0.5 -2.3 0.5 -3 0.5 -1.1 0.5 -0.5 0.5 -0.5 0.5 -0.3 0.5 -1.1 0.5 -1.1 0.5 1.9 0.5 0.2 0.5 -0.7 0.5 -5.2 0.5 2.1 0.5 -3.3 0.5 3.8 0.5 -3.1 0.5 -3.8 0.5 4.4 0.5 -1.7 0.5 -4.2 0.5 4.1 0.5 -5.9 0.5 4.8 0.5 0.2 0.5 -4.1 0.5 0.6 0.5 -1.6 0.5 0.3 0.5 2.1 0.5 -0.4 0.5 -2.6 0.5 2.7 0.5 -3.3 0.5 3.1 0.5 -2.8 0.5 3.5 0.5 -3.5 0.5 1.7 0.5 -1.9 0.5 -0.6 0.5 2.4 0.5 -2 0.5 0.6 0.5 1.7 0.5 2.7 0.5 -2.3 0.5 -1.7 0.5 2.8 0.5 0.3 0.5 -0.6 0.5 1.2 0.5 1.7 0.5 1 0.5 1.4 0.5 2.8 0.5 0.7 0.5 -1.2 0.5 -1.7 0.5 -2.2 0.5 2.5 0.5 -1.3 0.5 1.9 0.5 -2.9 0.5 2.3 0.5 -2.3 0.5 -0.8 0.5 -1 0.5 2.4 0.5 -2.6 0.5 0.3 0.5 0.3 0.5 -0.9 0.5 -1.1 0.5 0.5 0.5 3.4 0.5 -2.6 0.5 0.9 0.5 -0.6 0.5 -1.5 0.5 -1.1 0.5 0.7 0.5 -5.9 0.5 0.6 0.5 -2.7 0.5 2.3 0.5 2.3 0.5 -2.3 0.5 2.1 0.5 -1.5 0.5 -3.7 0.5 0.4 0.5 3.8 0.5 2 0.5 -5 0.5 5.2 0.5 -1.3 0.5 -3.3 0.5 1.4 0.5 3.8 0.5 0.5 0.5 -0.1 0.5 3 0.5 0.5 0.5 2.8 0.5 -1.5 0.5 2.2 0.5 0.9 0.5 0.7 0.5 1.6 0.5 -0.4 0.5 5.9 0.5 -1.3 0.5 3 0.5 -4.4 0.5 3.8 0.5 -0.4 0.5 3.7 0.5 -4.9 0.5 4.4 0.5 0 0.5 -2.4 0.5 3.1 0.5 -0.8 0.5 0.4 0.5 -1.3 0.5 5.3 0.5 -3.7 0.5 4.8 0.5 -4.8 0.5 4.8 0.5 0.3 0.5 -3.5 0.5 1.8 0.5 -4.6 0.5 -1.6 0.5 2.9 0.5 -2.2 0.5 0.7 0.5 -3.1 0.5 1.6 0.5 -4.7 0.5 -1.1 0.5 1.3 0.5 0.5 0.5 -5 0.5 -1.3 0.5 2.7 0.5 -4.4 0.5 -1.8 0.5 1.6 0.5 -2.6 0.5 -1.8 0.5 2.7 0.5 -1.7 0.5 -2.1 0.5 0.9 0.5 0.4 0.5 -2 0.5 3.3 0.5 -4.3 0.5 2 0.5 -1.1 0.5 3.5 0.5 -5.4 0.5 -0.4 0.5 1.5 0.5 3.9 0.5 -3.2 0.5 2.5 0.5 -5.3 0.5 5.5 0.5 0.7 0.5 3 0.5 -3.5 0.5 1.1 0.5 7.2 0.5 1.4 0.5 -1.1 0.5 3.7 0.5 0.4 0.5 -1.1 0.5 -0.7 0.5 -3.1 0.5 3.6 0.5 -0.3 0.5 -1.9 0.5 -0.1 0.5 -3 0.5 -2.8 0.5 3.4 0.5 -6.6 0.5 0.1 0.5 -1.2 0.5 1.8 0.5 -1.7 0.5 0.1 0.5 -1.5 0.5 0.2 0.5 -4 0.5 0.9 0.5 0.2 0.5 -0.5 0.5 -1.9 0.5 -3.2 0.5 3.6 0.5 -1.8 0.5 2.8 0.5 -4.1 0.5 2 0.5 -4.1 0.5 4.2 0.5 -3.9 0.5 3.7 0.5 0.2 0.5 0.7 0.5 -1.2 0.5 -0.1 0.5 -2.3 0.5 0.9 0.5 3.5 0.5 0.7 0.5 -4.5 0.5 0.6 0.5 -2.5 0.5 -0.9 0.5 2.3 0.5 -0.7 0.5 -2.3 0.5 0.6 0.5 -6.5 0.5 5 0.5 -5.9 0.5 -1 0.5 0.2 0.5 0.8 0.5 1.8 0.5 -3.3 0.5 5.5 0.5 -3 0.5 3.6 0.5 -1.6 0.5 -2.8 0.5 -0.2 0.5 4.1 0.5 -1.3 0.5 -2.8 0.5 1.4 0.5 -0.6 0.5 3.3 0.5 2.3 0.5 -3.1 0.5 -1.9 0.5 6.1 0.5 -0.5 0.5 -5 0.5 1.4 0.5 0.3 0.5 3.3 0.5 -6.8 0.5 5.3 0.5 -3.3 0.5 -2.4 0.5 -1 0.5 0.6 0.5 -3.2 0.5 -1 0.5 2.3 0.5 -3.9 0.5 2.3 0.5 -3.6 0.5 1.6 0.5 -4.7 0.5 3.1 0.5 -0.8 0.5 2.2 0.5 -0.9 0.5 0.5 0.5 -2.8 0.5 4.9 0.5 0.2 0.5 -1.5 0.5 1.2 0.5 -2.1 0.5 0.4 0.5 2 0.5 -0.5 0.5 -1.8 0.5 5 0.5 -0.7 0.5 -2.9 0.5 5.2 0.5 -1.6 0.5 0.2 0.5 3.4 0.5 -4.1 0.5 0.8 0.5 6.5 0.5 -4.7 0.5 2.7 0.5 3.9 0.5 -3.9 0.5 4 0.5 -4.9 0.5 4.7 0.5 -5.5 0.5 3.2 0.5 2.8 0.5 -1 0.5 -0.5 0.5 -1.2 0.5 2.1 0.5 -0.3 0.5 -3.4 0.5 3.6 0.5 0.5 0.5 -1 0.5 -2.8 0.5 1.1 0.5 -0.5 0.5 2.4 0.5 2 0.5 4.7 0.5 1.8 0.5 -1.4 0.5 6.1 0.5 1.1 0.5 -1.1 0.5 2.2 0.5 -2.6 0.5 0.8 0.5 0.9 0.5 3.6 0.5 -3.5 0.5 0.8 0.5 1.7 0.5 -0.5 0.5 -1.4 0.5 2.1 0.5 2.8 0.5 -3.4 0.5 1.8 0.5 -0.9 0.5 -5.1 0.5 1.5 0.5 -1 0.5 1.9 0.5 -1 0.5 -0.7 0.5 1.6 0.5 -5 0.5 0.1 0.5 2.7 0.5 1.4 0.5 0.5 0.5 1.7 0.5 -3.8 0.5 0 0.5 2.1 0.5 2.7 0.5 -2 0.5 3.3 0.5 -0.7 0.5 -1.2 0.5 2.1 0.5 -0.2 0.5 3 0.5 0.3 0.5 -3.1 0.5 0.5 0.5 4.5 0.5 0.3 0.5 0.4 0.5 -2.8 0.5 -1.4 0.5 2.8 0.5 2.7 0.5 -2.4 0.5 0.7 0.5 -4.2 0.5 2.5 0.5 -1.3 0.5 -0.5 0.5 1.1 0.5 0.6 0.5 1.4 0.5 0.9 0.5 -0.3 0.5 -1.1 0.5 -1.2 0.5 2.1 0.5 2.6 0.5 -0.1 0.5 0 0.5 -0.2 0.5 -2 0.5 -0.3 0.5 -1.9 0.5 3.5 0.5 -0.9 0.5 -1 0.5 -1.9 0.5 1 0.5 3.5 0.5 -0.8 0.5 1.9 0.5 -4 0.5 3.9 0.5 1.6 0.5 -5.1 0.5 6.5 0.5 -5.5 0.5 4.7 0.5 -0.9 0.5 -0.9 0.5 0.7 0.5 -1.6 0.5 5.1 0.5 -4.3 0.5 6.4 0.5 0.4 0.5 -0.6 0.5 -4.1 0.5 3.5 0.5 1.7 0.5 -2 0.5 0.7 0.5 3.1 0.5 -4.2 0.5 3 0.5 3.8 0.5 0.6 0.5 1.7 0.5 0.4 0.5 -3.4 0.5 5.3 0.5 -3.8 0.5 2.5 0.5 0.6 0.5 1.1 0.5 0.2 0.5 -2.1 0.5 4.5 0.5 -4.4 0.5 3.9 0.5 -4.6 0.5 5.7 0.5 -0.3 0.5 -4.2 0.5 1.4 0.5 -1 0.5 2.3 0.5 -4.9 0.5 -2.2 0.5 1.2 0.5 -1.5 0.5 -1.1 0.5 2.5 0.5 -3.2 0.5 -2.3 0.5 -0.3 0.5 3.7 0.5 -3.1 0.5 -2.1 0.5 1.6 0.5 -2.7 0.5 2.1 0.5 -1.8 0.5 0.6 0.5 3.3 0.5 -2.9 0.5 1.6 0.5 -2.6 0.5 -0.8 0.5 0.9 0.5 -0.8 0.5 2 0.5 1.2 0.5 -2.5 0.5 3 0.5 -1 0.5 2.1 0.5 0.1 0.5 1.6 0.5 -1.2 0.5 -3.7 0.5 2.1 0.5 0.7 0.5 3.4 0.5 0.2 0.5 -4 0.5 4.6 0.5 -3.1 0.5 1.5 0.5 -0.4 0.5 -2.1 0.5 0 0.5 -1.6 0.5 0.3 0.5 -0.2 0.5 -2.9 0.5 0.8 0.5 -3.5 0.5 -3.8 0.5 2.6 0.5 -2.4 0.5 2.2 0.5 -3.1 0.5 2.3 0.5 -2.9 0.5 3 0.5 -0.1 0.5 0.8 0.5 -4 0.5 3 0.5 2.1 0.5 -1.7 0.5 -0.8 0.5 3.3 0.5 -0.1 0.5 -1 0.5 3 0.5 -0.6 0.5 2.4 0.5 -1.7 0.5 2.4 0.5 -0.8 0.5 -1.3 0.5 -2.3 0.5 5.1 0.5 -1.6 0.5 2.9 0.5 0.4 0.5 -0.1 0.5 -1.6 0.5 0.7 0.5 0.3 0.5 -1.2 0.5 -0.1 0.5 3.9 0.5 -6 0.5 5.9 0.5 -4.3 0.5 0 0.5 4.5 0.5 -4.6 0.5 4.2 0.5 -2.5 0.5 4 0.5 -1.8 0.5 -2.1 0.5 2.2 0.5 0.9 0.5 0.7 0.5 -6 0.5 4.7 0.5 -2.1 0.5 -5.6 0.5 0.5 0.5 -2.3 0.5 -1.1 0.5 -3.6 0.5 3.7 0.5 -1.4 0.5 -0.6 0.5 2.7 0.5 -3.5 0.5 1.4 0.5 1 0.5 0.4 0.5 -1.3 0.5 2.1 0.5 -0.7 0.5 2.2 0.5 -2.1 0.5 0.7 0.5 1 0.5 -2.6 0.5 2.2 0.5 1.7 0.5 -1.8 0.5 -2 0.5 -3.2 0.5 2.1 0.5 -1.7 0.5 -0.8 0.5 1.9 0.5 1.4 0.5 -2.8 0.5 -1.8 0.5 3.7 0.5 -0.8 0.5 3.3 0.5 0 0.5 -2 0.5 3.3 0.5 -1.6 0.5 1.2 0.5 -4.2 0.5 1 0.5 3.3 0.5 -5.9 0.5 3.6 0.5 0.9 0.5 -1.1 0.5 -5.1 0.5 -0.9 0.5 0.7 0.5 -2.9 0.5 2.8 0.5 -0.4 0.5 -0.5 0.5 0.2 0.5 -3.9 0.5 -2.7 0.5 0.2 0.5 3.3 0.5 -5.2 0.5 -1.1 0.5 2.8 0.5 -1.4 0.5 1.1 0.5 -1.4 0.5 -0.2 0.5 -0.4 0.5 -6.1 0.5 5.8 0.5 -4.4 0.5 -0.9 0.5 5.4 0.5 -3.6 0.5 -0.7 0.5 2.9 0.5 2 0.5 -2.9 0.5 3.7 0.5 0.9 0.5 -2.6 0.5 -1.8 0.5 0.6 0.5 -0.5 0.5 2 0.5 -0.1 0.5 -0.5 0.5 0.9 0.5 -0.8 0.5 4 0.5 0.5 0.5 -2.9 0.5 -1.9 0.5 1.2 0.5 2.5 0.5 2 0.5 -1.4 0.5 -4.4 0.5 1.8 0.5 -2 0.5 3 0.5 -1.3 0.5 0.1 0.5 -1.3 0.5 -1.6 0.5 4.1 0.5 -3.1 0.5 -2.1 0.5 0.6 0.5 -1.2 0.5 5 0.5 -4.6 0.5 4.9 0.5 0.2 0.5 -5.5 0.5 4.3 0.5 -3.7 0.5 3.2 0.5 1.6 0.5 -3.1 0.5 -1.5 0.5 2.8 0.5 -0.3 0.5 -2.4 0.5 1.8 0.5 -0.1 0.5 -0.7 0.5 -0.4 0.5 3.5 0.5 -1.6 0.5 -1.5 0.5 1.1 0.5 0.4 0.5 1.6 0.5 -2.8 0.5 2.1 0.5 -4.4 0.5 3.5 0.5 -0.5 0.5 -5 0.5 3.5 0.5 -4.1 0.5 4.8 0.5 -2.8 0.5 -2.9 0.5 3.5 0.5 -3.1 0.5 -1.4 0.5 3.2 0.5 1.6 0.5 -0.3 0.5 0.7 0.5 -0.4 0.5 -1.8 0.5 -0.9 0.5 0.9 0.5 3.4 0.5 -5 0.5 0.4 0.5 5.4 0.5 -5.9 0.5 3.5 0.5 2 0.5 -2.8 0.5 1 0.5 -5.3 0.5 3.7 0.5 -1.7 0.5 -0.8 0.5 -3.1 0.5 1.3 0.5 0.1 0.5 -0.2 0.5 -5.6 0.5 4.7 0.5 -1.5 0.5 -1.2 0.5 1.2 0.5 0.1 0.5 -1.3 0.5 2.1 0.5 0.1 0.5 -0.5 0.5 -3.8 0.5 1 0.5 3.5 0.5 -2.2 0.5 -2.4 0.5 4.3 0.5 -3.5 0.5 5.6 0.5 -1.1 0.5 2.8 0.5 -3.2 0.5 4.6 0.5 -2.7 0.5 -0.6 0.5 5.3 0.5 2.1 0.5 0.6 0.5 -4.3 0.5 3.1 0.5 1.2 0.5 -1.8 0.5 3.1 0.5 -1.8 0.5 3.5 0.5 -1.6 0.5 -0.6 0.5 0.8 0.5 -0.4 0.5 0.7 0.5 1.5 0.5 -2.4 0.5 -1.9 0.5 4.2 0.5 -1.5 0.5 2.6 0.5 -5.6 0.5 4.6 0.5 -3.2 0.5 3.1 0.5 -3.5 0.5 -1.4 0.5 3.2 0.5 -2.9 0.5 3.6 0.5 -1.6 0.5 1.9 0.5 -1.1 0.5 -1.3 0.5 1 0.5 -3.3 0.5 0.5 0.5 1.4 0.5 2 0.5 2.9 0.5 -5.3 0.5 2.1 0.5 -0.7 0.5 5.2 0.5 1 0.5 -1.7 0.5 -1.8 0.5 4.1 0.5 -3 0.5 2 0.5 1.2 0.5 -3.1 0.5 -1.2 0.5 -1.6 0.5 4.5 0.5 -6.6 0.5 4.1 0.5 -0.2 0.5 -4.5 0.5 -2.9 0.5 2.4 0.5 -4.1 0.5 0.8 0.5 -1.2 0.5 2.3 0.5 0.4 0.5 0.2 0.5 0.8 0.5 3.4 0.5 -1.3 0.5 2.3 0.5 1.9 0.5 1.9 0.5 2.9 0.5 -1.3 0.5 5.3 0.5 -5.5 0.5 5.3 0.5 -1.2 0.5 -2.1 0.5 -0.7 0.5 1.1 0.5 -3.7 0.5 2.5 0.5 -3.2 0.5 1.6 0.5 -2.7 0.5 2 0.5 -3.2 0.5 -0.7 0.5 -3.5 0.5 4.1 0.5 -6.8 0.5 -1.1 0.5 1.4 0.5 3.4 0.5 -5.2 0.5 -1.5 0.5 1.3 0.5 2.6 0.5 -0.1 0.5 -4.6 0.5 2.2 0.5 0.4 0.5 -1.1 0.5 0.5 0.5 1.9 0.5 1.3 0.5 2.2 0.5 1.1 0.5 0.4 0.5 -0.7 0.5 -1.2 0.5 -0.2 0.5 0.2 0.5 3.5 0.5 -3.7 0.5 1.5 0.5 -1.6 0.5 -0.1 0.5 2.9 0.5 0.3 0.5 -1.7 0.5 0.5 0.5 0 0.5 1.1 0.5 -5.2 0.5 1.6 0.5 3.2 0.5 1.3 0.5 -1.9 0.5 0.9 0.5 -3.8 0.5 -0.7 0.5 6.1 0.5 -4.1 0.5 0.7 0.5 2.7 0.5 -0.3 0.5 2.5 0.5 -3.4 0.5 -0.1 0.5 -0.3 0.5 4.8 0.5 -0.6 0.5 0.3 0.5 -2.5 0.5 -0.2 0.5 3.5 0.5 0.6 0.5 -3.3 0.5 0.2 0.5 3.1 0.5 0 0.5 -4.2 0.5 0.5 0.5 3 0.5 -0.7 0.5 -2.2 0.5 2.7 0.5 -0.8 0.5 -1.7 0.5 0.3 0.5 -2 0.5 1.1 0.5 -2.1 0.5 2.6 0.5 -2.8 0.5 -0.5 0.5 5.9 0.5 -5.4 0.5 1.1 0.5 3.5 0.5 -5.2 0.5 3.2 0.5 -0.2 0.5 1.1 0.5 1.2 0.5 0 0.5 3.8 0.5 -0.3 0.5 -1.7 0.5 4.1 0.5 -1.9 0.5 2.7 0.5 5.3 0.5 -4.3 0.5 2.7 0.5 -1.3 0.5 5.7 0.5 -5.4 0.5 3.1 0.5 -0.8 0.5 2.4 0.5 -5.5 0.5 -0.6 0.5 4.8 0.5 -4.6 0.5 1.3 0.5 2.5 0.5 -4.3 0.5 -1 0.5 3.5 0.5 -0.5 0.5 0.6 0.5 -1.8 0.5 -1.7 0.5 -3 0.5 3 0.5 -1.8 0.5 -1.4 0.5 0.5 0.5 -3.3 0.5 4.6 0.5 -3.8 0.5 3.5 0.5 -1 0.5 -1 0.5 -2.5 0.5 2.5 0.5 -2.1 0.5 3.5 0.5 -3.7 0.5 3 0.5 -5.7 0.5 4.3 0.5 -2.6 0.5 -0.1 0.5 -0.7 0.5 1.5 0.5 -3.4 0.5 1 0.5 -2.7 0.5 -2.8 0.5 1.9 0.5 -2.2 0.5 -1.3 0.5 0.4 0.5 -5.7 0.5 -1 0.5 2 0.5 -2.3 0.5 -1.7 0.5 0.3 0.5 -1.8 0.5 4.7 0.5 -4.9 0.5 -0.8 0.5 3.3 0.5 -2 0.5 -1 0.5 2 0.5 -1.2 0.5 -0.7 0.5 1.2 0.5 -3.7 0.5 1.5 0.5 2.2 0.5 -4.3 0.5 1.7 0.5 -2.9 0.5 -1.4 0.5 0.6 0.5 -2.4 0.5 1.2 0.5 -0.2 0.5 3 0.5 -0.2 0.5 -0.8 0.5 -1.9 0.5 -3 0.5 3.6 0.5 -1.5 0.5 1.6 0.5 -2.4 0.5 -3.1 0.5 2.7 0.5 -2.8 0.5 4.8 0.5 -5.6 0.5 2.4 0.5 -2 0.5 2.7 0.5 -3.3 0.5 6.1 0.5 -1.9 0.5 1.7 0.5 -2.3 0.5 0.7 0.5 1.4 0.5 -1.4 0.5 5.2 0.5 -0.2 0.5 1.1 0.5 -1.6 0.5 -1.5 0.5 3.7 0.5 0.9 0.5 -3.2 0.5 -0.6 0.5 -1.7 0.5 -1.1 0.5 2.4 0.5 -2.3 0.5 1.7 0.5 -3.5 0.5 -3.7 0.5 -0.4 0.5 1.9 0.5 -2.9 0.5 1.6 0.5 -1 0.5 0.1 0.5 -1.9 0.5 -1.5 0.5 -0.7 0.5 -2.4 0.5 -1.3 0.5 3.3 0.5 -1.6 0.5 -1.2 0.5 1 0.5 -4.7 0.5 3.1 0.5 1.5 0.5 -1.6 0.5 2.1 0.5 -4.5 0.5 5.6 0.5 -3.9 0.5 2.8 0.5 1.9 0.5 -2.3 0.5 -1.4 0.5 4.9 0.5 -4.2 0.5 3.5 0.5 -0.4 0.5 0.1 0.5 2.1 0.5 1.7 0.5 0.9 0.5 -0.2 0.5 1.2 0.5 -4.2 0.5 3.1 0.5 2.1 0.5 0.5 0.5 3.8 0.5 0.8 0.5 -1.9 0.5 3.5 0.5 -3 0.5 3.4 0.5 -3.8 0.5 5.9 0.5 -3 0.5 3.9 0.5 -4 0.5 0.8 0.5 0.6 0.5 0.7 0.5 -0.6 0.5 5.3 0.5 -1 0.5 0.8 0.5 -1 0.5 1.9 0.5 0.3 0.5 -2.5 0.5 2 0.5 -0.7 0.5 0.7 0.5 0.5 0.5 3.2 0.5 -4.4 0.5 2.7 0.5 -1.6 0.5 0.7 0.5 -1.7 0.5 0 0.5 -5.8 0.5 3.5 0.5 -3.4 0.5 -0.3 0.5 -2.3 0.5 -0.2 0.5 3.2 0.5 -3.1 0.5 2.6 0.5 -1.9 0.5 1.9 0.5 0.1 0.5 -2.4 0.5 4.8 0.5 -0.8 0.5 -0.5 0.5 0.9 0.5 0.8 0.5 -1.2 0.5 2.2 0.5 -2.3 0.5 6 0.5 -1.3 0.5 0.9 0.5 0.3 0.5 1 0.5 -2.2 0.5 -1.1 0.5 -1.3 0.5 3.4 0.5 -2.2 0.5 2.2 0.5 -2.3 0.5 4.8 0.5 -2.4 0.5 0 0.5 3.4 0.5 -2.3 0.5 0.6 0.5 1.2 0.5 -3.9 0.5 1.8 0.5 4.2 0.5 -1.9 0.5 -3.5 0.5 5.1 0.5 -0.2 0.5 -1.8 0.5 -4.1 0.5 2.4 0.5 -0.5 0.5 -1.8 0.5 2 0.5 -3.1 0.5 1.3 0.5 -3.9 0.5 3.1 0.5 -5.2 0.5 -2.6 0.5 4.6 0.5 -5 0.5 -2.2 0.5 4.6 0.5 -5 0.5 1.5 0.5 -4.8 0.5 3.6 0.5 -0.6 0.5 -4.5 0.5 -1.1 0.5 -1.3 0.5 2.4 0.5 -1.4 0.5 2.9 0.5 -3.3 0.5 1 0.5 -0.8 0.5 -0.8 0.5 -1.4 0.5 3.4 0.5 -2 0.5 3.9 0.5 -1.6 0.5 0 0.5 1.4 0.5 -4.3 0.5 4.7 0.5 -0.4 0.5 -3.9 0.5 0.5 0.5 -0.9 0.5 2.8 0.5 -1.7 0.5 4.7 0.5 -2.9 0.5 0.1 0.5 4.7 0.5 -3.3 0.5 0.7 0.5 1.8 0.5 0.5 0.5 -1 0.5 2.6 0.5 -2.1 0.5 3.4 0.5 -1.8 0.5 -0.1 0.5 1.2 0.5 0 0.5 4 0.5 0.2 0.5 -3.7 0.5 5.4 0.5 0 0.5 -4.2 0.5 3.1 0.5 0.7 0.5 0.4 0.5 -2.8 0.5 6 0.5 -2.8 0.5 2.4 0.5 -0.5 0.5 2.8 0.5 -3.7 0.5 3 0.5 -2.2 0.5 4.3 0.5 -3.6 0.5 -1.3 0.5 3.1 0.5 1.5 0.5 -2 0.5 2.1 0.5 0 0.5 -3.5 0.5 0.8 0.5 3.3 0.5 -3.5 0.5 1.8 0.5 -3.6 0.5 -1.5 0.5 4 0.5 -3.1 0.5 -3.1 0.5 4.1 0.5 -1.1 0.5 2.3 0.5 1.4 0.5 -0.8 0.5 -2.3 0.5 1.2 0.5 6.3 0.5 0.9 0.5 2.1 0.5 -0.4 0.5 1.5 0.5 -2.3 0.5 2.9 0.5 1.3 0.5 -1.5 0.5 -1.1 0.5 5.3 0.5 -4.6 0.5 2.4 0.5 1.1 0.5 -1 0.5 2.7 0.5 -4.2 0.5 4.2 0.5 -0.2 0.5 -1.9 0.5 -0.5 0.5 3.1 0.5 -2.1 0.5 3.1 0.5 -5.3 0.5 -0.7 0.5 0 0.5 3.7 0.5 -3.3 0.5 -0.7 0.5 0.2 0.5 -4.1 0.5 0.4 0.5 -0.2 0.5 -4.8 0.5 1.5 0.5 -0.2 0.5 -2.2 0.5 -2.6 0.5 -2.1 0.5 4.3 0.5 -2.3 0.5 -3 0.5 -0.3 0.5 -6 0.5 4.9 0.5 -5.5 0.5 -0.6 0.5 -3.6 0.5 0.5 0.5 -2.5 0.5 0.1 0.5 -0.7 0.5 0.1 0.5 -4 0.5 3.9 0.5 -0.2 0.5 -5.6 0.5 -0.3 0.5 3.6 0.5 -3.2 0.5 -0.6 0.5 -0.3 0.5 -0.6 0.5 4.5 0.5 -1.7 0.5 -3.2 0.5 4.7 0.5 -4.7 0.5 2.4 0.5 -0.6 0.5 -2.3 0.5 1 0.5 -3 0.5 2.3 0.5 -3.8 0.5 -0.9 0.5 1.2 0.5 1.7 0.5 -0.3 0.5 -3.2 0.5 -2 0.5 2.9 0.5 0.7 0.5 -5 0.5 0 0.5 1.5 0.5 -2.3 0.5 0.5 0.5 -2.1 0.5 2.5 0.5 -0.3 0.5 0.3 0.5 -6.6 0.5 -0.1 0.5 4.1 0.5 -1.9 0.5 -0.5 0.5 -4.7 0.5 5.9 0.5 -4.6 0.5 -1.8 0.5 0.1 0.5 0 0.5 3.1 0.5 -1.7 0.5 -1 0.5 -1.3 0.5 0.3 0.5 3 0.5 -3.1 0.5 -2.6 0.5 6.1 0.5 -0.4 0.5 -4 0.5 1.6 0.5 -3.6 0.5 3.1 0.5 -3.3 0.5 1.3 0.5 4.5 0.5 -5.1 0.5 2.6 0.5 0.7 0.5 -2 0.5 5.1 0.5 -2.4 0.5 -2.3 0.5 5.1 0.5 -1.1 0.5 -1.2 0.5 2 0.5 2 0.5 0.4 0.5 0.4 0.5 -2 0.5 1.5 0.5 2.8 0.5 4.4 0.5 -4.2 0.5 1.3 0.5 2.3 0.5 0.2 0.5 4.7 0.5 0.3 0.5 0.6 0.5 -2.5 0.5 2.6 0.5 3.6 0.5 -0.4 0.5 -1.6 0.5 5.5 0.5 1.4 0.5 0 0.5 0 0.5 -1.7 0.5 2.2 0.5 1.6 0.5 2.2 0.5 1.3 0.5 -1 0.5 4.5 0.5 3.2 0.5 -2.2 0.5 0.6 0.5 3.4 0.5 1.2 0.5 4.3 0.5 -3.6 0.5 3.8 0.5 0.9 0.5 -3.9 0.5 5.4 0.5 -1.7 0.5 2.3 0.5 0 0.5 -1.5 0.5 2.6 0.5 -2.9 0.5 0.5 0.5 2.2 0.5 -0.9 0.5 -0.5 0.5 4.3 0.5 0.5 0.5 -4.3 0.5 4.3 0.5 1.8 0.5 -0.5 0.5 -4.1 0.5 -0.4 0.5 2.3 0.5 2.9 0.5 0.1 0.5 -5.7 0.5 5.5 0.5 -1.6 0.5 0.2 0.5 -2.6 0.5 2.7 0.5 2.3 0.5 -2 0.5 2.4 0.5 -1 0.5 -2.5 0.5 0.9 0.5 -0.3 0.5 0.4 0.5 2.5 0.5 -1 0.5 2.7 0.5 -4.5 0.5 -0.5 0.5 -0.4 0.5 0.9 0.5 3.1 0.5 -3.5 0.5 3 0.5 1.7 0.5 -1.9 0.5 -2.7 0.5 3.6 0.5 0.6 0.5 -1.9 0.5 -0.8 0.5 1.4 0.5 -3.3 0.5 3.6 0.5 -2.8 0.5 2.6 0.5 -2.1 0.5 0.1 0.5 3.3 0.5 -3.9 0.5 2.6 0.5 -4.5 0.5 3.5 0.5 -4.1 0.5 2.5 0.5 2.2 0.5 -4.1 0.5 -0.1 0.5 3.9 0.5 -3.4 0.5 1 0.5 0.2 0.5 -0.3 0.5 1.2 0.5 -0.7 0.5 -6.7 0.5 -1.8 0.5 2.6 0.5 -5.4 0.5 1.3 0.5 -5.6 0.5 0.5 0.5 -1.6 0.5 -1 0.5 0.1 0.5 -3.3 0.5 1.5 0.5 2.8 0.5 -6.4 0.5 4.1 0.5 -2 0.5 -2.9 0.5 2.7 0.5 -2.6 0.5 0.5 0.5 -2 0.5 4.7 0.5 -0.6 0.5 -2.9 0.5 -0.1 0.5 -0.5 0.5 1.2 0.5 0.5 0.5 1 0.5 -3.7 0.5 5 0.5 -5.3 0.5 5.6 0.5 -4.4 0.5 1.9 0.5 2.3 0.5 -3 0.5 -1.6 0.5 3.8 0.5 0.3 0.5 -1.9 0.5 1.5 0.5 0.9 0.5 -5.9 0.5 3.7 0.5 -0.7 0.5 -1.6 0.5 -2.1 0.5 0.3 0.5 -0.2 0.5 1.8 0.5 -1.1 0.5 -2 0.5 -1.7 0.5 3.2 0.5 -5.7 0.5 1.6 0.5 -0.6 0.5 0.5 0.5 -3.2 0.5 2.2 0.5 -2.3 0.5 -1 0.5 5.4 0.5 -1.6 0.5 -3.7 0.5 1.5 0.5 -3 0.5 3.9 0.5 -1.8 0.5 -1.6 0.5 -1.2 0.5 0.9 0.5 2 0.5 0.4 0.5 -4.5 0.5 6 0.5 -2.9 0.5 2.6 0.5 -5.4 0.5 5.3 0.5 -1.5 0.5 -3 0.5 -0.4 0.5 1.6 0.5 4.6 0.5 -1.4 0.5 -1.9 0.5 0 0.5 2.8 0.5 -1.9 0.5 -1.8 0.5 3.6 0.5 -0.7 0.5 2.3 0.5 -5.1 0.5 3.4 0.5 0.4 0.5 -1.9 0.5 1.6 0.5 0.2 0.5 -1.4 0.5 -3.8 0.5 -0.8 0.5 2.2 0.5 2.5 0.5 -0.5 0.5 -3.3 0.5 0.8 0.5 -2.2 0.5 1.8 0.5 -4.2 0.5 5.1 0.5 -0.3 0.5 -1.8 0.5 -3.9 0.5 0.5 0.5 3.2 0.5 -4 0.5 2.7 0.5 0.1 0.5 -1.4 0.5 -2.8 0.5 1.9 0.5 1.2 0.5 -1 0.5 0.5 0.5 0.1 0.5 -2.5 0.5 0.6 0.5 -0.9 0.5 2.5 0.5 -6 0.5 -0.7 0.5 4.8 0.5 -0.4 0.5 -1.3 0.5 -3.9 0.5 1.9 0.5 3.6 0.5 -4.3 0.5 -0.5 0.5 6.6 0.5 -2.2 0.5 -2.2 0.5 2.4 0.5 3.8 0.5 0.7 0.5 -3 0.5 4 0.5 -2.1 0.5 -0.5 0.5 3 0.5 -0.7 0.5 3.1 0.5 1.3 0.5 1.1 0.5 -0.7 0.5 -1.9 0.5 0.5 0.5 -0.3 0.5 2.6 0.5 2.5 0.5 -3.8 0.5 0.9 0.5 4.2 0.5 -2.4 0.5 2.1 0.5 0.1 0.5 -2.1 0.5 4.3 0.5 -3.2 0.5 -3.5 0.5 4.5 0.5 -1.9 0.5 -4.8 0.5 2.9 0.5 -5.6 0.5 0.9 0.5 -0.2 0.5 0.8 0.5 -1.4 0.5 -1.6 0.5 -0.8 0.5 -6.3 0.5 -1.4 0.5 -0.4 0.5 3 0.5 -4.4 0.5 0.9 0.5 -1.1 0.5 3.6 0.5 0.3 0.5 -2.8 0.5 0.4 0.5 4.9 0.5 -3.1 0.5 -0.7 0.5 2.9 0.5 0.5 0.5 -0.9 0.5 -2.5 0.5 1.2 0.5 3.6 0.5 -3.4 0.5 -0.8 0.5 0.6 0.5 2.8 0.5 0.7 0.5 -0.5 0.5 -0.3 0.5 -0.4 0.5 0.2 0.5 -1.2 0.5 -1.8 0.5 -2.4 0.5 4.2 0.5 -5.2 0.5 0.5 0.5 2.7 0.5 -2.1 0.5 -2.6 0.5 3.1 0.5 2 0.5 -2.5 0.5 1.3 0.5 -3.9 0.5 3.4 0.5 -3.2 0.5 -0.1 0.5 2.2 0.5 -1.4 0.5 -1.1 0.5 -0.5 0.5 -0.2 0.5 3.9 0.5 -1.3 0.5 1.9 0.5 1.9 0.5 -2.3 0.5 2.6 0.5 -3 0.5 3.7 0.5 2.1 0.5 1.5 0.5 -0.1 0.5 -0.3 0.5 3.4 0.5 -4.5 0.5 3.3 0.5 -2.2 0.5 -3 0.5 5.5 0.5 -2.2 0.5 -0.5 0.5 -5.8 0.5 3.4 0.5 -3.5 0.5 -2.1 0.5 0.7 0.5 1 0.5 -0.1 0.5 -3.5 0.5 1 0.5 0.3 0.5 -1.4 0.5 2.2 0.5 -3.2 0.5 -1.8 0.5 2.8 0.5 1.2 0.5 2.2 0.5 1.4 0.5 -4.2 0.5 2.1 0.5 0.2 0.5 5.6 0.5 -4.5 0.5 5.4 0.5 -4 0.5 4.8 0.5 -1.8 0.5 2.3 0.5 1.4 0.5 0.7 0.5 -5.4 0.5 5.5 0.5 -0.6 0.5 -2.2 0.5 -0.7 0.5 2.9 0.5 0.3 0.5 -3.5 0.5 3.8 0.5 -1.1 0.5 0.8 0.5 1 0.5 -2.6 0.5 2.8 0.5 -2.5 0.5 -2.1 0.5 0.5 0.5 -0.8 0.5 3.6 0.5 -2.4 0.5 -1.2 0.5 2 0.5 -2.4 0.5 -0.9 0.5 -0.3 0.5 3 0.5 -1.5 0.5 0.1 0.5 0.3 0.5 2.2 0.5 4.7 0.5 -1.8 0.5 5.9 0.5 1.4 0.5 -2.3 0.5 0.5 0.5 5.8 0.5 -1 0.5 2 0.5 0.6 0.5 -5.1 0.5 2.6 0.5 -2.9 0.5 0.9 0.5 -2.9 0.5 3.6 0.5 -3.4 0.5 -2.3 0.5 -0.9 0.5 1.2 0.5 -1.4 0.5 1.9 0.5 -4.1 0.5 0.2 0.5 3.4 0.5 -4.2 0.5 -1.8 0.5 0.1 0.5 4.4 0.5 -4.8 0.5 0.4 0.5 2.5 0.5 -1.1 0.5 -1.7 0.5 2.9 0.5 -0.7 0.5 1.9 0.5 1.8 0.5 0.1 0.5 -1.8 0.5 4.1 0.5 -2.4 0.5 4.4 0.5 -1.7 0.5 -2.9 0.5 6.1 0.5 -4.9 0.5 -1.6 0.5 5.2 0.5 -3 0.5 -0.6 0.5 2.1 0.5 1.2 0.5 -5.9 0.5 3.8 0.5 1.1 0.5 -0.6 0.5 -4.4 0.5 -1.9 0.5 2.8 0.5 0.5 0.5 -2.7 0.5 2.1 0.5 -3.9 0.5 5.2 0.5 -3.4 0.5 -2 0.5 1.4 0.5 4.1 0.5 -4.3 0.5 0.6 0.5 0.9 0.5 0.9 0.5 -1.2 0.5 0.6 0.5 4 0.5 -0.9 0.5 -2.1 0.5 5.1 0.5 -3.9 0.5 1.4 0.5 0.7 0.5 2.4 0.5 -1.8 0.5 1.1 0.5 -3 0.5 -0.8 0.5 2.7 0.5 -1.1 0.5 -1.2 0.5 -2.4 0.5 1.8 0.5 -3.1 0.5 3.5 0.5 -4 0.5 1.1 0.5 -1.3 0.5 -4.1 0.5 5 0.5 -6.2 0.5 2.1 0.5 -0.1 0.5 -4.3 0.5 -2.4"/>
<path stroke="#f2aa84" stroke-width="8.8" d="M293.3 166.5l0.5 -1.5 0.5 -0.7 0.5 3.7 0.5 -1.7 0.5 -3.2 0.5 1.7 0.5 0.8 0.5 -0.3 0.5 3 0.5 -3.3 0.5 0.1 0.5 -1.2 0.5 3.9 0.5 -1.3 0.5 -1.8 0.5 3.2 0.5 -1.9 0.5 0.2 0.5 3.6 0.5 -3.8 0.5 5.2 0.5 -0.1 0.5 -3.1 0.5 0.2 0.5 1.6 0.5 -2 0.5 4.2 0.5 -1.4 0.5 1.7 0.5 0 0.5 -0.9 0.5 0.7 0.5 1.6 0.5 -3.3 0.5 0.3 0.5 1.7 0.5 -1.1 0.5 3.1 0.5 2 0.5 -0.8 0.5 -0.8 0.5 2.1 0.5 0.8 0.5 -2.5 0.5 4.2 0.5 -1.9 0.5 0.6 0.5 -0.5 0.5 4.1 0.5 0.3 0.5 -2.4 0.5 1.5 0.5 2.4 0.5 -0.5 0.5 1.6 0.5 -0.2 0.5 2.7 0.5 0.9 0.5 0.8 0.5 -2 0.5 3.1 0.5 1.6 0.5 -1.6 0.5 3.9 0.5 2 0.5 0 0.5 2.8 0.5 -2.6 0.5 3.2 0.5 0.7 0.5 0.9 0.5 -0.8 0.5 1.4 0.5 1.9 0.5 1.5 0.5 -2.5 0.5 0.4 0.5 0 0.5 1.4 0.5 0.9 0.5 1.5 0.5 0.6 0.5 0.3 0.5 3.3 0.5 1.1 0.5 -0.2 0.5 3.1 0.5 -1.1 0.5 2 0.5 -0.8 0.5 0.8 0.5 3.7 0.5 2.3 0.5 1.8 0.5 -3.7 0.5 0.5 0.5 2.9 0.5 2.3 0.5 2.1 0.5 -1.7 0.5 1.5 0.5 -1.8 0.5 1.9 0.5 4.5 0.5 -2.2 0.5 4 0.5 -2.8 0.5 1 0.5 1.6 0.5 1.2 0.5 1.2 0.5 1.1 0.5 1.9 0.5 -0.8 0.5 2.3 0.5 1.1 0.5 2.1 0.5 2.3 0.5 -1.4 0.5 2.6 0.5 1.1 0.5 -0.5 0.5 2.8 0.5 -3.6 0.5 1.8 0.5 3.1 0.5 -2.6 0.5 1.2 0.5 0.3 0.5 5 0.5 -1.6 0.5 0 0.5 4.2 0.5 0.1 0.5 -1.1 0.5 0.8 0.5 4 0.5 2.5 0.5 -2.6 0.5 0.2 0.5 6 0.5 -0.1 0.5 -1.6 0.5 1.3 0.5 1.7 0.5 0.6 0.5 4.1 0.5 1.7 0.5 -2 0.5 -0.2 0.5 1.1 0.5 4 0.5 -0.6 0.5 2 0.5 -0.2 0.5 -2.1 0.5 0.4 0.5 3.4 0.5 1.1 0.5 -3.7 0.5 1.4 0.5 0.8 0.5 2.4 0.5 -2 0.5 1.8 0.5 0.7 0.5 2.5 0.5 -3.8 0.5 3 0.5 0.6 0.5 -0.1 0.5 -1 0.5 2.1 0.5 2.1 0.5 1.8 0.5 0.2 0.5 0.2 0.5 0.3 0.5 -4 0.5 4.8 0.5 -3.1 0.5 3.4 0.5 0 0.5 1 0.5 -1.2 0.5 0.2 0.5 1.4 0.5 1.9 0.5 -0.4 0.5 -0.3 0.5 -0.8 0.5 2.5 0.5 2.9 0.5 -3.3 0.5 3.2 0.5 0.8 0.5 1.3 0.5 -0.3 0.5 -0.5 0.5 -0.2 0.5 0.1 0.5 1.5 0.5 -1.6 0.5 1.1 0.5 3.3 0.5 -3.6 0.5 5 0.5 -0.6 0.5 -3.1 0.5 2.9 0.5 0.3 0.5 1.4 0.5 -0.7 0.5 3.4 0.5 -2.2 0.5 -1.7 0.5 1.9 0.5 0.5 0.5 -0.1 0.5 0.5 0.5 4.9 0.5 -3.4 0.5 1 0.5 0.8 0.5 3.8 0.5 -0.1 0.5 0.7 0.5 2.8 0.5 -0.6 0.5 0.7 0.5 2.5 0.5 -0.9 0.5 0.4 0.5 4.2 0.5 -3.5 0.5 4.1 0.5 -2.2 0.5 1.2 0.5 1.3 0.5 0.9 0.5 2.5 0.5 0.8 0.5 2.6 0.5 0 0.5 -3.1 0.5 2.9 0.5 2.8 0.5 2.2 0.5 -1.8 0.5 -1 0.5 1.4 0.5 4.2 0.5 1.1 0.5 -0.2 0.5 1.4 0.5 1.8 0.5 -0.6 0.5 -0.6 0.5 2.8 0.5 -1.7 0.5 4 0.5 -0.7 0.5 0.8 0.5 1.9 0.5 1.4 0.5 -0.8 0.5 3.7 0.5 1.2 0.5 0.9 0.5 0.7 0.5 -1.2 0.5 -0.4 0.5 3.9 0.5 -0.8 0.5 -0.5 0.5 1.8 0.5 0.1 0.5 0.9 0.5 3.3 0.5 -1.7 0.5 -0.1 0.5 2.7 0.5 1.2 0.5 -0.2 0.5 -2.6 0.5 2 0.5 3.6 0.5 -1.1 0.5 -2.2 0.5 3.6 0.5 0.4 0.5 -2 0.5 2.9 0.5 -2.1 0.5 4.2 0.5 -1.1 0.5 -2 0.5 2.5 0.5 2.2 0.5 -2.9 0.5 4.2 0.5 0.8 0.5 -3.4 0.5 4.5 0.5 -3.7 0.5 3.7 0.5 0.6 0.5 2.7 0.5 -1.1 0.5 0.2 0.5 -0.5 0.5 3.6 0.5 1.6 0.5 -1.9 0.5 4.1 0.5 0.3 0.5 -1.4 0.5 -0.1 0.5 1.6 0.5 1.7 0.5 -1.5 0.5 5.2 0.5 -2 0.5 0.2 0.5 2.9 0.5 1.6 0.5 -2.1 0.5 1.9 0.5 1 0.5 3.1 0.5 -2.3 0.5 1.3 0.5 -0.2 0.5 2.3 0.5 0.2 0.5 2.5 0.5 -0.9 0.5 0 0.5 0.8 0.5 4 0.5 -1.7 0.5 1.2 0.5 3.9 0.5 1.3 0.5 -2.6 0.5 1.1 0.5 1.7 0.5 1.2 0.5 1.7 0.5 -1 0.5 4.7 0.5 -3.2 0.5 4.5 0.5 -2.4 0.5 2.5 0.5 0.2 0.5 -0.5 0.5 0.5 0.5 2.6 0.5 0.7 0.5 -1.2 0.5 2.4 0.5 -0.8 0.5 1 0.5 4.4 0.5 1.7 0.5 -2.9 0.5 2.2 0.5 3.4 0.5 -2.2 0.5 0.1 0.5 3.6 0.5 -1.5 0.5 2.1 0.5 -0.2 0.5 1.3 0.5 -0.2 0.5 -0.3 0.5 2.5 0.5 3.2 0.5 -0.2 0.5 1.8 0.5 -2.3 0.5 -0.9 0.5 1.7 0.5 1.2 0.5 3.9 0.5 0.9 0.5 -2.6 0.5 0.9 0.5 1.6 0.5 0.1 0.5 3.7 0.5 0.2 0.5 2 0.5 -2 0.5 3.7 0.5 -2.3 0.5 -0.1 0.5 3.8 0.5 0 0.5 -0.8 0.5 1.7 0.5 -2.4 0.5 3.3 0.5 -2 0.5 3.4 0.5 2.4 0.5 -3.4 0.5 1.9 0.5 0.8 0.5 -0.4 0.5 3.1 0.5 2.1 0.5 -0.3 0.5 -2 0.5 1.4 0.5 2 0.5 2.1 0.5 -1.1 0.5 3.9 0.5 -1.8 0.5 3.3 0.5 -0.2 0.5 -2.5 0.5 4.5 0.5 -1.6 0.5 3.5 0.5 -2.2 0.5 2.8 0.5 0.4 0.5 -1.6 0.5 -0.3 0.5 1.2 0.5 1.8 0.5 3.4 0.5 -1.3 0.5 2.8 0.5 0.3 0.5 1.1 0.5 -1 0.5 1 0.5 0.8 0.5 2.3 0.5 0.2 0.5 -0.6 0.5 1 0.5 0.6 0.5 1.4 0.5 1.5 0.5 -3.4 0.5 4 0.5 1.1 0.5 -2.2 0.5 1 0.5 3.6 0.5 -1.2 0.5 2.7 0.5 2 0.5 -0.6 0.5 0 0.5 -1.5 0.5 4.7 0.5 0.3 0.5 -1.5 0.5 4.1 0.5 0.8 0.5 0.9 0.5 -1.4 0.5 2.5 0.5 0 0.5 -1 0.5 0.4 0.5 1.1 0.5 -0.8 0.5 1.1 0.5 4.2 0.5 2.1 0.5 0.8 0.5 0.6 0.5 -1.7 0.5 0.4 0.5 1.9 0.5 2.3 0.5 2 0.5 -1.5 0.5 2.9 0.5 0.3 0.5 -2 0.5 -0.9 0.5 3 0.5 -0.9 0.5 2.9 0.5 -1.7 0.5 0.7 0.5 0.9 0.5 -0.9 0.5 0.2 0.5 2.6 0.5 -1.5 0.5 3.5 0.5 0.8 0.5 3 0.5 -3.6 0.5 2 0.5 0.8 0.5 4.4 0.5 -1.4 0.5 3.2 0.5 -1.5 0.5 -0.9 0.5 -0.1 0.5 3.5 0.5 2 0.5 -1.7 0.5 3.1 0.5 -2.1 0.5 -1.6 0.5 5.4 0.5 -1.7 0.5 0.3 0.5 4 0.5 -2 0.5 -0.5 0.5 1.7 0.5 1.9 0.5 2.8 0.5 0.2 0.5 -1.5 0.5 3.2 0.5 -1 0.5 -1.4 0.5 0.2 0.5 -0.4 0.5 1.1 0.5 0.3 0.5 0.4 0.5 0.3 0.5 1.4 0.5 -1.4 0.5 1.6 0.5 2.4 0.5 -0.1 0.5 1.2 0.5 0.8 0.5 0.8 0.5 -2.4 0.5 3.5 0.5 1.1 0.5 0.2 0.5 -0.3 0.5 -1.3 0.5 1.4 0.5 2 0.5 0.1 0.5 1.3 0.5 0.3 0.5 2 0.5 2.7 0.5 -2.8 0.5 5.5 0.5 -3.4 0.5 4.4 0.5 -2.2 0.5 1.1 0.5 4.1 0.5 1.3 0.5 -1.2 0.5 1.9 0.5 -1.6 0.5 0 0.5 2.2 0.5 0.8 0.5 0.9 0.5 2.4 0.5 -1.5 0.5 1.7 0.5 1.6 0.5 2.7 0.5 -1.4 0.5 1.3 0.5 -0.4 0.5 2.2 0.5 -3.2 0.5 2.5 0.5 -0.2 0.5 1.5 0.5 0.5 0.5 2.8 0.5 0.3 0.5 1 0.5 -0.5 0.5 -0.5 0.5 0.9 0.5 2.5 0.5 -0.9 0.5 1.7 0.5 3.3 0.5 -2.5 0.5 -0.1 0.5 5.3 0.5 0 0.5 -2.9 0.5 4.8 0.5 -0.9 0.5 -1.5 0.5 3.6 0.5 -1 0.5 3.1 0.5 0.8 0.5 -4.1 0.5 4.6 0.5 -3.7 0.5 5.1 0.5 -1.4 0.5 -1.4 0.5 2.4 0.5 0.3 0.5 2.6 0.5 0.8 0.5 -1.1 0.5 2.5 0.5 -3 0.5 1.8 0.5 -0.1 0.5 0.8 0.5 1.3 0.5 0 0.5 2.3 0.5 3 0.5 0.5 0.5 -0.2 0.5 0.9 0.5 -2.7 0.5 0.4 0.5 3.6 0.5 -0.6 0.5 -0.4 0.5 0.1 0.5 1.7 0.5 1.4 0.5 -1.7 0.5 2.5 0.5 -0.7 0.5 4.3 0.5 -0.1 0.5 -2 0.5 0.2 0.5 4.1 0.5 0.7 0.5 2 0.5 -3.4 0.5 3.1 0.5 2.5 0.5 -1.1 0.5 -0.1 0.5 0.3 0.5 1.8 0.5 1.3 0.5 2.3 0.5 -2.2 0.5 4.2 0.5 -2.6 0.5 1.5 0.5 1.8 0.5 -1.3 0.5 2.3 0.5 3.9 0.5 0.8 0.5 0.1 0.5 -1.7 0.5 2.1 0.5 2.3 0.5 -3.6 0.5 2.8 0.5 1.3 0.5 1.3 0.5 -1.3 0.5 1.3 0.5 4.1 0.5 -4.1 0.5 4.5 0.5 -0.5 0.5 2.9 0.5 -1.4 0.5 -0.3 0.5 3.5 0.5 -1.3 0.5 0.5 0.5 1.8 0.5 -1.9 0.5 2 0.5 1.7 0.5 -2.3 0.5 0.8 0.5 3.4 0.5 1.2 0.5 -0.1 0.5 0.3 0.5 -2.1 0.5 4.4 0.5 1.2 0.5 0 0.5 -1.2 0.5 -1.5 0.5 2.3 0.5 3.3 0.5 -0.5 0.5 -1.9 0.5 5.2 0.5 -0.7 0.5 1.5 0.5 -2.5 0.5 3.4 0.5 1.8 0.5 -2.5 0.5 1.2 0.5 3.7 0.5 -1.1 0.5 1.8 0.5 0.5 0.5 -0.6 0.5 0.1 0.5 2.3 0.5 -1.1 0.5 2.2 0.5 -2.1 0.5 4.2 0.5 1 0.5 1.3 0.5 -0.7 0.5 2.5 0.5 -2.2 0.5 -0.1 0.5 5.5 0.5 -3 0.5 1.5 0.5 1.2 0.5 -0.4 0.5 2 0.5 1.8 0.5 -0.3 0.5 4.9 0.5 -3.6 0.5 2.1 0.5 0.5 0.5 2.4 0.5 -1.4 0.5 3.3 0.5 -1.1 0.5 3.9 0.5 -1 0.5 0.8 0.5 3.5 0.5 -2.7 0.5 2.8 0.5 2.1 0.5 -0.5 0.5 3.5 0.5 0.7 0.5 -4 0.5 5.1 0.5 0.3 0.5 -3.5 0.5 3.7 0.5 -1.7 0.5 -0.1 0.5 1.9 0.5 -1.9 0.5 4.1 0.5 1.4 0.5 -3.1 0.5 4 0.5 0.3 0.5 -2 0.5 0.7 0.5 1.6 0.5 -2.5 0.5 1.4 0.5 2.5 0.5 -0.3 0.5 1.5 0.5 -1 0.5 4.8 0.5 -2 0.5 -0.4 0.5 -0.3 0.5 3.4 0.5 -0.3 0.5 1.9 0.5 0.5 0.5 -2.8 0.5 0.8 0.5 2.3 0.5 0.3 0.5 0.4 0.5 1 0.5 -0.2 0.5 2.4 0.5 -1 0.5 -1.2 0.5 0.7 0.5 -0.7 0.5 1.8 0.5 1.6 0.5 -1 0.5 1.5 0.5 -0.6 0.5 -0.7 0.5 1.5 0.5 -0.7 0.5 -3.1 0.5 3.6 0.5 1 0.5 0.4 0.5 -2.3 0.5 -0.3 0.5 -0.8 0.5 1.3 0.5 -0.1 0.5 0.7 0.5 -0.9 0.5 0.4 0.5 -0.3 0.5 0.6 0.5 0.8 0.5 2.2 0.5 0.6 0.5 -1.6 0.5 -0.3 0.5 -0.2 0.5 2.4 0.5 -0.4 0.5 -1.4 0.5 -1.7 0.5 2.3 0.5 0.3 0.5 -2.6 0.5 -2 0.5 1.2 0.5 -1.3 0.5 -1.7 0.5 2.7 0.5 -0.4 0.5 -0.2 0.5 -2.7 0.5 2.8 0.5 -1.4 0.5 -0.7 0.5 -0.1 0.5 0.6 0.5 0.4 0.5 1.3 0.5 -1.4 0.5 -3.2 0.5 1.8 0.5 1.1 0.5 -2.1 0.5 -2.1 0.5 4.4 0.5 -2.6 0.5 -2.2 0.5 3.5 0.5 -4.8 0.5 -0.1 0.5 0.2 0.5 0.1 0.5 2 0.5 1.6 0.5 -3.1 0.5 2.8 0.5 -3.4 0.5 0.3 0.5 1.1 0.5 1.5 0.5 -0.9 0.5 -1.7 0.5 -0.5 0.5 0.1 0.5 2.6 0.5 -3.2 0.5 -1 0.5 0.2 0.5 0.3 0.5 2.5 0.5 -2.8 0.5 1.7 0.5 -0.3 0.5 -2 0.5 0.5 0.5 -3.3 0.5 1.4 0.5 -1.9 0.5 -0.1 0.5 1.8 0.5 1.6 0.5 -4.2 0.5 -0.5 0.5 3.9 0.5 -2.4 0.5 -2.2 0.5 3.6 0.5 -2.2 0.5 0.6 0.5 0.5 0.5 -4.3 0.5 -0.2 0.5 3.8 0.5 -3.5 0.5 1.2 0.5 -0.5 0.5 -2 0.5 0.2 0.5 -1.2 0.5 1.8 0.5 0.3 0.5 -3.5 0.5 4 0.5 -3.1 0.5 1.3 0.5 -2.5 0.5 1.4 0.5 -1.2 0.5 2.6 0.5 -1.4 0.5 3.2 0.5 -4.1 0.5 2.1 0.5 2 0.5 -3.6 0.5 2.8 0.5 0.5 0.5 -4.8 0.5 2.3 0.5 -0.6 0.5 0.4 0.5 1.8 0.5 0 0.5 -2.5 0.5 2 0.5 2.3 0.5 -3.4 0.5 0.1 0.5 2.2 0.5 -0.7 0.5 -0.5 0.5 2.7 0.5 1.1 0.5 -3.5 0.5 -0.6 0.5 1.7 0.5 0.3 0.5 1.8 0.5 0.3 0.5 -2.2 0.5 0.7 0.5 -0.5 0.5 -3 0.5 2.8 0.5 0.6 0.5 -1.7 0.5 1.4 0.5 -0.9 0.5 2.7 0.5 -2.1 0.5 0.6 0.5 -1.9 0.5 3.1 0.5 -1.1 0.5 -1.4 0.5 2.2 0.5 -1.3 0.5 1 0.5 -0.1 0.5 1.4 0.5 0.6 0.5 1.4 0.5 -1.2 0.5 2 0.5 -0.1 0.5 -4.2 0.5 1.5 0.5 -1.4 0.5 3.9 0.5 -4.4 0.5 0.9 0.5 1.7 0.5 -2.5 0.5 4.1 0.5 -3.6 0.5 -0.9 0.5 -0.1 0.5 1.3 0.5 0.2 0.5 0.5 0.5 -3.1 0.5 -0.1 0.5 0.4 0.5 -1.6 0.5 -0.3 0.5 1 0.5 -0.1 0.5 1.6 0.5 1 0.5 -4.5 0.5 2.9 0.5 -3.8 0.5 0.7 0.5 -0.7 0.5 -0.2 0.5 0.5 0.5 1.8 0.5 1.1 0.5 0.6 0.5 0.1 0.5 -3.1 0.5 2.7 0.5 -1.4 0.5 0.4 0.5 0.2 0.5 -2.2 0.5 3.7 0.5 -3 0.5 -1.4 0.5 2.1 0.5 0.5 0.5 0.1 0.5 0.2 0.5 2.1 0.5 -2.3 0.5 1.1 0.5 -0.2 0.5 -1 0.5 0.1 0.5 1.4 0.5 -3.5 0.5 2.5 0.5 -2.3 0.5 1.2 0.5 1.5 0.5 -3.2 0.5 1.7 0.5 -2.2 0.5 -1.1 0.5 -0.5 0.5 3.5 0.5 0.4 0.5 -1.2 0.5 -2.2 0.5 3 0.5 -2.5 0.5 0 0.5 1.8 0.5 -4.7 0.5 3.6 0.5 -1.7 0.5 1.8 0.5 -2.4 0.5 -1.1 0.5 2.2 0.5 0.1 0.5 -1.1 0.5 -0.1 0.5 3 0.5 -4 0.5 2.7 0.5 -1.6 0.5 3.2 0.5 0 0.5 -1.1 0.5 -1.1 0.5 -0.3 0.5 -1.9 0.5 2.4 0.5 1.5 0.5 -0.3 0.5 -2.2 0.5 -1 0.5 1.5 0.5 -2.3 0.5 2.7 0.5 0.6 0.5 -3.7 0.5 4 0.5 -2.3 0.5 1.1 0.5 0.1 0.5 0.9 0.5 0.3 0.5 -1.9 0.5 -1.4 0.5 1.3 0.5 -0.5 0.5 -2.1 0.5 2.3 0.5 -4.3 0.5 -0.9 0.5 0.6 0.5 2.3 0.5 1.6 0.5 -3.2 0.5 -1.5 0.5 3.4 0.5 0.9 0.5 -4.7 0.5 3.1 0.5 -0.8 0.5 0.7 0.5 -1.4 0.5 -0.3 0.5 3 0.5 -4 0.5 3.1 0.5 -1.2 0.5 0.8 0.5 2.1 0.5 -1.2 0.5 0 0.5 -1.2 0.5 0.9 0.5 -1.4 0.5 0.1 0.5 2 0.5 -1.4 0.5 0.8 0.5 -1.1 0.5 -0.5 0.5 1.1 0.5 -2.2 0.5 2.5 0.5 -1 0.5 -1.9 0.5 2.2 0.5 0.9 0.5 -3.1 0.5 0.7 0.5 0.9 0.5 -1.6 0.5 2.2 0.5 0.6 0.5 -2 0.5 -2.5 0.5 1.3 0.5 1.9 0.5 -0.8 0.5 -0.6 0.5 1.3 0.5 1 0.5 -2.5 0.5 -1.3 0.5 2.5 0.5 -3.1 0.5 -0.2 0.5 2.5 0.5 -2.3 0.5 2.5 0.5 -3 0.5 0.6 0.5 -0.9 0.5 -1.1 0.5 0 0.5 1.7 0.5 -2.4 0.5 2.4 0.5 -1.2 0.5 -1.2 0.5 3 0.5 -3 0.5 3.7 0.5 -1.9 0.5 1 0.5 1.3 0.5 -2.7 0.5 1.2 0.5 -3.3 0.5 3.6 0.5 -3.5 0.5 1 0.5 2.7 0.5 -0.5 0.5 -1.9 0.5 -1.2 0.5 0.1 0.5 3.4 0.5 -2.6 0.5 -0.2 0.5 -1.2 0.5 2.9 0.5 0.8 0.5 1.3 0.5 0.3 0.5 -3.9 0.5 -0.6 0.5 2 0.5 -0.3 0.5 -1.1 0.5 3.8 0.5 -2.3 0.5 2.1 0.5 -2.3 0.5 -0.5 0.5 0.6 0.5 1.6 0.5 -1.5 0.5 2.3 0.5 -1.8 0.5 1.2 0.5 -1.7 0.5 1.6 0.5 -1.3 0.5 2.3 0.5 -2.1 0.5 -1.1 0.5 1.2 0.5 -1.8 0.5 1.5 0.5 -2.2 0.5 4 0.5 -0.6 0.5 -3.3 0.5 0.1 0.5 1.5 0.5 0.5 0.5 -1.7 0.5 2.6 0.5 -4.1 0.5 2.2 0.5 -1 0.5 2.6 0.5 -1.2 0.5 0.9 0.5 -0.4 0.5 -3.4 0.5 0.7 0.5 0 0.5 -1.2 0.5 3.8 0.5 0 0.5 -0.3 0.5 -4.2 0.5 4.8 0.5 -1.1 0.5 -3.9 0.5 0.5 0.5 1.6 0.5 -1.1 0.5 -1.7 0.5 2.5 0.5 -0.2 0.5 -3.1 0.5 1.4 0.5 2.1 0.5 -3.8 0.5 -0.6 0.5 3.4 0.5 0.9 0.5 -2.6 0.5 -2.6 0.5 -0.2 0.5 1.7 0.5 3.2 0.5 -3 0.5 2.3 0.5 0.3 0.5 -2.7 0.5 2.3 0.5 -0.7 0.5 -0.3 0.5 -1.6 0.5 2.6 0.5 -0.6 0.5 -1.7 0.5 -0.5 0.5 -1 0.5 -1 0.5 1.9 0.5 1 0.5 -0.7 0.5 0.2 0.5 -1.6 0.5 2 0.5 -2.9 0.5 0.9 0.5 -0.2 0.5 0.9 0.5 2.7 0.5 -1.5 0.5 1.4 0.5 0.5 0.5 -2 0.5 -0.6 0.5 -1.5 0.5 2.1 0.5 2 0.5 -0.1 0.5 -1.5 0.5 -0.9 0.5 1.8 0.5 -3.2 0.5 -0.1 0.5 3.4 0.5 -0.9 0.5 1 0.5 -1.4 0.5 -3.3 0.5 3.1 0.5 -1 0.5 -0.4 0.5 2.1 0.5 0.8 0.5 -0.5 0.5 0.1 0.5 -3.5 0.5 0.9 0.5 0.7 0.5 -3.3 0.5 2.6 0.5 -2.7 0.5 1.9 0.5 -0.6 0.5 1.6 0.5 -1.1 0.5 -1 0.5 -0.4 0.5 3.7 0.5 -4.1 0.5 2.5 0.5 -0.3 0.5 -2.4 0.5 1.2 0.5 2.4 0.5 -0.3 0.5 -4.3 0.5 3.9 0.5 -3 0.5 0.6 0.5 -2.9 0.5 1.9 0.5 0.3 0.5 -1.8 0.5 0.1 0.5 1.5 0.5 -2.6 0.5 0.5 0.5 1.1 0.5 1.8 0.5 -1.5 0.5 -2.2 0.5 3.3 0.5 -3.5 0.5 1.1 0.5 -1.4 0.5 0.4 0.5 2.3 0.5 -3 0.5 3.6 0.5 -0.6 0.5 0.9 0.5 -0.8 0.5 -1.8 0.5 0.7 0.5 -1.1 0.5 0.7 0.5 0.4 0.5 -3.1 0.5 2.3 0.5 -0.1 0.5 0.6 0.5 -1 0.5 -2.4 0.5 3.5 0.5 0.3 0.5 -1.8 0.5 1.4 0.5 0.3 0.5 -5.1 0.5 4.6 0.5 -3.3 0.5 0.9 0.5 2.1 0.5 -4.5 0.5 -0.5 0.5 2.4 0.5 1 0.5 2.3 0.5 -0.1 0.5 -1 0.5 -0.3 0.5 1.4 0.5 -2.2 0.5 1.4 0.5 0.4 0.5 -2.5 0.5 1.1 0.5 -1.4 0.5 1.7 0.5 0.8 0.5 -2.4 0.5 0.4 0.5 -0.2 0.5 4 0.5 -4.9 0.5 -0.3 0.5 1.8 0.5 0 0.5 1.7 0.5 -2.9 0.5 -0.5 0.5 0.8 0.5 3 0.5 -2.4 0.5 1.5 0.5 -0.5 0.5 2.1 0.5 -4.3 0.5 2.9 0.5 1.3 0.5 0.3 0.5 -0.1 0.5 -2 0.5 2.3 0.5 -1 0.5 1.2 0.5 0.1 0.5 -1.7 0.5 -2.7 0.5 4.7 0.5 -4.2 0.5 2 0.5 -3.2 0.5 -0.1 0.5 4.2 0.5 0.6 0.5 -3.7 0.5 0.8 0.5 -2.4 0.5 -0.3 0.5 0.2 0.5 4.1 0.5 -3.9 0.5 -0.7 0.5 2.2 0.5 -1.8 0.5 3.7 0.5 -0.7 0.5 -0.4 0.5 -2.3 0.5 1.9 0.5 0 0.5 -2.9 0.5 3.6 0.5 1.3 0.5 -3.6 0.5 2.9 0.5 -3.6 0.5 -0.9 0.5 1.9 0.5 0.5 0.5 -0.7 0.5 -1 0.5 -1.1 0.5 1.7 0.5 -1.8 0.5 0.6 0.5 3.2 0.5 -0.2 0.5 0.3 0.5 -2.4 0.5 0.4 0.5 1.9 0.5 -1.1 0.5 -3.6 0.5 3.3 0.5 -2.9 0.5 1.7 0.5 -3.2 0.5 1.8 0.5 -0.1 0.5 0.7 0.5 -0.8 0.5 -1.4 0.5 3.5 0.5 -2.7 0.5 -1.9 0.5 3 0.5 -0.2 0.5 -3.9 0.5 0.1 0.5 -0.8 0.5 2.5 0.5 -0.1 0.5 2.2 0.5 -3.6 0.5 -0.8 0.5 4 0.5 -3.8 0.5 2.2 0.5 -2.8 0.5 3.7 0.5 -3.6 0.5 -0.2 0.5 0.5 0.5 3.5 0.5 -2.1 0.5 0.4 0.5 -2.2 0.5 3.6 0.5 0 0.5 -3 0.5 1.8 0.5 0.9 0.5 -2.3 0.5 -0.5 0.5 0.7 0.5 -3.3 0.5 0.3 0.5 2 0.5 -0.8 0.5 -0.8 0.5 1.2 0.5 -0.1 0.5 -0.3 0.5 2.6 0.5 -3.8 0.5 4.2 0.5 -0.5 0.5 -2.6 0.5 1.9 0.5 1.1 0.5 -1 0.5 -2 0.5 1.1 0.5 1 0.5 0.7 0.5 -1.2 0.5 0.8 0.5 0.6 0.5 0.2 0.5 -0.1 0.5 -1.6 0.5 2.2 0.5 -3.7 0.5 2 0.5 -2.1 0.5 -0.3 0.5 2.2 0.5 0.2 0.5 1.4 0.5 -0.7 0.5 0 0.5 -1.4 0.5 -0.3 0.5 1.9 0.5 0.6 0.5 -3 0.5 -0.7 0.5 1.1 0.5 0.5 0.5 3.1 0.5 -1 0.5 0 0.5 0.7 0.5 -0.5 0.5 -3.8 0.5 0.2 0.5 2.9 0.5 0.7 0.5 -2.8 0.5 3.3 0.5 -4.3 0.5 -0.6 0.5 4.7 0.5 -3.1 0.5 -1.2 0.5 4.3 0.5 -3.2 0.5 2.8 0.5 0.6 0.5 -3.1 0.5 -0.2 0.5 1.6 0.5 -2.7 0.5 3.6 0.5 0.1 0.5 -5.1 0.5 4 0.5 -2.9 0.5 0.7 0.5 -1.2 0.5 3.2 0.5 -1.3 0.5 0.1 0.5 0.1 0.5 -1.9 0.5 2.2 0.5 -4.7 0.5 2 0.5 -0.6 0.5 -0.4 0.5 -0.1 0.5 0.2 0.5 -2.3 0.5 1.1 0.5 -1.3 0.5 3.3 0.5 -0.7 0.5 -4.5 0.5 0.1 0.5 1.3 0.5 2.1 0.5 1.4 0.5 -0.6 0.5 -4.8 0.5 0.8 0.5 3.8 0.5 -2.8 0.5 0.6 0.5 -0.7 0.5 0.3 0.5 -2.4 0.5 3.8 0.5 -2.2 0.5 0.7 0.5 -1.3 0.5 -0.6 0.5 0.3 0.5 0.8 0.5 -1.6 0.5 2.8 0.5 -2.3 0.5 3.4 0.5 -0.3 0.5 0.5 0.5 -1.6 0.5 -0.1 0.5 -1.1 0.5 -1.5 0.5 4 0.5 -0.9 0.5 -1.7 0.5 1.3 0.5 1.3 0.5 -4 0.5 -0.8 0.5 1.3 0.5 -1.3 0.5 3.2 0.5 -0.8 0.5 -4.2 0.5 0.8 0.5 1.8 0.5 -1.4 0.5 2.2 0.5 -0.3 0.5 -4.9 0.5 4.8 0.5 -4.4 0.5 0.2 0.5 2.7 0.5 -0.4 0.5 -3 0.5 3.9 0.5 -2.8 0.5 0.6 0.5 -2.5 0.5 3.4 0.5 -0.3 0.5 -2.8 0.5 0.8 0.5 -2.4 0.5 4 0.5 -3.5 0.5 3.4 0.5 -3.5 0.5 1.7 0.5 2.3 0.5 -3.9 0.5 0.4 0.5 1.2 0.5 1 0.5 -3.1 0.5 1.9 0.5 -1 0.5 -0.2 0.5 -0.1 0.5 2 0.5 0.1 0.5 -2.8 0.5 0 0.5 2.9 0.5 0.9 0.5 -2.3 0.5 2.3 0.5 -1.6 0.5 -1.7 0.5 3.7 0.5 -4 0.5 3.6 0.5 0.1 0.5 -2.9 0.5 -1.9 0.5 4.3 0.5 -2.2 0.5 -1 0.5 1.1 0.5 1.6 0.5 -1.2 0.5 -0.9 0.5 0.8 0.5 -1.2 0.5 -1.2 0.5 2.2 0.5 -2.2 0.5 0.6 0.5 -2.1 0.5 2 0.5 0.8 0.5 -3.1 0.5 2.1 0.5 0.4 0.5 -2 0.5 -1.2 0.5 -0.4 0.5 -1.7 0.5 1.4 0.5 -0.3 0.5 -0.1 0.5 0.3 0.5 -0.7 0.5 2.9 0.5 -1.4 0.5 1.3 0.5 -3.4 0.5 4.1 0.5 -3.4 0.5 0.3 0.5 2 0.5 0.7 0.5 -0.9 0.5 -0.7 0.5 -1.7 0.5 -0.7 0.5 0.8 0.5 -0.3 0.5 1.9 0.5 1 0.5 -0.2 0.5 -2 0.5 1.6 0.5 1.9 0.5 -1.7 0.5 -1.9 0.5 3.2 0.5 -2.8 0.5 3.1 0.5 -1.1 0.5 -3 0.5 -0.5 0.5 1.1 0.5 3.4 0.5 0.3 0.5 -2.1 0.5 -2 0.5 1.9 0.5 2.1 0.5 -1.4 0.5 -2.5 0.5 2.4 0.5 2.5 0.5 -4.7 0.5 0.9 0.5 2.9 0.5 -0.5 0.5 1.2 0.5 -4.1 0.5 2 0.5 0.3 0.5 0.4 0.5 -2.2 0.5 2.8 0.5 1.6 0.5 -3.2 0.5 3.3 0.5 -2 0.5 1.4 0.5 -0.1 0.5 0.6 0.5 0.2 0.5 -1.8 0.5 -1.3 0.5 0.4 0.5 -0.4 0.5 -0.7 0.5 5 0.5 -1.6 0.5 -1.9 0.5 0.4 0.5 -0.8 0.5 3.9 0.5 -0.2 0.5 -3 0.5 2.7 0.5 -4.3 0.5 2.9 0.5 -2.5 0.5 3.2 0.5 -4.3 0.5 1.3 0.5 1.8 0.5 -3.1 0.5 2.3 0.5 0 0.5 0.6 0.5 0.3 0.5 -4.5 0.5 -0.1 0.5 0.5 0.5 0.8 0.5 1.2 0.5 0 0.5 0.2 0.5 -3.8 0.5 0.9 0.5 2.3 0.5 -2.5 0.5 1 0.5 0.3 0.5 -3.4 0.5 2.2 0.5 -1.9 0.5 0.7 0.5 2.2 0.5 -3.5 0.5 2.7 0.5 -1.4 0.5 -3.7 0.5 0.5 0.5 1.7 0.5 0.8 0.5 0.9 0.5 -2.6 0.5 0.2 0.5 2.5 0.5 -4.3 0.5 2.4 0.5 1.1 0.5 -2.4 0.5 3 0.5 -1.1 0.5 -2.1 0.5 2.6 0.5 -0.3 0.5 -2.8 0.5 1.1 0.5 -0.6 0.5 0.4 0.5 3 0.5 -1.8 0.5 -1.2 0.5 2.4 0.5 -2.7 0.5 0.7 0.5 2.8 0.5 -1.7 0.5 -1.5 0.5 0.9 0.5 1.8 0.5 0.3 0.5 1.7 0.5 -0.1 0.5 -1.5 0.5 3 0.5 -3 0.5 -0.6 0.5 -1.2 0.5 2.1 0.5 0.3 0.5 0.4 0.5 -0.6 0.5 0.3 0.5 0.7 0.5 -2.1 0.5 1.9 0.5 -1.3 0.5 -3.5 0.5 1.1 0.5 1.2 0.5 -2.8 0.5 3.1 0.5 -0.8 0.5 -1.2 0.5 -2.2 0.5 1.6 0.5 0.8 0.5 -1.4 0.5 -2.6 0.5 3.5 0.5 -2.8 0.5 1.3 0.5 -0.8 0.5 0.2 0.5 -3.5 0.5 -1.6 0.5 4 0.5 -1.2 0.5 -1.9 0.5 -0.2 0.5 1 0.5 2.3 0.5 -3.8 0.5 4 0.5 -2.8 0.5 2.4 0.5 -3 0.5 2 0.5 -0.3 0.5 1.3 0.5 0.6 0.5 -1.8 0.5 0.5 0.5 -2.4 0.5 -0.6 0.5 2.4 0.5 -2.5 0.5 0.4 0.5 1.9 0.5 -2.5 0.5 0.1 0.5 2.9 0.5 -0.8 0.5 -1.9 0.5 2.2 0.5 0.7 0.5 -1.8 0.5 -2 0.5 0.1 0.5 2.8 0.5 -3.5 0.5 4 0.5 -0.7 0.5 -3.8 0.5 -0.1 0.5 3.4 0.5 -0.8 0.5 0.3 0.5 -1.8 0.5 -1.3 0.5 -1.4 0.5 -1.1 0.5 2.5 0.5 0.2 0.5 -0.3 0.5 -2.3 0.5 1.9 0.5 0 0.5 -1.5 0.5 -1.7 0.5 4.7 0.5 -1.7 0.5 0 0.5 -2.6 0.5 3.1 0.5 -0.1 0.5 -0.3 0.5 1.7 0.5 1.6 0.5 0.5 0.5 -3.7 0.5 0.5 0.5 1.8 0.5 2.2 0.5 -2.7 0.5 0.5 0.5 0.3 0.5 1.3 0.5 2.1 0.5 -1.6 0.5 -0.9 0.5 -0.3 0.5 0.2 0.5 0.4 0.5 -2 0.5 0.6 0.5 0.5 0.5 -2.4 0.5 -0.2 0.5 -1.5 0.5 0.4 0.5 1.8 0.5 1.1 0.5 -2.5 0.5 0.3 0.5 0.5 0.5 -1.3 0.5 1.2 0.5 -3.4 0.5 -0.3 0.5 4 0.5 -1.8 0.5 -3.5 0.5 2.6 0.5 1.6 0.5 -0.1 0.5 0.2 0.5 -2.7 0.5 -1.9 0.5 4 0.5 0.3 0.5 -4.7 0.5 0.7 0.5 0.1 0.5 0 0.5 2.8 0.5 -2.7 0.5 -1.5 0.5 3.9 0.5 -1.1 0.5 1.8 0.5 -0.6 0.5 1.7 0.5 -2.3 0.5 0 0.5 2.4 0.5 -4 0.5 0.9 0.5 2.9 0.5 0 0.5 -1.1 0.5 -0.7 0.5 0.7 0.5 0.3 0.5 -1.3 0.5 -0.8 0.5 0.3 0.5 -1.1 0.5 0.4 0.5 2 0.5 -3.7 0.5 4.3 0.5 -3.2 0.5 1.5 0.5 -2.1 0.5 3 0.5 -0.5 0.5 -3.1 0.5 1.4 0.5 0 0.5 0.4 0.5 -3.1 0.5 3.8 0.5 -0.4 0.5 -0.4 0.5 -1.3 0.5 1.6 0.5 -0.1 0.5 -1.4 0.5 0.7 0.5 2.9 0.5 -3.3 0.5 1.1 0.5 -0.8 0.5 1.6 0.5 -1.5 0.5 2.6 0.5 -4.2 0.5 0.5 0.5 3.3 0.5 -1.8 0.5 0.1 0.5 -1.6 0.5 -2.3 0.5 -0.2 0.5 3.6 0.5 1 0.5 -2.7 0.5 1.2 0.5 -2 0.5 2.2 0.5 -2.4 0.5 0.6 0.5 2.2 0.5 -1.3 0.5 0.1 0.5 -2.4 0.5 1.6 0.5 0 0.5 1.1 0.5 -1.1 0.5 4 0.5 -0.3 0.5 0.1 0.5 -1.9 0.5 1.5 0.5 -1.3 0.5 -0.1 0.5 3.4 0.5 -0.5 0.5 0.7 0.5 -1 0.5 0.5 0.5 1.8 0.5 -2 0.5 -1.5 0.5 -0.3 0.5 3.5 0.5 -3.7 0.5 -1 0.5 2.4 0.5 -2.7 0.5 1.7 0.5 -1 0.5 0 0.5 2.1 0.5 -2.2 0.5 3.1 0.5 -0.5 0.5 0.2 0.5 -2.8 0.5 0.5 0.5 -0.3 0.5 0.7 0.5 -0.8 0.5 0.5 0.5 0.9 0.5 -0.3 0.5 0.7 0.5 0.2 0.5 -2.5 0.5 2.5 0.5 -2.7 0.5 -1 0.5 0.9 0.5 -0.6 0.5 0 0.5 -0.6 0.5 4.1 0.5 -3.2 0.5 3.5 0.5 0.2 0.5 0.6 0.5 -3.3 0.5 -1.7 0.5 3.8 0.5 -0.2 0.5 0.4 0.5 -2.3 0.5 1.4 0.5 -3.1 0.5 -1.7 0.5 0.6 0.5 3.1 0.5 -0.9 0.5 -3.3 0.5 0.9 0.5 0.6 0.5 2.2 0.5 -0.6 0.5 -3.2 0.5 0 0.5 3.3 0.5 -0.9 0.5 0 0.5 -1.8 0.5 2.6 0.5 -3.7 0.5 -0.7 0.5 4.7 0.5 -4.2 0.5 -0.6 0.5 4.2 0.5 -1.8 0.5 2.3 0.5 -2.4 0.5 0.9 0.5 -0.9 0.5 0.4 0.5 -1.3 0.5 -0.8 0.5 2.3 0.5 0.1 0.5 0.9 0.5 -2.6 0.5 0.9 0.5 -0.9 0.5 -0.6 0.5 1 0.5 -0.9 0.5 0.3 0.5 1.7 0.5 -0.2 0.5 -1.5 0.5 -1.5 0.5 4.7 0.5 0.2 0.5 -3.4 0.5 1.4 0.5 -2.4 0.5 2.5 0.5 -2.5 0.5 1.6 0.5 2 0.5 -1 0.5 -2.6 0.5 2.9 0.5 -3 0.5 2 0.5 -2.4 0.5 3.2 0.5 -3.8 0.5 0.4 0.5 2.3 0.5 -3.2 0.5 3.6 0.5 -2.3 0.5 2.4 0.5 -3.2 0.5 1.7 0.5 -0.9 0.5 1.2 0.5 -3.1 0.5 -1.6 0.5 4.3 0.5 -3.6 0.5 2.8 0.5 -2.8 0.5 -0.3 0.5 -0.4 0.5 2.5 0.5 -3.5 0.5 2.7 0.5 -1.1 0.5 0.3 0.5 1.6 0.5 -4.3 0.5 3.5 0.5 -0.4 0.5 -1.7 0.5 -1.1 0.5 4.9 0.5 -1.5 0.5 2.2 0.5 -2.3 0.5 -1 0.5 1 0.5 1.5 0.5 -4.1 0.5 3.9 0.5 -3.6 0.5 0.4 0.5 0 0.5 -2.4 0.5 0.6 0.5 0.4 0.5 -0.1 0.5 -1.5 0.5 3.7 0.5 0.7 0.5 -3 0.5 -1.3 0.5 3.3 0.5 -0.6 0.5 -1.7 0.5 4.2 0.5 -1.4 0.5 1.1 0.5 -3.6 0.5 1.6 0.5 1 0.5 -1.3 0.5 1.9 0.5 0.3 0.5 -1.3 0.5 -2.5 0.5 -0.1 0.5 0.5 0.5 -2.2 0.5 2.3 0.5 0.7 0.5 -3.3 0.5 3.6 0.5 -0.4 0.5 0.8 0.5 -2.7 0.5 3.1 0.5 -2.5 0.5 1.2 0.5 2.6 0.5 -0.8 0.5 -1.7 0.5 2.8 0.5 -4.2 0.5 -0.1 0.5 3.5 0.5 -2.5 0.5 2 0.5 -3.9 0.5 0 0.5 2 0.5 -0.5 0.5 1.2 0.5 -0.8 0.5 1.9 0.5 -4.7 0.5 2.3 0.5 1.4 0.5 -2.9 0.5 4.5 0.5 -0.8 0.5 -1.3 0.5 1.2 0.5 -1.5 0.5 1.3 0.5 -1.4 0.5 -0.5 0.5 0.9 0.5 3 0.5 -2.2 0.5 2 0.5 1.2 0.5 -3.8 0.5 2.9 0.5 -1.5 0.5 0.9 0.5 1.4 0.5 -0.9 0.5 0 0.5 -3.7 0.5 3.2 0.5 0.5 0.5 -0.4 0.5 -1.1 0.5 0 0.5 -1.7 0.5 1.6 0.5 -1.3 0.5 -3.7 0.5 1 0.5 -1.7 0.5 3.7 0.5 -5.2 0.5 2.2 0.5 0.7 0.5 -1.8 0.5 2.4 0.5 -3.1 0.5 0.2 0.5 -0.8 0.5 3.3 0.5 -1 0.5 0.7 0.5 -0.6 0.5 -0.8 0.5 -2 0.5 4 0.5 1.1 0.5 -4 0.5 2.3 0.5 -0.1 0.5 -3.2 0.5 2.7 0.5 0.7 0.5 0.8 0.5 -1.4 0.5 -2.8 0.5 2.8 0.5 2.3 0.5 -2 0.5 0.7 0.5 -3.1 0.5 4.3 0.5 -2.6 0.5 -1.4 0.5 4 0.5 -2.9 0.5 3.1 0.5 -2.9 0.5 -0.8 0.5 3.8 0.5 -5.2 0.5 2.1 0.5 0.8 0.5 1.6 0.5 -2.2 0.5 -0.6 0.5 -1.3 0.5 0.1 0.5 -0.2 0.5 1.1 0.5 -1.9 0.5 3.9 0.5 0.5 0.5 -2.6 0.5 1.5 0.5 1.6 0.5 -1 0.5 -1.7 0.5 -2.3 0.5 1.4 0.5 -1 0.5 -1.1 0.5 0 0.5 1.8 0.5 1 0.5 -3.7 0.5 1.1 0.5 -0.9 0.5 3.3 0.5 0 0.5 -2.5 0.5 2.7 0.5 -1.4 0.5 2.1 0.5 -0.1 0.5 -0.1 0.5 -0.7 0.5 1.3 0.5 -1.9 0.5 0.3 0.5 -3.3 0.5 2.3 0.5 1.2 0.5 0.5 0.5 -3.6 0.5 4.3 0.5 -3.5 0.5 -0.7 0.5 -1 0.5 1.4 0.5 2.7 0.5 -1.7 0.5 -2.5 0.5 2 0.5 0.5 0.5 1.5 0.5 -0.6 0.5 -2 0.5 2.6 0.5 -0.5 0.5 -2.4 0.5 3.3 0.5 -0.1 0.5 1.1 0.5 -1.4 0.5 0.8 0.5 -2.4 0.5 1.7 0.5 -3.7 0.5 3.4 0.5 -4 0.5 2.8 0.5 -0.3 0.5 -2.3 0.5 1.7 0.5 -0.9 0.5 2.8 0.5 -1.8 0.5 0.6 0.5 -2.1 0.5 2.9 0.5 -2 0.5 3.1 0.5 -0.3 0.5 -4 0.5 0.7 0.5 -0.6 0.5 3.9 0.5 -1.1 0.5 -3.5 0.5 3.1 0.5 0.8 0.5 -3.6 0.5 1 0.5 0.1 0.5 -0.4 0.5 -0.2 0.5 2.8 0.5 -2.5 0.5 3 0.5 -1.3 0.5 -1.7 0.5 1.7 0.5 2.2 0.5 0 0.5 0.6 0.5 -2 0.5 -2.1 0.5 0.2 0.5 3.3 0.5 -1.1 0.5 1.9 0.5 0 0.5 -1 0.5 0.9 0.5 -1.8 0.5 1.9 0.5 -2.3 0.5 0.5 0.5 2 0.5 -1 0.5 -1.2 0.5 -2.4 0.5 -0.3 0.5 3.8 0.5 -4.5 0.5 3.2 0.5 0.3 0.5 -1.7 0.5 -0.7 0.5 2 0.5 2.1 0.5 -2.1 0.5 0.9 0.5 -1 0.5 -1 0.5 2 0.5 0.5 0.5 -1.1 0.5 1.6 0.5 0.3 0.5 -4.6 0.5 0.4 0.5 1.8 0.5 -1 0.5 -2.8 0.5 1.2 0.5 -0.4 0.5 2.9 0.5 -4.6 0.5 3.8 0.5 0.1 0.5 -3.3 0.5 0.9 0.5 0.1 0.5 1.8 0.5 -3.6 0.5 1.4 0.5 -0.5 0.5 2.3 0.5 0.2 0.5 -4.2 0.5 2 0.5 -0.3 0.5 -2.3 0.5 1.8 0.5 -1.8 0.5 0.5 0.5 0.9 0.5 -1.8 0.5 0.9 0.5 0.4 0.5 -1.5 0.5 4.6 0.5 0.4 0.5 -1.6 0.5 0.4 0.5 -3.2 0.5 1.6 0.5 -2.6 0.5 0.9 0.5 -1.1 0.5 3.5 0.5 -0.1 0.5 -4.1 0.5 -0.6 0.5 -0.1 0.5 4 0.5 -3.6 0.5 0.7 0.5 2.2 0.5 -4.7 0.5 3 0.5 -0.3 0.5 -1.8 0.5 2.1 0.5 1.1 0.5 -3.8 0.5 -0.1 0.5 2.1 0.5 0.9 0.5 0.5 0.5 0.9 0.5 -0.6 0.5 -1.7 0.5 0.3 0.5 0.5 0.5 -0.7 0.5 2.2 0.5 -3.5 0.5 3.1 0.5 -3.3 0.5 0.6 0.5 1 0.5 2.1 0.5 -0.1 0.5 -1 0.5 -1.6 0.5 0.6 0.5 -2.7 0.5 2.3 0.5 1.3 0.5 -1.4 0.5 -0.8 0.5 -0.7 0.5 0.4 0.5 -0.1 0.5 0.9 0.5 1.9 0.5 -2.9 0.5 0.7 0.5 1.1 0.5 -2.8 0.5 2.1 0.5 -0.4 0.5 1.2 0.5 -0.5 0.5 -3.6 0.5 1.3 0.5 -1.5 0.5 3.5 0.5 -0.4 0.5 -0.5 0.5 1.2 0.5 0.2 0.5 -3 0.5 2.7 0.5 -1.8 0.5 2.1 0.5 -4.6 0.5 0.4 0.5 2.9 0.5 -2.6 0.5 2.7 0.5 -2.7 0.5 3.8 0.5 -1.7 0.5 -2.5 0.5 1.5 0.5 1.2 0.5 1.2 0.5 -2.3 0.5 2.1 0.5 -0.2 0.5 0.9 0.5 -2.7 0.5 -1.6 0.5 0.3 0.5 2.9 0.5 -2 0.5 0.2 0.5 -1.4 0.5 2.5 0.5 -4 0.5 4.9 0.5 -1.2 0.5 -2.8 0.5 2.6 0.5 -2.3 0.5 0.4 0.5 1.7 0.5 -0.2 0.5 1.3 0.5 -0.7 0.5 -3.5 0.5 0.9 0.5 -0.9 0.5 3.6 0.5 -0.6 0.5 1.5 0.5 -2.3 0.5 0.3 0.5 0.3 0.5 -2.7 0.5 1 0.5 1.3 0.5 -1.5 0.5 0.5 0.5 -2.8 0.5 1.9 0.5 0 0.5 1.7 0.5 0.1 0.5 0.4 0.5 -0.7 0.5 -1.2 0.5 1.1 0.5 -0.8 0.5 -0.2 0.5 -0.5 0.5 2.6 0.5 -3.3 0.5 -1 0.5 -0.4 0.5 1.2 0.5 -1.4 0.5 3.4 0.5 -3.2 0.5 0.5 0.5 2.1 0.5 0.9 0.5 -0.3 0.5 -0.5 0.5 0.5 0.5 -2.1 0.5 3.5 0.5 -2.8 0.5 1.3 0.5 -0.9 0.5 -0.4 0.5 -1.2 0.5 3.7 0.5 -1.8 0.5 0.5 0.5 -1.4 0.5 -1.3 0.5 1.1 0.5 0.2 0.5 -1.6 0.5 -1.9 0.5 4.1 0.5 -3 0.5 3.1 0.5 -0.4 0.5 0.1 0.5 -4.6 0.5 2.6 0.5 0.9 0.5 -3.2 0.5 2.7 0.5 1.3 0.5 -0.2 0.5 1.1 0.5 -0.7 0.5 -3.6 0.5 2.1 0.5 -0.7 0.5 1.3 0.5 0.1 0.5 -0.3 0.5 1.3 0.5 -2.4 0.5 1.5 0.5 -1.3 0.5 -0.1 0.5 -2.9 0.5 3 0.5 0.2 0.5 -2.9 0.5 1.5 0.5 -0.7 0.5 -3.1 0.5 1 0.5 1.6 0.5 -3.3 0.5 1.3 0.5 0.6 0.5 -0.3 0.5 -2.3 0.5 0.8 0.5 1.7 0.5 -0.5 0.5 1 0.5 -0.6 0.5 0.8 0.5 -2.2 0.5 2 0.5 0.4 0.5 -1.6 0.5 -1.6 0.5 3.4 0.5 -0.9 0.5 -0.4 0.5 -1.8 0.5 2 0.5 -2.4 0.5 3.5 0.5 -4.1 0.5 4 0.5 -4.6 0.5 4.4 0.5 -3.7 0.5 -0.7 0.5 0.3 0.5 2.8 0.5 -0.3 0.5 -3.7 0.5 1.3 0.5 -1 0.5 2.4 0.5 -0.7 0.5 1.5 0.5 -1.3 0.5 -0.6 0.5 1.9 0.5 -3.5 0.5 -0.5 0.5 1.6 0.5 1.7 0.5 -2.2 0.5 3.2 0.5 -2.9 0.5 -0.9 0.5 3.8 0.5 -3.6 0.5 -0.6 0.5 2.6 0.5 -0.1 0.5 -1.6 0.5 -1.1 0.5 2.9 0.5 -5.1 0.5 2.8 0.5 -2.3 0.5 0.8 0.5 -0.4 0.5 -0.3 0.5 -0.6 0.5 2.4 0.5 -0.9 0.5 1.4 0.5 -0.7 0.5 -1.7 0.5 0.4 0.5 1.3 0.5 -3.6 0.5 -0.7 0.5 2.6 0.5 -0.4 0.5 0.5 0.5 -0.3 0.5 -1.9 0.5 3.5 0.5 0.1 0.5 -3.9 0.5 0.5 0.5 2.6 0.5 -2.1 0.5 -0.3 0.5 1.1 0.5 -3.9 0.5 -0.6 0.5 2.3 0.5 -1.7 0.5 -1.3 0.5 -0.9 0.5 -0.2 0.5 3.2 0.5 -3 0.5 -1.7 0.5 0.7 0.5 -0.8 0.5 3.9 0.5 -3.5 0.5 0.5 0.5 0.2 0.5 -1.9 0.5 3.2 0.5 -1.4 0.5 2.9 0.5 -2.4 0.5 -0.5 0.5 -0.6 0.5 1.2 0.5 2.2 0.5 0.2 0.5 -2.8 0.5 1.4 0.5 -3.2 0.5 3.1 0.5 -1.7 0.5 -1.6 0.5 1.8 0.5 -1.1 0.5 -0.7 0.5 0.5 0.5 2.1 0.5 -3.7 0.5 -0.6 0.5 1.8 0.5 -0.1 0.5 -2.1 0.5 0.7 0.5 0.3 0.5 -0.7 0.5 -1.5 0.5 0.2 0.5 1.5 0.5 3.3 0.5 -1.6 0.5 2 0.5 -2 0.5 0.4 0.5 -0.8 0.5 2 0.5 -0.3 0.5 -2.9 0.5 1.7 0.5 1 0.5 0 0.5 -2.4 0.5 1.4 0.5 2.2 0.5 -1.3 0.5 1.9 0.5 -2.6 0.5 2.2 0.5 -3.3 0.5 3.7 0.5 -1.1 0.5 2.2 0.5 -2.1 0.5 -0.2 0.5 -2.2 0.5 3.8 0.5 -3.9 0.5 1.2 0.5 2.8 0.5 -4.4 0.5 3.9 0.5 -0.7 0.5 -2.9 0.5 2.9 0.5 -0.1 0.5 1.9 0.5 0.1 0.5 -3.8 0.5 4.5 0.5 -4.3 0.5 3.5 0.5 -1.9 0.5 2.5 0.5 -2.2 0.5 -2.1 0.5 4.6 0.5 -3.2 0.5 1.8 0.5 0.9 0.5 -2.9 0.5 1.8 0.5 -1.9 0.5 2.4 0.5 0.6 0.5 -4.2 0.5 2.9 0.5 0.7 0.5 -3 0.5 -1.6 0.5 2.3 0.5 0.4 0.5 -2.2 0.5 -1.5 0.5 3 0.5 -2.1 0.5 1.2 0.5 1.8 0.5 -3.2 0.5 2 0.5 -1.6 0.5 2.4 0.5 -1.1 0.5 1.1 0.5 -2.1 0.5 2 0.5 -3 0.5 2.4 0.5 -2.9 0.5 3.3 0.5 0.9 0.5 -1.4 0.5 -0.7 0.5 2.2 0.5 -1 0.5 0.9 0.5 -1.3 0.5 1.3 0.5 0.5 0.5 -3.1 0.5 3 0.5 -0.4 0.5 -3.1 0.5 -0.3 0.5 1.7 0.5 1.8 0.5 -4.2 0.5 3.3 0.5 -1.5 0.5 2 0.5 -4.1 0.5 3.3 0.5 -1.9 0.5 1.9 0.5 -3 0.5 4.9 0.5 -0.1 0.5 -2.7 0.5 0.6 0.5 2.7 0.5 -0.9 0.5 -1.2 0.5 -1.9 0.5 0.9 0.5 2.1 0.5 1.3 0.5 -3.5 0.5 2.5 0.5 -1.2 0.5 2.4 0.5 -3.8 0.5 -0.2 0.5 3.9 0.5 -3.1 0.5 3.9 0.5 0.5 0.5 -1.2 0.5 1.2 0.5 -1.4 0.5 1.4 0.5 -0.2 0.5 -4.8 0.5 -0.2 0.5 -0.6 0.5 3.1 0.5 1.2 0.5 -0.8 0.5 -3.9 0.5 4.1 0.5 -0.7 0.5 -3.9 0.5 0.8 0.5 -0.5 0.5 3.8 0.5 0.9 0.5 -3.2 0.5 4 0.5 -2.6 0.5 2 0.5 -0.3 0.5 -1.9 0.5 3 0.5 -3.2 0.5 2.8 0.5 -3 0.5 -0.3 0.5 -1 0.5 1.4 0.5 0.6 0.5 -0.9 0.5 2.2 0.5 0.5 0.5 -4.3 0.5 2.2 0.5 -3.2 0.5 4 0.5 -3.7 0.5 0.9 0.5 -1.2 0.5 -0.1 0.5 2.6 0.5 -3.1 0.5 -0.6 0.5 3 0.5 -2 0.5 1.1 0.5 -0.6 0.5 -3.3 0.5 3.2 0.5 -3.7 0.5 3 0.5 0.1 0.5 -0.6 0.5 -0.6 0.5 0.9 0.5 0.6 0.5 -2.9 0.5 2 0.5 -0.2 0.5 -1.4 0.5 2.1 0.5 0.5 0.5 -2.8 0.5 2.6 0.5 -3 0.5 1.5 0.5 -3.9 0.5 3.6 0.5 -3.6 0.5 3.3 0.5 -4.7 0.5 2.5 0.5 -3.5 0.5 2.1 0.5 -0.6 0.5 2.4 0.5 -0.4 0.5 -1.7 0.5 -0.4 0.5 1.6 0.5 -1.8 0.5 -0.5 0.5 -2.1 0.5 4.1 0.5 -2.1 0.5 -1.4 0.5 -0.6 0.5 0.9 0.5 0.8 0.5 0.9 0.5 -2.4 0.5 2.4 0.5 -5.3 0.5 1.9 0.5 -1.8 0.5 0.4 0.5 -1.1 0.5 4.1 0.5 -3.4 0.5 1.1 0.5 -1.8 0.5 0.5 0.5 3 0.5 -3 0.5 -0.5 0.5 0.1 0.5 3.8 0.5 -1.7 0.5 0.8 0.5 -2.8 0.5 1.3 0.5 -1 0.5 3 0.5 -3.9 0.5 2.5 0.5 -2.8 0.5 1.1 0.5 0.5 0.5 1.5 0.5 0.4 0.5 -1.1 0.5 -0.2 0.5 0.1 0.5 -1 0.5 0.1 0.5 1.1 0.5 -1.8 0.5 -1.8 0.5 3.6 0.5 -0.4 0.5 -0.5 0.5 -2.6 0.5 4 0.5 -0.8 0.5 1.8 0.5 -3.5 0.5 2.8 0.5 -2.3 0.5 1.4 0.5 -1.9 0.5 1.2 0.5 -0.9 0.5 1.6 0.5 -0.7 0.5 0.8 0.5 -1.9 0.5 2.1 0.5 -3.7 0.5 2.3 0.5 -2 0.5 -0.2 0.5 2.2 0.5 -2.4 0.5 0.1 0.5 0.7 0.5 -1.5 0.5 0.7 0.5 1.3 0.5 -2.7 0.5 0.4 0.5 2.7 0.5 -0.4 0.5 -2.5 0.5 2.2 0.5 -0.1 0.5 0 0.5 1 0.5 -3.6 0.5 0.6 0.5 4.1 0.5 -2.8 0.5 -2.1 0.5 3 0.5 -3.5 0.5 -0.1 0.5 2.3 0.5 -0.9 0.5 -2.6 0.5 4.5 0.5 -4.2 0.5 2.2 0.5 -3.1 0.5 2.3 0.5 2.7 0.5 -3.3 0.5 -1.1 0.5 1.5 0.5 1.9 0.5 -1.7 0.5 -1.2 0.5 1.7 0.5 0.9 0.5 -1.9 0.5 -0.6 0.5 0.1 0.5 2.9 0.5 -1.8 0.5 -1 0.5 -0.2 0.5 -0.5 0.5 0.3 0.5 1.7 0.5 1.6 0.5 -2.2 0.5 -2.3 0.5 3.3 0.5 -0.9 0.5 -2.3 0.5 -0.3 0.5 -0.3 0.5 5.1 0.5 0.2 0.5 -2 0.5 -2.4 0.5 4.2 0.5 -3 0.5 1.3 0.5 -1.2 0.5 1.9 0.5 -3.3 0.5 2.6 0.5 -0.1 0.5 1.1 0.5 -2.4 0.5 -0.9 0.5 -0.1 0.5 2.4 0.5 -2.5 0.5 0.7 0.5 -2.7 0.5 4.5 0.5 -3.4 0.5 2.6 0.5 -0.4 0.5 -3.6 0.5 4.2 0.5 -4.3 0.5 2.1 0.5 -0.8 0.5 1.2 0.5 -0.5 0.5 3 0.5 -1.6 0.5 1.8 0.5 -0.6 0.5 -1.3 0.5 0.5 0.5 -1.3 0.5 1.1 0.5 -3.7 0.5 2.7 0.5 -1.3 0.5 0.5 0.5 -1 0.5 0.6 0.5 2.3 0.5 0 0.5 -4.4 0.5 0.6 0.5 3.4 0.5 -4.5 0.5 0 0.5 1.3 0.5 0.7 0.5 -1 0.5 -0.5 0.5 -0.1 0.5 -0.4 0.5 0.2 0.5 2.8 0.5 -1 0.5 2.5 0.5 -0.7 0.5 -3.5 0.5 -0.7 0.5 3.2 0.5 1.8 0.5 -4.3 0.5 1.7 0.5 -1.8 0.5 2.8 0.5 0.6 0.5 0.1 0.5 0.2 0.5 -4 0.5 1.3 0.5 -1 0.5 1.8 0.5 -1.4 0.5 1.4 0.5 -1.5 0.5 -0.6 0.5 0.1 0.5 3.1 0.5 1 0.5 -1.9 0.5 2.1 0.5 0.7 0.5 -1.3 0.5 0 0.5 -1.4 0.5 -2 0.5 3.6 0.5 0.9 0.5 -1.9 0.5 -1.9 0.5 2.5 0.5 -1.4 0.5 -2.2 0.5 3 0.5 -1.3 0.5 1.1 0.5 -0.1 0.5 -1.6 0.5 1.2 0.5 -2.3 0.5 2.1 0.5 -3.3 0.5 0 0.5 2.9 0.5 0.9 0.5 -4.9 0.5 4.5 0.5 -4.7 0.5 4 0.5 -2 0.5 -0.9 0.5 0.2 0.5 1 0.5 -3.2 0.5 4.3 0.5 -2.8 0.5 -0.3 0.5 0.6 0.5 0.4 0.5 -2.7 0.5 1.3 0.5 2.2 0.5 -2.4 0.5 3.4 0.5 -0.8 0.5 -3.3 0.5 0.3 0.5 1.4 0.5 -0.8 0.5 1.4 0.5 -1.1 0.5 -0.8 0.5 1.5 0.5 -0.5 0.5 -1.5 0.5 2.5 0.5 -1.5 0.5 1.6 0.5 -0.6 0.5 0.6 0.5 0.8 0.5 -3.2 0.5 0.5 0.5 -1.2 0.5 2.8 0.5 -0.8 0.5 -1.3 0.5 1.9 0.5 1.7 0.5 -1.3 0.5 0.4 0.5 -2.8 0.5 1.2 0.5 0 0.5 0.2 0.5 1.8 0.5 -1.2 0.5 -0.9 0.5 2.4 0.5 -0.1 0.5 -3 0.5 0.6 0.5 -0.9 0.5 2.6 0.5 -1 0.5 -0.6 0.5 3.7 0.5 -0.1 0.5 -2.3 0.5 -1.2 0.5 3.1 0.5 2.3 0.5 0 0.5 -0.5 0.5 -1.4 0.5 1.6 0.5 0.2 0.5 -3.7 0.5 3.9 0.5 -0.2 0.5 -0.7 0.5 0.2 0.5 -2.9 0.5 2.1 0.5 -3.5 0.5 2.1 0.5 -4.1 0.5 2.5 0.5 0.4 0.5 1.1 0.5 -0.3 0.5 -3.5 0.5 2.1 0.5 -2.5 0.5 1.8 0.5 0 0.5 -1.5 0.5 0.5 0.5 2 0.5 -2.4 0.5 -1.4 0.5 4.3 0.5 -2.6 0.5 2.5 0.5 -0.8 0.5 -2.2 0.5 0.4 0.5 3.1 0.5 -1.4 0.5 3.4 0.5 -1 0.5 -3.4 0.5 0.9 0.5 3.5 0.5 -0.6 0.5 -1.6 0.5 0.7 0.5 -0.8 0.5 1.1 0.5 -0.7 0.5 2.2 0.5 -2.6 0.5 0.5 0.5 0.5 0.5 2.3 0.5 -2.1 0.5 -1.5 0.5 0.1 0.5 2.6 0.5 -2.6 0.5 4.3 0.5 -3.7 0.5 1.4 0.5 -1.4 0.5 2 0.5 0.8 0.5 -0.7 0.5 -2.1 0.5 0.2 0.5 1.7 0.5 -0.6 0.5 -2.9 0.5 -0.7 0.5 0.6 0.5 1.5 0.5 -1.2 0.5 2.2 0.5 -2.2 0.5 -0.5 0.5 -0.9 0.5 0 0.5 2 0.5 -1.9 0.5 -0.9 0.5 3.3 0.5 -2.1 0.5 -1.5 0.5 4.8 0.5 -0.8 0.5 0.8 0.5 -1.6 0.5 -1.9 0.5 2.4 0.5 -0.1 0.5 -2.4 0.5 0.8 0.5 -1.1 0.5 1.6 0.5 -0.3 0.5 -2.3 0.5 -0.4 0.5 2.5 0.5 0 0.5 0.7 0.5 -1 0.5 1.6 0.5 -0.1 0.5 -0.8 0.5 0.2 0.5 0 0.5 1.1 0.5 -2.5 0.5 3.8 0.5 -0.5 0.5 -0.3 0.5 -3.2 0.5 0.3 0.5 -0.9 0.5 1.6 0.5 -1.1 0.5 0.7 0.5 0.5 0.5 -0.1 0.5 1.5 0.5 -2.6 0.5 -0.7 0.5 1.3 0.5 -0.2 0.5 0.6 0.5 -2.5 0.5 -0.6 0.5 4.6 0.5 -1.7 0.5 -2.4 0.5 -0.3 0.5 3.3 0.5 1.2 0.5 -3.9 0.5 4.4 0.5 -0.6 0.5 -1.6 0.5 -2.1 0.5 1.4 0.5 2.8 0.5 0 0.5 -3.7 0.5 1.7 0.5 2 0.5 -2.8 0.5 0.8 0.5 -2.2 0.5 1.7 0.5 -2.3 0.5 4.1 0.5 -2.5 0.5 -2.2 0.5 0.7 0.5 2.7 0.5 0.5 0.5 0 0.5 -1.3 0.5 -3.4 0.5 3.2 0.5 -1 0.5 0.5 0.5 -1.4 0.5 -1 0.5 3.8 0.5 -1.3 0.5 0.8 0.5 0.5 0.5 -2.7 0.5 2.1 0.5 1.8 0.5 -2.7 0.5 0.5 0.5 -1.4 0.5 1.3 0.5 1.5 0.5 -2.9 0.5 0.5 0.5 -0.5 0.5 2.4 0.5 -3.8 0.5 0.6 0.5 1.4 0.5 -1.1 0.5 -0.9 0.5 1.1 0.5 -0.4 0.5 1.9 0.5 1.3 0.5 -3.9 0.5 -1 0.5 2.8 0.5 -2.7 0.5 2 0.5 -1.4 0.5 0.4 0.5 2.2 0.5 -0.4 0.5 1.8 0.5 -0.8 0.5 -1 0.5 -1.2 0.5 1.4 0.5 1.1 0.5 -3.4 0.5 4.7 0.5 -0.2 0.5 -2.6 0.5 0.3 0.5 -2.6 0.5 -0.1 0.5 1.2 0.5 2.2 0.5 -2.7 0.5 4.6 0.5 -0.1 0.5 -1.3 0.5 -1.7 0.5 4 0.5 -3.7 0.5 1.5 0.5 2.7 0.5 -2.9 0.5 0.4 0.5 3.6 0.5 -1 0.5 -1.8 0.5 -0.6 0.5 0 0.5 0.8 0.5 1.4 0.5 1.5 0.5 -3.2 0.5 1.3 0.5 3.1 0.5 -5.4 0.5 4.5 0.5 -2.5 0.5 1 0.5 -2.7 0.5 1.9 0.5 -1.3 0.5 -1.4 0.5 2.3 0.5 -1.8 0.5 -1 0.5 2 0.5 -0.1 0.5 -2.1 0.5 -0.4 0.5 4.6 0.5 -4.5 0.5 1 0.5 1.3 0.5 0.2 0.5 2 0.5 -1.6 0.5 -2.3 0.5 -0.2 0.5 1.1 0.5 -1.7 0.5 4.7 0.5 -0.8 0.5 -0.3 0.5 -4.5 0.5 4.1 0.5 -3.6 0.5 0.1 0.5 3.7 0.5 -3.4 0.5 1.5 0.5 -2.3 0.5 -0.1 0.5 2.9 0.5 0.5 0.5 -2.5 0.5 0.7 0.5 -3.3 0.5 0 0.5 4.1 0.5 -3.8 0.5 4.3 0.5 -0.3 0.5 -0.5 0.5 0.6 0.5 -1.1 0.5 -1.9 0.5 -1.6 0.5 3.8 0.5 -3.8 0.5 5.2 0.5 -3.4 0.5 0.6 0.5 -1 0.5 2.9 0.5 0.6 0.5 -0.3 0.5 -1.8 0.5 -1 0.5 1.6 0.5 -2 0.5 1.5 0.5 -1.7 0.5 1 0.5 -0.4 0.5 -2.3 0.5 -1.4 0.5 1.5 0.5 -2.4 0.5 1.8 0.5 0 0.5 2.2 0.5 -1.5 0.5 -0.7 0.5 -0.5 0.5 2.1 0.5 -4.9 0.5 4.1 0.5 -2.1 0.5 -0.1 0.5 -1.4 0.5 0.8 0.5 -2.3 0.5 3.8 0.5 -1.3 0.5 1.6 0.5 -1.1 0.5 -2.5 0.5 -0.7 0.5 4.3 0.5 -1.2 0.5 -1.7 0.5 2.7 0.5 -3.1 0.5 -0.1 0.5 -0.1 0.5 2.1 0.5 1.8 0.5 -2.9 0.5 -1 0.5 3.8 0.5 -0.2 0.5 -2.7 0.5 0.3 0.5 -1.5 0.5 0.8 0.5 0.4 0.5 -0.4 0.5 1.9 0.5 -3.5 0.5 3.4 0.5 -1.4 0.5 1.6 0.5 -0.2 0.5 -0.1 0.5 -3.9 0.5 4.6 0.5 -0.5 0.5 -3 0.5 -0.9 0.5 1.8 0.5 2 0.5 -2.6 0.5 -0.5 0.5 0.1 0.5 0.9 0.5 -0.3 0.5 3.6 0.5 -3.6 0.5 -0.5 0.5 1.3 0.5 2.7 0.5 -3.7 0.5 0.3 0.5 0 0.5 1.9 0.5 -2 0.5 2.3 0.5 -0.1 0.5 -2.7 0.5 0.8 0.5 3.1 0.5 -4 0.5 -0.7 0.5 3.5 0.5 0.2 0.5 -2.7 0.5 -0.6 0.5 2.8 0.5 -4.3 0.5 2.6 0.5 -1.5 0.5 3.4 0.5 -2.1 0.5 -0.9 0.5 0.6 0.5 -0.3 0.5 2.3 0.5 -4.7 0.5 2.7 0.5 0.5 0.5 -2.5 0.5 0.8 0.5 -1 0.5 -0.1 0.5 -0.9 0.5 3.2 0.5 -3.2 0.5 3.5 0.5 -2.9 0.5 1.4 0.5 -2.1 0.5 0.9 0.5 2.7 0.5 -2.5 0.5 2.2 0.5 0.1 0.5 0.9 0.5 -3.2 0.5 3.3 0.5 0 0.5 -3.3 0.5 -0.3 0.5 0.1 0.5 2.9 0.5 1.9 0.5 -1.3 0.5 -1.2 0.5 2 0.5 1.3 0.5 -0.6 0.5 -1 0.5 -2.7 0.5 4 0.5 -1.2 0.5 -3.5 0.5 4.3 0.5 -1.2 0.5 -0.8 0.5 -1.5 0.5 -0.4 0.5 0.8 0.5 1.2 0.5 -2.4 0.5 1.5 0.5 -1.1 0.5 -0.2 0.5 1.3 0.5 -1.9 0.5 1.8 0.5 2 0.5 -3.7 0.5 0.1 0.5 1.2 0.5 3 0.5 -1.7 0.5 -0.9 0.5 -2.4 0.5 -0.5 0.5 4.8 0.5 -1.8 0.5 -2.1 0.5 1.7 0.5 -1.5 0.5 0.3 0.5 2.8 0.5 0 0.5 -0.4 0.5 1.5 0.5 -4.6 0.5 2.1 0.5 1.1 0.5 -1.8 0.5 2.3 0.5 -1.4 0.5 0.4 0.5 -2.7 0.5 4.5 0.5 0.2 0.5 -3 0.5 0.2 0.5 2.8 0.5 -1.7 0.5 0.3 0.5 1.5 0.5 -0.8 0.5 -0.3 0.5 1.7 0.5 0.1 0.5 0.1 0.5 0.1 0.5 -1.4 0.5 -2.6 0.5 3.2 0.5 -4.4 0.5 4.5 0.5 -5 0.5 1.4 0.5 -1.2 0.5 0.3 0.5 2.9 0.5 -1.4 0.5 -1.9 0.5 3.4 0.5 -2.8 0.5 -0.5 0.5 1.1 0.5 2.7 0.5 1 0.5 -1.1 0.5 -1.2 0.5 0.8 0.5 -0.1 0.5 1.8 0.5 1 0.5 -1.9 0.5 -1 0.5 3.4 0.5 -1.6 0.5 1.8 0.5 -2 0.5 3.1 0.5 1"/>
<g stroke="#e97132" stroke-width="6.6">
<path d="M293.3 181.3l1 0 1 0 1 0 1 0 1 0 1 0 1 0 1 0 1 0 1 -3.7 1 3.7 1 0 1 -3.7 1 3.7 1 0 1 -3.7 1 3.7 1 0 1 0 1 0 1 0 1 0 1 0 1 0 1 0 1 0 1 0 1 0 1 0 1 0 1 0 1 0 1 0 1 0 1 0 1 0 1 0 1 0"/>
<path d="M377.6 181.3l1 0 1 0 1 0 1 3.7 1 0 1 0 1 0 1 0 1 0 1 3.7 1 0 1 0 1 3.7 1 0 1 0 1 0 1 0 1 0 1 0 1 3.7 1 0 1 0 1 0 1 0 1 0 1 0 1 0"/>
<path d="M443.9 218.3l1 0 1 0 1 -3.7 1 3.7 1 0 1 0 1 0 1 0 1 0 1 0 1 0 1 0 1 0 1 0 1 0 1 3.7 1 0 1 0 1 0 1 0 1 0 1 0 1 0 1 0 1 0 1 0 1 0 1 3.7 1 -3.7 1 0 1 3.7 1 -3.7 1 3.7"/>
<path d="M511.5 240.5l1 0 1 0 1 0 1 0 1 3.7 1 0 1 0 1 0 1 0 1 0 1 3.7 1 0 1 0 1 0 1 3.7 1 0 1 0 1 0 1 3.7 1 0 1 0 1 0 1 0 1 0 1 0 1 0 1 -3.7 1 0 1 0 1 0"/>
<path d="M581.5 266.4l1 0 1 3.7 1 0 1 0 1 0 1 0 1 0 1 3.7 1 0 1 -3.7 1 3.7 1 -3.7 1 3.7 1 0 1 0 1 -3.7 1 3.7 1 0 1 -3.7 1 3.7 1 0 1 0 1 0 1 0 1 3.7 1 0 1 0 1 0 1 0 1 3.7"/>
<path d="M656.1 292.3l1 0 1 0 1 3.7 1 0 1 0 1 3.7 1 0 1 -3.7 1 3.7 1 0 1 -3.7 1 0 1 0 1 0 1 0 1 0 1 0 1 0 1 0 1 0 1 0 1 0 1 0 1 0 1 0 1 0 1 0 1 0 1 0 1 0 1 0 1 3.7 1 0 1 0"/>
<path d="M730.4 307.1l1 -3.7 1 3.7 1 0 1 0 1 0 1 0 1 0 1 -3.7 1 0 1 0 1 0 1 0 1 0 1 0 1 0 1 0 1 0 1 0 1 0 1 0 1 3.7 1 0 1 0 1 0 1 0 1 0 1 0 1 3.7 1 0 1 0 1 0 1 0 1 0"/>
<path d="M808.0 307.1l1 0 1 0 1 0 1 0 1 0 1 0 1 0 1 0 1 0 1 0 1 0 1 0 1 0 1 0 1 0 1 -3.7 1 3.7 1 -3.7 1 0 1 0 1 0 1 0 1 0 1 0 1 0 1 0 1 0 1 0"/>
<path d="M876.5 296.0l1 0 1 0 1 0 1 0 1 -3.7 1 0 1 0 1 0 1 0 1 0 1 0 1 0 1 0 1 0 1 -3.7 1 0 1 0 1 0 1 0 1 0 1 -3.7 1 0 1 0 1 0 1 0"/>
<path d="M942.1 270.1l1 0 1 0 1 0 1 0 1 0 1 3.7 1 0 1 -3.7 1 3.7 1 -3.7 1 0 1 0 1 0 1 0 1 0 1 -3.7 1 0 1 0 1 0 1 0 1 0 1 0 1 0 1 0 1 0 1 0 1 0 1 0 1 0 1 0 1 0 1 0 1 0"/>
<path d="M1019.6 255.3l1 0 1 0 1 0 1 0 1 0 1 3.7 1 0 1 0 1 0 1 -3.7 1 0 1 0 1 0 1 0 1 0 1 -3.7 1 0 1 0 1 0 1 0 1 0 1 0 1 0 1 0 1 0 1 0 1 -3.7 1 3.7 1 0 1 -3.7 1 0 1 0 1 0 1 3.7 1 0 1 -3.7"/>
<path d="M1093.5 244.2l1 0 1 3.7 1 -3.7 1 3.7 1 0 1 0 1 0 1 -3.7 1 0 1 0 1 0 1 0 1 0 1 0 1 0 1 0 1 0 1 -3.7 1 0 1 0 1 0 1 0 1 0 1 -3.7 1 0 1 0 1 0 1 0 1 0 1 0 1 0"/>
<path d="M1164.3 222.0l1 -3.7 1 0 1 0 1 0 1 0 1 -3.7 1 3.7 1 0 1 -3.7 1 0 1 3.7 1 -3.7 1 3.7 1 -3.7 1 0 1 0 1 0 1 3.7 1 -3.7 1 0 1 0 1 0 1 0 1 0 1 0 1 0 1 0 1 0 1 0 1 3.7 1 -3.7 1 0 1 0 1 0"/>
<path d="M1236.1 210.9l1 0 1 0 1 0 1 0 1 0 1 0 1 0 1 0 1 0 1 0 1 0 1 0 1 -3.7 1 3.7 1 -3.7 1 0 1 0 1 0 1 0 1 0 1 0 1 -3.7 1 0 1 0 1 0 1 0 1 0 1 0 1 0 1 0 1 0 1 3.7 1 -3.7 1 0 1 0 1 0 1 0"/>
<path d="M1314.9 196.1l1 0 1 0 1 0 1 0 1 0 1 -3.7 1 3.7 1 -3.7 1 0 1 0 1 0 1 0 1 0 1 0 1 -3.7 1 0 1 3.7 1 -3.7 1 0 1 0 1 0 1 0 1 0 1 0 1 0 1 0 1 0 1 0 1 0 1 0 1 0 1 0 1 0 1 0"/>
<path d="M1393.7 185.0l1 0 1 0 1 0 1 0 1 0 1 0 1 0 1 0 1 0 1 0 1 0 1 0 1 0 1 0 1 0 1 0 1 -3.7 1 0 1 0 1 0 1 0 1 -3.7 1 0 1 0 1 0 1 3.7 1 0 1 0"/>
<path d="M1465.3 181.3l1 0 1 0 1 0 1 -3.7 1 0 1 0 1 0 1 0 1 0 1 0 1 0 1 0 1 0 1 0 1 0 1 -3.7 1 0 1 0 1 0 1 0 1 0 1 3.7 1 0 1 0 1 0 1 0 1 0 1 0 1 0 1 0 1 0 1 0 1 0 1 0 1 0"/>
<path d="M1537.3 173.9l1 3.7 1 0 1 0 1 0 1 0 1 0 1 0 1 0 1 0 1 0 1 0 1 0 1 0 1 0 1 0 1 0 1 0 1 0 1 0 1 0 1 0 1 0 1 0 1 0 1 0 1 0 1 0 1 0 1 0 1 0 1 0 1 0 1 0 1 0 1 0 1 0 1 -3.7"/>
<path d="M1612.9 173.9l1 0 1 0 1 0 1 0 1 0 1 0 1 0 1 -3.7 1 0 1 0 1 0 1 0 1 0 1 0 1 0 1 0 1 0 1 0 1 0 1 0 1 0 1 -3.7 1 3.7 1 0 1 0 1 -3.7 1 3.7 1 0 1 0 1 0 1 0 1 0 1 0 1 0 1 0"/>
<path d="M1688.0 173.9l1 0 1 0 1 0 1 0 1 0 1 0 1 0 1 0 1 0 1 0 1 0 1 0 1 0 1 -3.7 1 3.7 1 0 1 0 1 0 1 0 1 0 1 0 1 0 1 0 1 0 1 0 1 0 1 0 1 0 1 0 1 0 1 0 1 0 1 0"/>
<path d="M1758.0 170.2l1 3.7 1 0 1 0 1 0 1 0 1 0 1 0 1 0 1 0 1 0 1 0 1 0 1 0 1 0 1 0 1 3.7 1 0 1 -3.7 1 3.7 1 0 1 0 1 0 1 0 1 -3.7 1 0 1 0 1 3.7 1 -3.7 1 0 1 0"/>
<path d="M1828.9 173.9l1 0 1 0 1 0 1 -3.7 1 0 1 0 1 3.7 1 -3.7 1 3.7 1 -3.7 1 0 1 0 1 3.7 1 0 1 0 1 0 1 0 1 0 1 0 1 0 1 0 1 0 1 0 1 0 1 0 1 -3.7 1 0 1 0 1 0 1 0"/>
<path d="M1897.7 170.2l1 3.7 1 0 1 -3.7 1 3.7 1 0 1 0 1 0 1 0 1 -3.7 1 0 1 3.7 1 0 1 0 1 -3.7 1 3.7 1 0 1 0 1 0 1 0 1 0 1 0 1 0 1 0 1 0 1 0 1 0 1 0 1 0 1 3.7 1 0 1 0 1 0 1 0 1 0"/>
<path d="M1973.5 173.9l1 3.7 1 0 1 0 1 0 1 0 1 0 1 0 1 0 1 0 1 0 1 0 1 0 1 0 1 0 1 0 1 0 1 0 1 0 1 0 1 0 1 0 1 0 1 3.7 1 -3.7 1 3.7 1 0 1 0 1 0 1 0 1 0 1 0 1 0 1 0 1 0 1 0 1 0"/>
<path d="M2051.0 177.6l1 0 1 0 1 0 1 0 1 0 1 0 1 0 1 0 1 0 1 0 1 3.7 1 0 1 3.7 1 0 1 0 1 0 1 0 1 0 1 0 1 0 1 0 1 0 1 0 1 0 1 0 1 0 1 0 1 0 1 0 1 0 1 0 1 0 1 0 1 0 1 0"/>
<path d="M2124.9 188.7l1 0 1 0 1 0 1 0 1 0 1 0 1 0 1 0 1 0 1 0 1 0 1 3.7 1 -3.7 1 0 1 0 1 0 1 0 1 0 1 3.7 1 0 1 0 1 0 1 0 1 -3.7 1 3.7 1 0 1 0 1 0 1 0 1 0 1 -3.7 1 0 1 0"/>
<path d="M2201.2 185.0l1 0 1 0 1 0 1 0 1 0 1 0 1 0 1 0 1 0 1 0 1 0 1 0 1 0 1 0 1 0 1 -3.7 1 0 1 0 1 0 1 0 1 0 1 0 1 0 1 0 1 0 1 0 1 0 1 0 1 0 1 0 1 0 1 0"/>
<path d="M355.1 180.8h0.1"/>
<path d="M425.9 205.1h0.1"/>
<path d="M493.4 228.4h0.1"/>
<path d="M561.2 258.6h0.1"/>
<path d="M635.3 285.2h0.1"/>
<path d="M712.9 299.7h0.1"/>
<path d="M787.9 311.7h0.1"/>
<path d="M856.5 298.9h0.1"/>
<path d="M920.3 276.2h0.1"/>
<path d="M996.4 258.9h0.1"/>
<path d="M1071.4 246.1h0.1"/>
<path d="M1144.8 231.4h0.1"/>
<path d="M1216.6 207.6h0.1"/>
<path d="M1293.9 198.8h0.1"/>
<path d="M1371.2 184.1h0.1"/>
<path d="M1444.0 181.3h0.1"/>
<path d="M1518.6 180.1h0.1"/>
<path d="M1590.9 175.1h0.1"/>
<path d="M1668.5 172.1h0.1"/>
<path d="M1737.8 174.3h0.1"/>
<path d="M1808.3 178.1h0.1"/>
<path d="M1878.9 172.3h0.1"/>
<path d="M1952.0 180.8h0.1"/>
<path d="M2031.5 180.8h0.1"/>
<path d="M2105.8 187.1h0.1"/>
<path d="M2175.7 184.3h0.1"/>
<path d="M2252.0 178.6h0.1"/>
</g>
</g>
<path stroke="#156082" stroke-width="16" d="M1021.7 874.4H1149.1"/>
<path stroke="#196b24" stroke-width="7.8" d="M1642 874.6H1664.8M1695.4 874.6H1718.2M1748.4 874.6H1770.6"/>
<path stroke="#0f9ed5" stroke-width="9.4" d="M1021.5 976.1H1149"/>
<path stroke="#f2aa84" stroke-width="9.4" d="M1642.7 976.1H1769.8"/>
<path stroke="#e97132" stroke-width="7.3" d="M1022.6 1078.7H1065.2M1091.2 1078.7h0.1M1117.6 1078.7H1149.4"/>
</g>
<g font-family="'Liberation Serif', 'DejaVu Serif', serif" fill="#000000">
<text transform="translate(231 57.0) scale(0.935 1)" font-size="65" text-anchor="end">10.50</text>
<text transform="translate(231 245.0) scale(0.935 1)" font-size="65" text-anchor="end">10.25</text>
<text transform="translate(231 434.0) scale(0.935 1)" font-size="65" text-anchor="end">10.00</text>
<text transform="translate(231 623.0) scale(0.935 1)" font-size="65" text-anchor="end">9.75</text>
<text transform="translate(231 812.0) scale(0.935 1)" font-size="65" text-anchor="end">9.50</text>
<text transform="translate(231 1001.0) scale(0.935 1)" font-size="65" text-anchor="end">9.25</text>
<text transform="translate(231 1189.0) scale(0.935 1)" font-size="65" text-anchor="end">9.00</text>
<text transform="translate(293.5 1279) scale(0.935 1)" font-size="65" text-anchor="middle">0</text>
<text transform="translate(538.5 1279) scale(0.935 1)" font-size="65" text-anchor="middle">1</text>
<text transform="translate(784.5 1279) scale(0.935 1)" font-size="65" text-anchor="middle">2</text>
<text transform="translate(1029.5 1279) scale(0.935 1)" font-size="65" text-anchor="middle">3</text>
<text transform="translate(1275.5 1279) scale(0.935 1)" font-size="65" text-anchor="middle">4</text>
<text transform="translate(1521.5 1279) scale(0.935 1)" font-size="65" text-anchor="middle">5</text>
<text transform="translate(1766.5 1279) scale(0.935 1)" font-size="65" text-anchor="middle">6</text>
<text transform="translate(2012.5 1279) scale(0.935 1)" font-size="65" text-anchor="middle">7</text>
<text transform="translate(2257.5 1279) scale(0.935 1)" font-size="65" text-anchor="middle">8</text>
<text transform="translate(1193.5 1393.4) scale(1.025 1)" font-size="62" text-anchor="middle">t (s)</text>
<g transform="translate(61 713) rotate(-90)" font-size="62"><text><tspan x="1" y="0" font-style="italic">p</tspan><tspan x="37" y="0">/</tspan><tspan x="60" y="0" font-style="italic">γ</tspan><tspan x="82" y="15" font-style="italic" font-size="46">w</tspan></text><text transform="translate(140.5 0) scale(1.04 1)">(m)</text></g>
<text y="887.8" font-size="46"><tspan x="1162.8" textLength="104.0" lengthAdjust="spacingAndGlyphs">Type</tspan> <tspan x="1276.1" textLength="17.2" lengthAdjust="spacingAndGlyphs">I</tspan> <tspan x="1304.0" textLength="99.3" lengthAdjust="spacingAndGlyphs">(Test</tspan> <tspan x="1415.4" textLength="75.1" lengthAdjust="spacingAndGlyphs">No.</tspan> <tspan x="1500.2" textLength="39.0" lengthAdjust="spacingAndGlyphs">1)</tspan></text>
<text y="887.8" font-size="46"><tspan x="1783.7" textLength="104.0" lengthAdjust="spacingAndGlyphs">Type</tspan> <tspan x="1897.1" textLength="32.5" lengthAdjust="spacingAndGlyphs">II</tspan> <tspan x="1940.4" textLength="99.3" lengthAdjust="spacingAndGlyphs">(Test</tspan> <tspan x="2051.8" textLength="74.1" lengthAdjust="spacingAndGlyphs">No.</tspan> <tspan x="2134.9" textLength="40.8" lengthAdjust="spacingAndGlyphs">3)</tspan></text>
<text y="989.9" font-size="46"><tspan x="1162.8" textLength="104.0" lengthAdjust="spacingAndGlyphs">Type</tspan> <tspan x="1276.2" textLength="48.1" lengthAdjust="spacingAndGlyphs">III</tspan> <tspan x="1335.1" textLength="99.2" lengthAdjust="spacingAndGlyphs">(Test</tspan> <tspan x="1446.5" textLength="73.9" lengthAdjust="spacingAndGlyphs">No.</tspan> <tspan x="1528.8" textLength="41.0" lengthAdjust="spacingAndGlyphs">5)</tspan></text>
<text y="989.9" font-size="46"><tspan x="1783.7" textLength="104.0" lengthAdjust="spacingAndGlyphs">Type</tspan> <tspan x="1897.2" textLength="48.6" lengthAdjust="spacingAndGlyphs">IV</tspan> <tspan x="1958.7" textLength="98.3" lengthAdjust="spacingAndGlyphs">(Test</tspan> <tspan x="2069.1" textLength="111.5" lengthAdjust="spacingAndGlyphs">No.7)</tspan></text>
<text y="1091.9" font-size="46"><tspan x="1162.8" textLength="104.0" lengthAdjust="spacingAndGlyphs">Type</tspan> <tspan x="1277.4" textLength="32.9" lengthAdjust="spacingAndGlyphs">V</tspan> <tspan x="1322.3" textLength="98.4" lengthAdjust="spacingAndGlyphs">(Test</tspan> <tspan x="1432.6" textLength="75.1" lengthAdjust="spacingAndGlyphs">No.</tspan> <tspan x="1517.4" textLength="62.2" lengthAdjust="spacingAndGlyphs">12)</tspan></text>
</g>
</svg>
</body></html>
